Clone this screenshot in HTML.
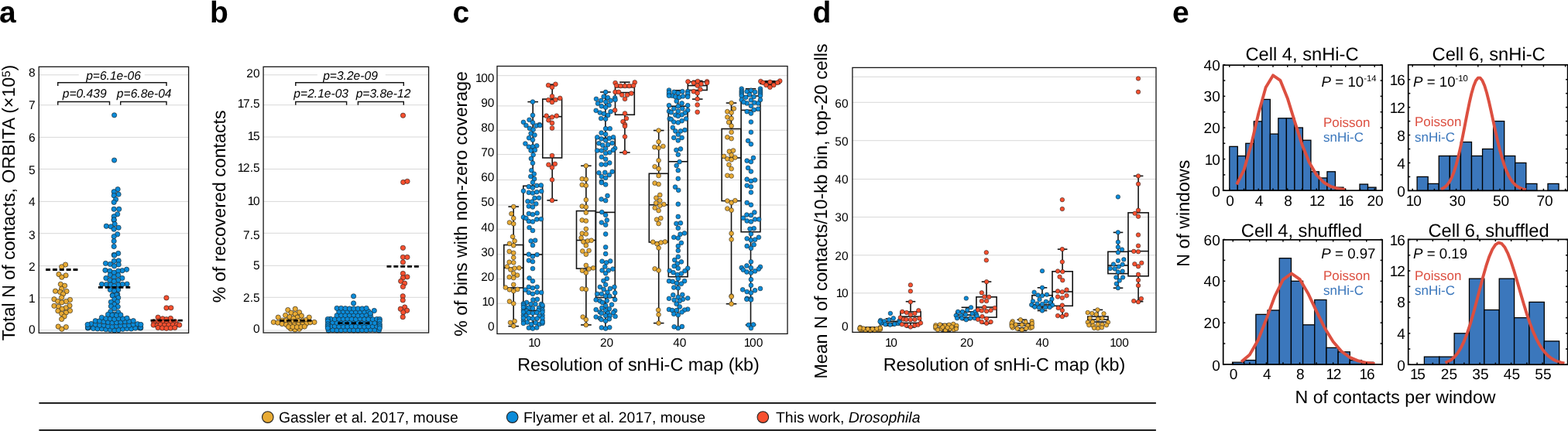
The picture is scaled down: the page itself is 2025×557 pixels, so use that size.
<!DOCTYPE html>
<html><head><meta charset="utf-8"><title>Figure</title>
<style>html,body{margin:0;padding:0;background:#fff;}svg{display:block;}</style></head>
<body>
<svg width="2025" height="557" viewBox="0 0 2025 557" font-family="'Liberation Sans', Arial, Helvetica, sans-serif" text-rendering="geometricPrecision">
<text x="-1.00" y="28.60" font-size="39" text-anchor="start" fill="#000" font-weight="bold">a</text>
<text x="271.00" y="29.00" font-size="39" text-anchor="start" fill="#000" font-weight="bold">b</text>
<text x="584.50" y="28.50" font-size="39" text-anchor="start" fill="#000" font-weight="bold">c</text>
<text x="1049.50" y="28.50" font-size="39" text-anchor="start" fill="#000" font-weight="bold">d</text>
<text x="1514.00" y="28.50" font-size="39" text-anchor="start" fill="#000" font-weight="bold">e</text>
<line x1="50.20" y1="96.80" x2="243.60" y2="96.80" stroke="#d8d8d8" stroke-width="1" />
<line x1="50.20" y1="135.80" x2="243.60" y2="135.80" stroke="#d8d8d8" stroke-width="1" />
<line x1="50.20" y1="177.40" x2="243.60" y2="177.40" stroke="#d8d8d8" stroke-width="1" />
<line x1="50.20" y1="218.50" x2="243.60" y2="218.50" stroke="#d8d8d8" stroke-width="1" />
<line x1="50.20" y1="260.40" x2="243.60" y2="260.40" stroke="#d8d8d8" stroke-width="1" />
<line x1="50.20" y1="301.70" x2="243.60" y2="301.70" stroke="#d8d8d8" stroke-width="1" />
<line x1="50.20" y1="343.60" x2="243.60" y2="343.60" stroke="#d8d8d8" stroke-width="1" />
<line x1="50.20" y1="384.80" x2="243.60" y2="384.80" stroke="#d8d8d8" stroke-width="1" />
<line x1="50.20" y1="426.70" x2="243.60" y2="426.70" stroke="#d8d8d8" stroke-width="1" />
<text x="45.60" y="99.38" font-size="15.5" text-anchor="end" fill="#000">8</text>
<text x="45.60" y="141.38" font-size="15.5" text-anchor="end" fill="#000">7</text>
<text x="45.60" y="182.58" font-size="15.5" text-anchor="end" fill="#000">6</text>
<text x="45.60" y="224.88" font-size="15.5" text-anchor="end" fill="#000">5</text>
<text x="45.60" y="265.88" font-size="15.5" text-anchor="end" fill="#000">4</text>
<text x="45.60" y="309.08" font-size="15.5" text-anchor="end" fill="#000">3</text>
<text x="45.60" y="349.88" font-size="15.5" text-anchor="end" fill="#000">2</text>
<text x="45.60" y="390.88" font-size="15.5" text-anchor="end" fill="#000">1</text>
<text x="45.60" y="431.38" font-size="15.5" text-anchor="end" fill="#000">0</text>
<text x="18.80" y="262.00" font-size="23.2" text-anchor="middle" fill="#000" transform="rotate(-90 18.80 262.00)">Total N of contacts, ORBITA (×10<tspan font-size="15" dy="-5.8">5</tspan><tspan dy="5.8">)</tspan></text>
<circle cx="84.54" cy="342.05" r="3.15" fill="#E8AB35" stroke="#1a1a1a" stroke-width="0.6"/>
<circle cx="79.60" cy="344.81" r="3.15" fill="#E8AB35" stroke="#1a1a1a" stroke-width="0.6"/>
<circle cx="75.95" cy="354.49" r="3.15" fill="#E8AB35" stroke="#1a1a1a" stroke-width="0.6"/>
<circle cx="85.04" cy="355.88" r="3.15" fill="#E8AB35" stroke="#1a1a1a" stroke-width="0.6"/>
<circle cx="79.80" cy="358.15" r="3.15" fill="#E8AB35" stroke="#1a1a1a" stroke-width="0.6"/>
<circle cx="78.32" cy="367.33" r="3.15" fill="#E8AB35" stroke="#1a1a1a" stroke-width="0.6"/>
<circle cx="83.56" cy="369.21" r="3.15" fill="#E8AB35" stroke="#1a1a1a" stroke-width="0.6"/>
<circle cx="79.60" cy="373.16" r="3.15" fill="#E8AB35" stroke="#1a1a1a" stroke-width="0.6"/>
<circle cx="71.51" cy="376.22" r="3.15" fill="#E8AB35" stroke="#1a1a1a" stroke-width="0.6"/>
<circle cx="86.02" cy="376.42" r="3.15" fill="#E8AB35" stroke="#1a1a1a" stroke-width="0.6"/>
<circle cx="77.63" cy="377.41" r="3.15" fill="#E8AB35" stroke="#1a1a1a" stroke-width="0.6"/>
<circle cx="81.58" cy="379.88" r="3.15" fill="#E8AB35" stroke="#1a1a1a" stroke-width="0.6"/>
<circle cx="79.60" cy="384.44" r="3.15" fill="#E8AB35" stroke="#1a1a1a" stroke-width="0.6"/>
<circle cx="69.93" cy="386.72" r="3.15" fill="#E8AB35" stroke="#1a1a1a" stroke-width="0.6"/>
<circle cx="90.47" cy="387.41" r="3.15" fill="#E8AB35" stroke="#1a1a1a" stroke-width="0.6"/>
<circle cx="74.67" cy="389.38" r="3.15" fill="#E8AB35" stroke="#1a1a1a" stroke-width="0.6"/>
<circle cx="85.33" cy="389.58" r="3.15" fill="#E8AB35" stroke="#1a1a1a" stroke-width="0.6"/>
<circle cx="79.80" cy="390.86" r="3.15" fill="#E8AB35" stroke="#1a1a1a" stroke-width="0.6"/>
<circle cx="69.93" cy="395.31" r="3.15" fill="#E8AB35" stroke="#1a1a1a" stroke-width="0.6"/>
<circle cx="89.98" cy="395.01" r="3.15" fill="#E8AB35" stroke="#1a1a1a" stroke-width="0.6"/>
<circle cx="75.65" cy="396.30" r="3.15" fill="#E8AB35" stroke="#1a1a1a" stroke-width="0.6"/>
<circle cx="85.04" cy="397.78" r="3.15" fill="#E8AB35" stroke="#1a1a1a" stroke-width="0.6"/>
<circle cx="80.10" cy="399.26" r="3.15" fill="#E8AB35" stroke="#1a1a1a" stroke-width="0.6"/>
<circle cx="74.86" cy="401.73" r="3.15" fill="#E8AB35" stroke="#1a1a1a" stroke-width="0.6"/>
<circle cx="90.47" cy="401.53" r="3.15" fill="#E8AB35" stroke="#1a1a1a" stroke-width="0.6"/>
<circle cx="85.33" cy="404.00" r="3.15" fill="#E8AB35" stroke="#1a1a1a" stroke-width="0.6"/>
<circle cx="79.60" cy="405.48" r="3.15" fill="#E8AB35" stroke="#1a1a1a" stroke-width="0.6"/>
<circle cx="83.06" cy="408.94" r="3.15" fill="#E8AB35" stroke="#1a1a1a" stroke-width="0.6"/>
<circle cx="79.60" cy="412.40" r="3.15" fill="#E8AB35" stroke="#1a1a1a" stroke-width="0.6"/>
<circle cx="75.16" cy="421.98" r="3.15" fill="#E8AB35" stroke="#1a1a1a" stroke-width="0.6"/>
<circle cx="85.33" cy="422.67" r="3.15" fill="#E8AB35" stroke="#1a1a1a" stroke-width="0.6"/>
<circle cx="79.80" cy="425.23" r="3.15" fill="#E8AB35" stroke="#1a1a1a" stroke-width="0.6"/>
<circle cx="147.60" cy="148.80" r="3.15" fill="#0B8BD9" stroke="#1a1a1a" stroke-width="0.6"/>
<circle cx="147.56" cy="207.06" r="3.15" fill="#0B8BD9" stroke="#1a1a1a" stroke-width="0.6"/>
<circle cx="152.10" cy="244.59" r="3.15" fill="#0B8BD9" stroke="#1a1a1a" stroke-width="0.6"/>
<circle cx="147.16" cy="247.75" r="3.15" fill="#0B8BD9" stroke="#1a1a1a" stroke-width="0.6"/>
<circle cx="153.09" cy="251.11" r="3.15" fill="#0B8BD9" stroke="#1a1a1a" stroke-width="0.6"/>
<circle cx="147.16" cy="252.69" r="3.15" fill="#0B8BD9" stroke="#1a1a1a" stroke-width="0.6"/>
<circle cx="149.53" cy="257.63" r="3.15" fill="#0B8BD9" stroke="#1a1a1a" stroke-width="0.6"/>
<circle cx="147.16" cy="261.38" r="3.15" fill="#0B8BD9" stroke="#1a1a1a" stroke-width="0.6"/>
<circle cx="147.16" cy="270.27" r="3.15" fill="#0B8BD9" stroke="#1a1a1a" stroke-width="0.6"/>
<circle cx="153.68" cy="270.27" r="3.15" fill="#0B8BD9" stroke="#1a1a1a" stroke-width="0.6"/>
<circle cx="151.70" cy="276.79" r="3.15" fill="#0B8BD9" stroke="#1a1a1a" stroke-width="0.6"/>
<circle cx="147.16" cy="279.75" r="3.15" fill="#0B8BD9" stroke="#1a1a1a" stroke-width="0.6"/>
<circle cx="147.16" cy="284.30" r="3.15" fill="#0B8BD9" stroke="#1a1a1a" stroke-width="0.6"/>
<circle cx="147.16" cy="283.95" r="3.15" fill="#0B8BD9" stroke="#1a1a1a" stroke-width="0.6"/>
<circle cx="148.15" cy="289.48" r="3.15" fill="#0B8BD9" stroke="#1a1a1a" stroke-width="0.6"/>
<circle cx="137.28" cy="292.25" r="3.15" fill="#0B8BD9" stroke="#1a1a1a" stroke-width="0.6"/>
<circle cx="143.21" cy="292.84" r="3.15" fill="#0B8BD9" stroke="#1a1a1a" stroke-width="0.6"/>
<circle cx="153.09" cy="294.22" r="3.15" fill="#0B8BD9" stroke="#1a1a1a" stroke-width="0.6"/>
<circle cx="147.16" cy="296.20" r="3.15" fill="#0B8BD9" stroke="#1a1a1a" stroke-width="0.6"/>
<circle cx="151.70" cy="302.72" r="3.15" fill="#0B8BD9" stroke="#1a1a1a" stroke-width="0.6"/>
<circle cx="147.16" cy="305.68" r="3.15" fill="#0B8BD9" stroke="#1a1a1a" stroke-width="0.6"/>
<circle cx="147.16" cy="311.60" r="3.15" fill="#0B8BD9" stroke="#1a1a1a" stroke-width="0.6"/>
<circle cx="147.16" cy="318.52" r="3.15" fill="#0B8BD9" stroke="#1a1a1a" stroke-width="0.6"/>
<circle cx="152.69" cy="327.41" r="3.15" fill="#0B8BD9" stroke="#1a1a1a" stroke-width="0.6"/>
<circle cx="147.16" cy="329.38" r="3.15" fill="#0B8BD9" stroke="#1a1a1a" stroke-width="0.6"/>
<circle cx="147.75" cy="330.00" r="3.15" fill="#0B8BD9" stroke="#1a1a1a" stroke-width="0.6"/>
<circle cx="153.19" cy="336.91" r="3.15" fill="#0B8BD9" stroke="#1a1a1a" stroke-width="0.6"/>
<circle cx="147.26" cy="337.41" r="3.15" fill="#0B8BD9" stroke="#1a1a1a" stroke-width="0.6"/>
<circle cx="136.40" cy="340.37" r="3.15" fill="#0B8BD9" stroke="#1a1a1a" stroke-width="0.6"/>
<circle cx="142.32" cy="341.36" r="3.15" fill="#0B8BD9" stroke="#1a1a1a" stroke-width="0.6"/>
<circle cx="153.19" cy="341.85" r="3.15" fill="#0B8BD9" stroke="#1a1a1a" stroke-width="0.6"/>
<circle cx="147.56" cy="343.83" r="3.15" fill="#0B8BD9" stroke="#1a1a1a" stroke-width="0.6"/>
<circle cx="163.56" cy="348.27" r="3.15" fill="#0B8BD9" stroke="#1a1a1a" stroke-width="0.6"/>
<circle cx="135.90" cy="349.26" r="3.15" fill="#0B8BD9" stroke="#1a1a1a" stroke-width="0.6"/>
<circle cx="141.83" cy="350.25" r="3.15" fill="#0B8BD9" stroke="#1a1a1a" stroke-width="0.6"/>
<circle cx="157.93" cy="349.75" r="3.15" fill="#0B8BD9" stroke="#1a1a1a" stroke-width="0.6"/>
<circle cx="152.69" cy="350.25" r="3.15" fill="#0B8BD9" stroke="#1a1a1a" stroke-width="0.6"/>
<circle cx="147.26" cy="352.22" r="3.15" fill="#0B8BD9" stroke="#1a1a1a" stroke-width="0.6"/>
<circle cx="142.32" cy="355.48" r="3.15" fill="#0B8BD9" stroke="#1a1a1a" stroke-width="0.6"/>
<circle cx="152.69" cy="355.48" r="3.15" fill="#0B8BD9" stroke="#1a1a1a" stroke-width="0.6"/>
<circle cx="147.26" cy="358.15" r="3.15" fill="#0B8BD9" stroke="#1a1a1a" stroke-width="0.6"/>
<circle cx="136.89" cy="359.43" r="3.15" fill="#0B8BD9" stroke="#1a1a1a" stroke-width="0.6"/>
<circle cx="157.83" cy="359.43" r="3.15" fill="#0B8BD9" stroke="#1a1a1a" stroke-width="0.6"/>
<circle cx="141.83" cy="362.10" r="3.15" fill="#0B8BD9" stroke="#1a1a1a" stroke-width="0.6"/>
<circle cx="152.69" cy="362.10" r="3.15" fill="#0B8BD9" stroke="#1a1a1a" stroke-width="0.6"/>
<circle cx="147.26" cy="363.58" r="3.15" fill="#0B8BD9" stroke="#1a1a1a" stroke-width="0.6"/>
<circle cx="131.46" cy="367.33" r="3.15" fill="#0B8BD9" stroke="#1a1a1a" stroke-width="0.6"/>
<circle cx="164.05" cy="367.04" r="3.15" fill="#0B8BD9" stroke="#1a1a1a" stroke-width="0.6"/>
<circle cx="137.38" cy="367.53" r="3.15" fill="#0B8BD9" stroke="#1a1a1a" stroke-width="0.6"/>
<circle cx="158.12" cy="367.33" r="3.15" fill="#0B8BD9" stroke="#1a1a1a" stroke-width="0.6"/>
<circle cx="142.81" cy="368.02" r="3.15" fill="#0B8BD9" stroke="#1a1a1a" stroke-width="0.6"/>
<circle cx="152.69" cy="368.02" r="3.15" fill="#0B8BD9" stroke="#1a1a1a" stroke-width="0.6"/>
<circle cx="147.56" cy="369.51" r="3.15" fill="#0B8BD9" stroke="#1a1a1a" stroke-width="0.6"/>
<circle cx="142.32" cy="374.44" r="3.15" fill="#0B8BD9" stroke="#1a1a1a" stroke-width="0.6"/>
<circle cx="152.69" cy="374.44" r="3.15" fill="#0B8BD9" stroke="#1a1a1a" stroke-width="0.6"/>
<circle cx="147.56" cy="375.93" r="3.15" fill="#0B8BD9" stroke="#1a1a1a" stroke-width="0.6"/>
<circle cx="145.28" cy="381.36" r="3.15" fill="#0B8BD9" stroke="#1a1a1a" stroke-width="0.6"/>
<circle cx="151.70" cy="380.37" r="3.15" fill="#0B8BD9" stroke="#1a1a1a" stroke-width="0.6"/>
<circle cx="150.72" cy="380.99" r="3.15" fill="#0B8BD9" stroke="#1a1a1a" stroke-width="0.6"/>
<circle cx="145.28" cy="381.98" r="3.15" fill="#0B8BD9" stroke="#1a1a1a" stroke-width="0.6"/>
<circle cx="152.69" cy="384.74" r="3.15" fill="#0B8BD9" stroke="#1a1a1a" stroke-width="0.6"/>
<circle cx="147.75" cy="386.91" r="3.15" fill="#0B8BD9" stroke="#1a1a1a" stroke-width="0.6"/>
<circle cx="143.31" cy="390.37" r="3.15" fill="#0B8BD9" stroke="#1a1a1a" stroke-width="0.6"/>
<circle cx="151.70" cy="389.88" r="3.15" fill="#0B8BD9" stroke="#1a1a1a" stroke-width="0.6"/>
<circle cx="147.75" cy="393.33" r="3.15" fill="#0B8BD9" stroke="#1a1a1a" stroke-width="0.6"/>
<circle cx="143.31" cy="395.80" r="3.15" fill="#0B8BD9" stroke="#1a1a1a" stroke-width="0.6"/>
<circle cx="152.20" cy="396.30" r="3.15" fill="#0B8BD9" stroke="#1a1a1a" stroke-width="0.6"/>
<circle cx="147.75" cy="398.77" r="3.15" fill="#0B8BD9" stroke="#1a1a1a" stroke-width="0.6"/>
<circle cx="142.81" cy="402.72" r="3.15" fill="#0B8BD9" stroke="#1a1a1a" stroke-width="0.6"/>
<circle cx="152.69" cy="403.70" r="3.15" fill="#0B8BD9" stroke="#1a1a1a" stroke-width="0.6"/>
<circle cx="147.75" cy="406.17" r="3.15" fill="#0B8BD9" stroke="#1a1a1a" stroke-width="0.6"/>
<circle cx="115.10" cy="423.17" r="3.15" fill="#0B8BD9" stroke="#1a1a1a" stroke-width="0.6"/>
<circle cx="120.53" cy="424.43" r="3.15" fill="#0B8BD9" stroke="#1a1a1a" stroke-width="0.6"/>
<circle cx="125.97" cy="424.89" r="3.15" fill="#0B8BD9" stroke="#1a1a1a" stroke-width="0.6"/>
<circle cx="131.40" cy="424.93" r="3.15" fill="#0B8BD9" stroke="#1a1a1a" stroke-width="0.6"/>
<circle cx="136.83" cy="425.71" r="3.15" fill="#0B8BD9" stroke="#1a1a1a" stroke-width="0.6"/>
<circle cx="142.27" cy="426.21" r="3.15" fill="#0B8BD9" stroke="#1a1a1a" stroke-width="0.6"/>
<circle cx="147.70" cy="426.95" r="3.15" fill="#0B8BD9" stroke="#1a1a1a" stroke-width="0.6"/>
<circle cx="153.13" cy="426.55" r="3.15" fill="#0B8BD9" stroke="#1a1a1a" stroke-width="0.6"/>
<circle cx="158.57" cy="425.31" r="3.15" fill="#0B8BD9" stroke="#1a1a1a" stroke-width="0.6"/>
<circle cx="164.00" cy="424.70" r="3.15" fill="#0B8BD9" stroke="#1a1a1a" stroke-width="0.6"/>
<circle cx="169.43" cy="424.96" r="3.15" fill="#0B8BD9" stroke="#1a1a1a" stroke-width="0.6"/>
<circle cx="174.87" cy="424.02" r="3.15" fill="#0B8BD9" stroke="#1a1a1a" stroke-width="0.6"/>
<circle cx="180.30" cy="423.80" r="3.15" fill="#0B8BD9" stroke="#1a1a1a" stroke-width="0.6"/>
<circle cx="117.80" cy="418.51" r="3.15" fill="#0B8BD9" stroke="#1a1a1a" stroke-width="0.6"/>
<circle cx="123.24" cy="419.50" r="3.15" fill="#0B8BD9" stroke="#1a1a1a" stroke-width="0.6"/>
<circle cx="128.67" cy="420.32" r="3.15" fill="#0B8BD9" stroke="#1a1a1a" stroke-width="0.6"/>
<circle cx="134.11" cy="420.37" r="3.15" fill="#0B8BD9" stroke="#1a1a1a" stroke-width="0.6"/>
<circle cx="139.55" cy="421.63" r="3.15" fill="#0B8BD9" stroke="#1a1a1a" stroke-width="0.6"/>
<circle cx="144.98" cy="422.13" r="3.15" fill="#0B8BD9" stroke="#1a1a1a" stroke-width="0.6"/>
<circle cx="150.42" cy="421.26" r="3.15" fill="#0B8BD9" stroke="#1a1a1a" stroke-width="0.6"/>
<circle cx="155.85" cy="420.71" r="3.15" fill="#0B8BD9" stroke="#1a1a1a" stroke-width="0.6"/>
<circle cx="161.29" cy="420.68" r="3.15" fill="#0B8BD9" stroke="#1a1a1a" stroke-width="0.6"/>
<circle cx="166.73" cy="420.54" r="3.15" fill="#0B8BD9" stroke="#1a1a1a" stroke-width="0.6"/>
<circle cx="172.16" cy="419.43" r="3.15" fill="#0B8BD9" stroke="#1a1a1a" stroke-width="0.6"/>
<circle cx="177.60" cy="418.73" r="3.15" fill="#0B8BD9" stroke="#1a1a1a" stroke-width="0.6"/>
<circle cx="123.20" cy="414.67" r="3.15" fill="#0B8BD9" stroke="#1a1a1a" stroke-width="0.6"/>
<circle cx="128.64" cy="414.82" r="3.15" fill="#0B8BD9" stroke="#1a1a1a" stroke-width="0.6"/>
<circle cx="134.09" cy="415.56" r="3.15" fill="#0B8BD9" stroke="#1a1a1a" stroke-width="0.6"/>
<circle cx="139.53" cy="416.32" r="3.15" fill="#0B8BD9" stroke="#1a1a1a" stroke-width="0.6"/>
<circle cx="144.98" cy="416.92" r="3.15" fill="#0B8BD9" stroke="#1a1a1a" stroke-width="0.6"/>
<circle cx="150.42" cy="416.66" r="3.15" fill="#0B8BD9" stroke="#1a1a1a" stroke-width="0.6"/>
<circle cx="155.87" cy="416.11" r="3.15" fill="#0B8BD9" stroke="#1a1a1a" stroke-width="0.6"/>
<circle cx="161.31" cy="415.56" r="3.15" fill="#0B8BD9" stroke="#1a1a1a" stroke-width="0.6"/>
<circle cx="166.76" cy="415.25" r="3.15" fill="#0B8BD9" stroke="#1a1a1a" stroke-width="0.6"/>
<circle cx="172.20" cy="414.54" r="3.15" fill="#0B8BD9" stroke="#1a1a1a" stroke-width="0.6"/>
<circle cx="131.40" cy="410.29" r="3.15" fill="#0B8BD9" stroke="#1a1a1a" stroke-width="0.6"/>
<circle cx="136.83" cy="411.65" r="3.15" fill="#0B8BD9" stroke="#1a1a1a" stroke-width="0.6"/>
<circle cx="142.27" cy="411.91" r="3.15" fill="#0B8BD9" stroke="#1a1a1a" stroke-width="0.6"/>
<circle cx="147.70" cy="412.54" r="3.15" fill="#0B8BD9" stroke="#1a1a1a" stroke-width="0.6"/>
<circle cx="153.13" cy="411.54" r="3.15" fill="#0B8BD9" stroke="#1a1a1a" stroke-width="0.6"/>
<circle cx="158.57" cy="411.81" r="3.15" fill="#0B8BD9" stroke="#1a1a1a" stroke-width="0.6"/>
<circle cx="164.00" cy="411.13" r="3.15" fill="#0B8BD9" stroke="#1a1a1a" stroke-width="0.6"/>
<circle cx="139.50" cy="406.40" r="3.15" fill="#0B8BD9" stroke="#1a1a1a" stroke-width="0.6"/>
<circle cx="144.97" cy="407.16" r="3.15" fill="#0B8BD9" stroke="#1a1a1a" stroke-width="0.6"/>
<circle cx="150.43" cy="407.55" r="3.15" fill="#0B8BD9" stroke="#1a1a1a" stroke-width="0.6"/>
<circle cx="155.90" cy="406.99" r="3.15" fill="#0B8BD9" stroke="#1a1a1a" stroke-width="0.6"/>
<circle cx="113.40" cy="424.00" r="3.15" fill="#0B8BD9" stroke="#1a1a1a" stroke-width="0.6"/>
<circle cx="113.40" cy="423.00" r="3.15" fill="#0B8BD9" stroke="#1a1a1a" stroke-width="0.6"/>
<circle cx="113.10" cy="419.50" r="3.15" fill="#0B8BD9" stroke="#1a1a1a" stroke-width="0.6"/>
<circle cx="181.70" cy="424.00" r="3.15" fill="#0B8BD9" stroke="#1a1a1a" stroke-width="0.6"/>
<circle cx="181.70" cy="423.00" r="3.15" fill="#0B8BD9" stroke="#1a1a1a" stroke-width="0.6"/>
<circle cx="181.90" cy="419.50" r="3.15" fill="#0B8BD9" stroke="#1a1a1a" stroke-width="0.6"/>
<circle cx="214.91" cy="384.94" r="3.15" fill="#F8502F" stroke="#1a1a1a" stroke-width="0.6"/>
<circle cx="214.91" cy="397.98" r="3.15" fill="#F8502F" stroke="#1a1a1a" stroke-width="0.6"/>
<circle cx="220.84" cy="397.78" r="3.15" fill="#F8502F" stroke="#1a1a1a" stroke-width="0.6"/>
<circle cx="204.05" cy="410.12" r="3.15" fill="#F8502F" stroke="#1a1a1a" stroke-width="0.6"/>
<circle cx="209.98" cy="411.80" r="3.15" fill="#F8502F" stroke="#1a1a1a" stroke-width="0.6"/>
<circle cx="214.91" cy="412.59" r="3.15" fill="#F8502F" stroke="#1a1a1a" stroke-width="0.6"/>
<circle cx="220.35" cy="411.41" r="3.15" fill="#F8502F" stroke="#1a1a1a" stroke-width="0.6"/>
<circle cx="198.62" cy="415.75" r="3.15" fill="#F8502F" stroke="#1a1a1a" stroke-width="0.6"/>
<circle cx="204.54" cy="415.06" r="3.15" fill="#F8502F" stroke="#1a1a1a" stroke-width="0.6"/>
<circle cx="209.98" cy="416.35" r="3.15" fill="#F8502F" stroke="#1a1a1a" stroke-width="0.6"/>
<circle cx="215.41" cy="416.74" r="3.15" fill="#F8502F" stroke="#1a1a1a" stroke-width="0.6"/>
<circle cx="220.84" cy="416.05" r="3.15" fill="#F8502F" stroke="#1a1a1a" stroke-width="0.6"/>
<circle cx="226.27" cy="415.75" r="3.15" fill="#F8502F" stroke="#1a1a1a" stroke-width="0.6"/>
<circle cx="198.12" cy="420.00" r="3.15" fill="#F8502F" stroke="#1a1a1a" stroke-width="0.6"/>
<circle cx="203.06" cy="420.49" r="3.15" fill="#F8502F" stroke="#1a1a1a" stroke-width="0.6"/>
<circle cx="207.21" cy="419.51" r="3.15" fill="#F8502F" stroke="#1a1a1a" stroke-width="0.6"/>
<circle cx="212.44" cy="420.30" r="3.15" fill="#F8502F" stroke="#1a1a1a" stroke-width="0.6"/>
<circle cx="217.88" cy="420.00" r="3.15" fill="#F8502F" stroke="#1a1a1a" stroke-width="0.6"/>
<circle cx="223.31" cy="419.70" r="3.15" fill="#F8502F" stroke="#1a1a1a" stroke-width="0.6"/>
<circle cx="228.74" cy="419.31" r="3.15" fill="#F8502F" stroke="#1a1a1a" stroke-width="0.6"/>
<circle cx="231.70" cy="420.00" r="3.15" fill="#F8502F" stroke="#1a1a1a" stroke-width="0.6"/>
<circle cx="204.05" cy="423.46" r="3.15" fill="#F8502F" stroke="#1a1a1a" stroke-width="0.6"/>
<circle cx="209.48" cy="423.95" r="3.15" fill="#F8502F" stroke="#1a1a1a" stroke-width="0.6"/>
<circle cx="214.91" cy="424.25" r="3.15" fill="#F8502F" stroke="#1a1a1a" stroke-width="0.6"/>
<circle cx="220.35" cy="423.95" r="3.15" fill="#F8502F" stroke="#1a1a1a" stroke-width="0.6"/>
<circle cx="225.78" cy="423.46" r="3.15" fill="#F8502F" stroke="#1a1a1a" stroke-width="0.6"/>
<line x1="59.10" y1="348.50" x2="100.90" y2="348.50" stroke="#000" stroke-width="2.8" stroke-dasharray="5.9 2.95"/>
<line x1="126.90" y1="371.40" x2="168.50" y2="371.40" stroke="#000" stroke-width="2.8" stroke-dasharray="5.9 2.95"/>
<line x1="194.50" y1="414.20" x2="236.20" y2="414.20" stroke="#000" stroke-width="2.8" stroke-dasharray="5.9 2.95"/>
<rect x="101.70" y="90.90" width="85.00" height="15.00" stroke="none" stroke-width="1.3" fill="#fff" />
<path d="M74.70 111.00V106.70H215.00V111.00" fill="none" stroke="#161616" stroke-width="1.45"/>
<path d="M74.70 135.80V131.50H141.50V135.80" fill="none" stroke="#161616" stroke-width="1.45"/>
<path d="M155.70 135.80V131.50H215.00V135.80" fill="none" stroke="#161616" stroke-width="1.45"/>
<text x="146.50" y="102.90" font-size="15.6" text-anchor="middle" fill="#000" style="font-style:italic">p=6.1e-06</text>
<text x="109.20" y="125.90" font-size="15.6" text-anchor="middle" fill="#000" style="font-style:italic">p=0.439</text>
<text x="186.20" y="125.90" font-size="15.6" text-anchor="middle" fill="#000" style="font-style:italic">p=6.8e-04</text>
<rect x="50.20" y="86.30" width="193.40" height="344.00" stroke="#161616" stroke-width="1.3" fill="none" />
<line x1="340.10" y1="96.80" x2="553.60" y2="96.80" stroke="#d8d8d8" stroke-width="1" />
<line x1="340.10" y1="135.70" x2="553.60" y2="135.70" stroke="#d8d8d8" stroke-width="1" />
<line x1="340.10" y1="177.00" x2="553.60" y2="177.00" stroke="#d8d8d8" stroke-width="1" />
<line x1="340.10" y1="218.50" x2="553.60" y2="218.50" stroke="#d8d8d8" stroke-width="1" />
<line x1="340.10" y1="260.40" x2="553.60" y2="260.40" stroke="#d8d8d8" stroke-width="1" />
<line x1="340.10" y1="301.30" x2="553.60" y2="301.30" stroke="#d8d8d8" stroke-width="1" />
<line x1="340.10" y1="343.30" x2="553.60" y2="343.30" stroke="#d8d8d8" stroke-width="1" />
<line x1="340.10" y1="384.30" x2="553.60" y2="384.30" stroke="#d8d8d8" stroke-width="1" />
<line x1="340.10" y1="427.00" x2="553.60" y2="427.00" stroke="#d8d8d8" stroke-width="1" />
<circle cx="371.80" cy="400.54" r="3.15" fill="#E8AB35" stroke="#1a1a1a" stroke-width="0.6"/>
<circle cx="381.28" cy="399.26" r="3.15" fill="#E8AB35" stroke="#1a1a1a" stroke-width="0.6"/>
<circle cx="376.05" cy="404.20" r="3.15" fill="#E8AB35" stroke="#1a1a1a" stroke-width="0.6"/>
<circle cx="386.62" cy="403.70" r="3.15" fill="#E8AB35" stroke="#1a1a1a" stroke-width="0.6"/>
<circle cx="381.28" cy="405.88" r="3.15" fill="#E8AB35" stroke="#1a1a1a" stroke-width="0.6"/>
<circle cx="368.64" cy="407.46" r="3.15" fill="#E8AB35" stroke="#1a1a1a" stroke-width="0.6"/>
<circle cx="389.38" cy="408.15" r="3.15" fill="#E8AB35" stroke="#1a1a1a" stroke-width="0.6"/>
<circle cx="374.07" cy="409.63" r="3.15" fill="#E8AB35" stroke="#1a1a1a" stroke-width="0.6"/>
<circle cx="383.95" cy="410.12" r="3.15" fill="#E8AB35" stroke="#1a1a1a" stroke-width="0.6"/>
<circle cx="359.26" cy="410.12" r="3.15" fill="#E8AB35" stroke="#1a1a1a" stroke-width="0.6"/>
<circle cx="399.26" cy="410.12" r="3.15" fill="#E8AB35" stroke="#1a1a1a" stroke-width="0.6"/>
<circle cx="379.01" cy="411.41" r="3.15" fill="#E8AB35" stroke="#1a1a1a" stroke-width="0.6"/>
<circle cx="394.81" cy="413.58" r="3.15" fill="#E8AB35" stroke="#1a1a1a" stroke-width="0.6"/>
<circle cx="364.69" cy="414.07" r="3.15" fill="#E8AB35" stroke="#1a1a1a" stroke-width="0.6"/>
<circle cx="369.63" cy="414.07" r="3.15" fill="#E8AB35" stroke="#1a1a1a" stroke-width="0.6"/>
<circle cx="353.33" cy="416.35" r="3.15" fill="#E8AB35" stroke="#1a1a1a" stroke-width="0.6"/>
<circle cx="405.98" cy="416.35" r="3.15" fill="#E8AB35" stroke="#1a1a1a" stroke-width="0.6"/>
<circle cx="358.77" cy="417.04" r="3.15" fill="#E8AB35" stroke="#1a1a1a" stroke-width="0.6"/>
<circle cx="374.57" cy="415.06" r="3.15" fill="#E8AB35" stroke="#1a1a1a" stroke-width="0.6"/>
<circle cx="379.51" cy="415.56" r="3.15" fill="#E8AB35" stroke="#1a1a1a" stroke-width="0.6"/>
<circle cx="384.94" cy="414.57" r="3.15" fill="#E8AB35" stroke="#1a1a1a" stroke-width="0.6"/>
<circle cx="390.37" cy="414.57" r="3.15" fill="#E8AB35" stroke="#1a1a1a" stroke-width="0.6"/>
<circle cx="400.44" cy="416.74" r="3.15" fill="#E8AB35" stroke="#1a1a1a" stroke-width="0.6"/>
<circle cx="364.20" cy="418.52" r="3.15" fill="#E8AB35" stroke="#1a1a1a" stroke-width="0.6"/>
<circle cx="395.31" cy="418.52" r="3.15" fill="#E8AB35" stroke="#1a1a1a" stroke-width="0.6"/>
<circle cx="369.63" cy="419.51" r="3.15" fill="#E8AB35" stroke="#1a1a1a" stroke-width="0.6"/>
<circle cx="374.57" cy="420.00" r="3.15" fill="#E8AB35" stroke="#1a1a1a" stroke-width="0.6"/>
<circle cx="380.00" cy="420.00" r="3.15" fill="#E8AB35" stroke="#1a1a1a" stroke-width="0.6"/>
<circle cx="385.43" cy="419.51" r="3.15" fill="#E8AB35" stroke="#1a1a1a" stroke-width="0.6"/>
<circle cx="390.86" cy="419.51" r="3.15" fill="#E8AB35" stroke="#1a1a1a" stroke-width="0.6"/>
<circle cx="375.56" cy="424.94" r="3.15" fill="#E8AB35" stroke="#1a1a1a" stroke-width="0.6"/>
<circle cx="380.99" cy="425.93" r="3.15" fill="#E8AB35" stroke="#1a1a1a" stroke-width="0.6"/>
<circle cx="386.42" cy="425.23" r="3.15" fill="#E8AB35" stroke="#1a1a1a" stroke-width="0.6"/>
<circle cx="372.59" cy="422.47" r="3.15" fill="#E8AB35" stroke="#1a1a1a" stroke-width="0.6"/>
<circle cx="378.02" cy="422.47" r="3.15" fill="#E8AB35" stroke="#1a1a1a" stroke-width="0.6"/>
<circle cx="383.46" cy="422.67" r="3.15" fill="#E8AB35" stroke="#1a1a1a" stroke-width="0.6"/>
<circle cx="388.89" cy="422.47" r="3.15" fill="#E8AB35" stroke="#1a1a1a" stroke-width="0.6"/>
<circle cx="393.33" cy="421.98" r="3.15" fill="#E8AB35" stroke="#1a1a1a" stroke-width="0.6"/>
<circle cx="456.60" cy="382.80" r="3.15" fill="#0B8BD9" stroke="#1a1a1a" stroke-width="0.6"/>
<circle cx="456.60" cy="391.90" r="3.15" fill="#0B8BD9" stroke="#1a1a1a" stroke-width="0.6"/>
<circle cx="424.20" cy="427.04" r="3.15" fill="#0B8BD9" stroke="#1a1a1a" stroke-width="0.6"/>
<circle cx="429.63" cy="426.52" r="3.15" fill="#0B8BD9" stroke="#1a1a1a" stroke-width="0.6"/>
<circle cx="435.07" cy="426.93" r="3.15" fill="#0B8BD9" stroke="#1a1a1a" stroke-width="0.6"/>
<circle cx="440.50" cy="426.77" r="3.15" fill="#0B8BD9" stroke="#1a1a1a" stroke-width="0.6"/>
<circle cx="445.93" cy="426.40" r="3.15" fill="#0B8BD9" stroke="#1a1a1a" stroke-width="0.6"/>
<circle cx="451.37" cy="426.69" r="3.15" fill="#0B8BD9" stroke="#1a1a1a" stroke-width="0.6"/>
<circle cx="456.80" cy="426.98" r="3.15" fill="#0B8BD9" stroke="#1a1a1a" stroke-width="0.6"/>
<circle cx="462.23" cy="426.95" r="3.15" fill="#0B8BD9" stroke="#1a1a1a" stroke-width="0.6"/>
<circle cx="467.67" cy="426.61" r="3.15" fill="#0B8BD9" stroke="#1a1a1a" stroke-width="0.6"/>
<circle cx="473.10" cy="426.69" r="3.15" fill="#0B8BD9" stroke="#1a1a1a" stroke-width="0.6"/>
<circle cx="478.53" cy="426.13" r="3.15" fill="#0B8BD9" stroke="#1a1a1a" stroke-width="0.6"/>
<circle cx="483.97" cy="426.34" r="3.15" fill="#0B8BD9" stroke="#1a1a1a" stroke-width="0.6"/>
<circle cx="489.40" cy="426.90" r="3.15" fill="#0B8BD9" stroke="#1a1a1a" stroke-width="0.6"/>
<circle cx="426.90" cy="421.71" r="3.15" fill="#0B8BD9" stroke="#1a1a1a" stroke-width="0.6"/>
<circle cx="432.34" cy="421.47" r="3.15" fill="#0B8BD9" stroke="#1a1a1a" stroke-width="0.6"/>
<circle cx="437.77" cy="421.85" r="3.15" fill="#0B8BD9" stroke="#1a1a1a" stroke-width="0.6"/>
<circle cx="443.21" cy="422.00" r="3.15" fill="#0B8BD9" stroke="#1a1a1a" stroke-width="0.6"/>
<circle cx="448.65" cy="421.97" r="3.15" fill="#0B8BD9" stroke="#1a1a1a" stroke-width="0.6"/>
<circle cx="454.08" cy="421.67" r="3.15" fill="#0B8BD9" stroke="#1a1a1a" stroke-width="0.6"/>
<circle cx="459.52" cy="421.74" r="3.15" fill="#0B8BD9" stroke="#1a1a1a" stroke-width="0.6"/>
<circle cx="464.95" cy="421.81" r="3.15" fill="#0B8BD9" stroke="#1a1a1a" stroke-width="0.6"/>
<circle cx="470.39" cy="422.08" r="3.15" fill="#0B8BD9" stroke="#1a1a1a" stroke-width="0.6"/>
<circle cx="475.83" cy="421.82" r="3.15" fill="#0B8BD9" stroke="#1a1a1a" stroke-width="0.6"/>
<circle cx="481.26" cy="421.69" r="3.15" fill="#0B8BD9" stroke="#1a1a1a" stroke-width="0.6"/>
<circle cx="486.70" cy="421.79" r="3.15" fill="#0B8BD9" stroke="#1a1a1a" stroke-width="0.6"/>
<circle cx="424.20" cy="416.53" r="3.15" fill="#0B8BD9" stroke="#1a1a1a" stroke-width="0.6"/>
<circle cx="429.63" cy="416.54" r="3.15" fill="#0B8BD9" stroke="#1a1a1a" stroke-width="0.6"/>
<circle cx="435.07" cy="417.20" r="3.15" fill="#0B8BD9" stroke="#1a1a1a" stroke-width="0.6"/>
<circle cx="440.50" cy="417.48" r="3.15" fill="#0B8BD9" stroke="#1a1a1a" stroke-width="0.6"/>
<circle cx="445.93" cy="417.09" r="3.15" fill="#0B8BD9" stroke="#1a1a1a" stroke-width="0.6"/>
<circle cx="451.37" cy="416.89" r="3.15" fill="#0B8BD9" stroke="#1a1a1a" stroke-width="0.6"/>
<circle cx="456.80" cy="416.67" r="3.15" fill="#0B8BD9" stroke="#1a1a1a" stroke-width="0.6"/>
<circle cx="462.23" cy="417.00" r="3.15" fill="#0B8BD9" stroke="#1a1a1a" stroke-width="0.6"/>
<circle cx="467.67" cy="417.48" r="3.15" fill="#0B8BD9" stroke="#1a1a1a" stroke-width="0.6"/>
<circle cx="473.10" cy="417.27" r="3.15" fill="#0B8BD9" stroke="#1a1a1a" stroke-width="0.6"/>
<circle cx="478.53" cy="417.04" r="3.15" fill="#0B8BD9" stroke="#1a1a1a" stroke-width="0.6"/>
<circle cx="483.97" cy="417.36" r="3.15" fill="#0B8BD9" stroke="#1a1a1a" stroke-width="0.6"/>
<circle cx="489.40" cy="416.73" r="3.15" fill="#0B8BD9" stroke="#1a1a1a" stroke-width="0.6"/>
<circle cx="426.90" cy="412.21" r="3.15" fill="#0B8BD9" stroke="#1a1a1a" stroke-width="0.6"/>
<circle cx="432.34" cy="412.65" r="3.15" fill="#0B8BD9" stroke="#1a1a1a" stroke-width="0.6"/>
<circle cx="437.77" cy="412.28" r="3.15" fill="#0B8BD9" stroke="#1a1a1a" stroke-width="0.6"/>
<circle cx="443.21" cy="412.16" r="3.15" fill="#0B8BD9" stroke="#1a1a1a" stroke-width="0.6"/>
<circle cx="448.65" cy="411.97" r="3.15" fill="#0B8BD9" stroke="#1a1a1a" stroke-width="0.6"/>
<circle cx="454.08" cy="412.25" r="3.15" fill="#0B8BD9" stroke="#1a1a1a" stroke-width="0.6"/>
<circle cx="459.52" cy="412.66" r="3.15" fill="#0B8BD9" stroke="#1a1a1a" stroke-width="0.6"/>
<circle cx="464.95" cy="411.71" r="3.15" fill="#0B8BD9" stroke="#1a1a1a" stroke-width="0.6"/>
<circle cx="470.39" cy="412.48" r="3.15" fill="#0B8BD9" stroke="#1a1a1a" stroke-width="0.6"/>
<circle cx="475.83" cy="412.52" r="3.15" fill="#0B8BD9" stroke="#1a1a1a" stroke-width="0.6"/>
<circle cx="481.26" cy="412.59" r="3.15" fill="#0B8BD9" stroke="#1a1a1a" stroke-width="0.6"/>
<circle cx="486.70" cy="412.44" r="3.15" fill="#0B8BD9" stroke="#1a1a1a" stroke-width="0.6"/>
<circle cx="435.10" cy="407.71" r="3.15" fill="#0B8BD9" stroke="#1a1a1a" stroke-width="0.6"/>
<circle cx="440.53" cy="407.42" r="3.15" fill="#0B8BD9" stroke="#1a1a1a" stroke-width="0.6"/>
<circle cx="445.95" cy="407.46" r="3.15" fill="#0B8BD9" stroke="#1a1a1a" stroke-width="0.6"/>
<circle cx="451.38" cy="407.33" r="3.15" fill="#0B8BD9" stroke="#1a1a1a" stroke-width="0.6"/>
<circle cx="456.80" cy="406.96" r="3.15" fill="#0B8BD9" stroke="#1a1a1a" stroke-width="0.6"/>
<circle cx="462.23" cy="407.77" r="3.15" fill="#0B8BD9" stroke="#1a1a1a" stroke-width="0.6"/>
<circle cx="467.65" cy="407.47" r="3.15" fill="#0B8BD9" stroke="#1a1a1a" stroke-width="0.6"/>
<circle cx="473.07" cy="407.10" r="3.15" fill="#0B8BD9" stroke="#1a1a1a" stroke-width="0.6"/>
<circle cx="478.50" cy="407.40" r="3.15" fill="#0B8BD9" stroke="#1a1a1a" stroke-width="0.6"/>
<circle cx="437.80" cy="402.78" r="3.15" fill="#0B8BD9" stroke="#1a1a1a" stroke-width="0.6"/>
<circle cx="443.23" cy="402.66" r="3.15" fill="#0B8BD9" stroke="#1a1a1a" stroke-width="0.6"/>
<circle cx="448.66" cy="402.65" r="3.15" fill="#0B8BD9" stroke="#1a1a1a" stroke-width="0.6"/>
<circle cx="454.09" cy="402.84" r="3.15" fill="#0B8BD9" stroke="#1a1a1a" stroke-width="0.6"/>
<circle cx="459.51" cy="402.92" r="3.15" fill="#0B8BD9" stroke="#1a1a1a" stroke-width="0.6"/>
<circle cx="464.94" cy="402.91" r="3.15" fill="#0B8BD9" stroke="#1a1a1a" stroke-width="0.6"/>
<circle cx="470.37" cy="402.76" r="3.15" fill="#0B8BD9" stroke="#1a1a1a" stroke-width="0.6"/>
<circle cx="475.80" cy="402.33" r="3.15" fill="#0B8BD9" stroke="#1a1a1a" stroke-width="0.6"/>
<circle cx="435.10" cy="398.33" r="3.15" fill="#0B8BD9" stroke="#1a1a1a" stroke-width="0.6"/>
<circle cx="440.53" cy="398.28" r="3.15" fill="#0B8BD9" stroke="#1a1a1a" stroke-width="0.6"/>
<circle cx="445.96" cy="398.68" r="3.15" fill="#0B8BD9" stroke="#1a1a1a" stroke-width="0.6"/>
<circle cx="451.39" cy="398.96" r="3.15" fill="#0B8BD9" stroke="#1a1a1a" stroke-width="0.6"/>
<circle cx="456.81" cy="398.90" r="3.15" fill="#0B8BD9" stroke="#1a1a1a" stroke-width="0.6"/>
<circle cx="462.24" cy="398.90" r="3.15" fill="#0B8BD9" stroke="#1a1a1a" stroke-width="0.6"/>
<circle cx="467.67" cy="398.92" r="3.15" fill="#0B8BD9" stroke="#1a1a1a" stroke-width="0.6"/>
<circle cx="473.10" cy="398.36" r="3.15" fill="#0B8BD9" stroke="#1a1a1a" stroke-width="0.6"/>
<circle cx="423.30" cy="412.50" r="3.15" fill="#0B8BD9" stroke="#1a1a1a" stroke-width="0.6"/>
<circle cx="423.30" cy="415.00" r="3.15" fill="#0B8BD9" stroke="#1a1a1a" stroke-width="0.6"/>
<circle cx="423.30" cy="419.00" r="3.15" fill="#0B8BD9" stroke="#1a1a1a" stroke-width="0.6"/>
<circle cx="423.30" cy="421.50" r="3.15" fill="#0B8BD9" stroke="#1a1a1a" stroke-width="0.6"/>
<circle cx="423.30" cy="424.00" r="3.15" fill="#0B8BD9" stroke="#1a1a1a" stroke-width="0.6"/>
<circle cx="490.30" cy="412.50" r="3.15" fill="#0B8BD9" stroke="#1a1a1a" stroke-width="0.6"/>
<circle cx="490.30" cy="415.00" r="3.15" fill="#0B8BD9" stroke="#1a1a1a" stroke-width="0.6"/>
<circle cx="490.30" cy="419.00" r="3.15" fill="#0B8BD9" stroke="#1a1a1a" stroke-width="0.6"/>
<circle cx="490.30" cy="421.50" r="3.15" fill="#0B8BD9" stroke="#1a1a1a" stroke-width="0.6"/>
<circle cx="490.30" cy="424.00" r="3.15" fill="#0B8BD9" stroke="#1a1a1a" stroke-width="0.6"/>
<circle cx="483.30" cy="401.50" r="3.15" fill="#0B8BD9" stroke="#1a1a1a" stroke-width="0.6"/>
<circle cx="478.30" cy="405.00" r="3.15" fill="#0B8BD9" stroke="#1a1a1a" stroke-width="0.6"/>
<circle cx="520.50" cy="149.20" r="3.15" fill="#F8502F" stroke="#1a1a1a" stroke-width="0.6"/>
<circle cx="520.70" cy="235.50" r="3.15" fill="#F8502F" stroke="#1a1a1a" stroke-width="0.6"/>
<circle cx="526.00" cy="234.30" r="3.15" fill="#F8502F" stroke="#1a1a1a" stroke-width="0.6"/>
<circle cx="520.42" cy="320.30" r="3.15" fill="#F8502F" stroke="#1a1a1a" stroke-width="0.6"/>
<circle cx="520.42" cy="332.35" r="3.15" fill="#F8502F" stroke="#1a1a1a" stroke-width="0.6"/>
<circle cx="525.95" cy="332.35" r="3.15" fill="#F8502F" stroke="#1a1a1a" stroke-width="0.6"/>
<circle cx="520.42" cy="338.86" r="3.15" fill="#F8502F" stroke="#1a1a1a" stroke-width="0.6"/>
<circle cx="520.42" cy="353.48" r="3.15" fill="#F8502F" stroke="#1a1a1a" stroke-width="0.6"/>
<circle cx="525.95" cy="357.83" r="3.15" fill="#F8502F" stroke="#1a1a1a" stroke-width="0.6"/>
<circle cx="520.42" cy="359.01" r="3.15" fill="#F8502F" stroke="#1a1a1a" stroke-width="0.6"/>
<circle cx="517.65" cy="363.36" r="3.15" fill="#F8502F" stroke="#1a1a1a" stroke-width="0.6"/>
<circle cx="522.59" cy="366.12" r="3.15" fill="#F8502F" stroke="#1a1a1a" stroke-width="0.6"/>
<circle cx="520.42" cy="370.47" r="3.15" fill="#F8502F" stroke="#1a1a1a" stroke-width="0.6"/>
<circle cx="520.25" cy="382.77" r="3.15" fill="#F8502F" stroke="#1a1a1a" stroke-width="0.6"/>
<circle cx="520.25" cy="387.90" r="3.15" fill="#F8502F" stroke="#1a1a1a" stroke-width="0.6"/>
<circle cx="522.72" cy="396.99" r="3.15" fill="#F8502F" stroke="#1a1a1a" stroke-width="0.6"/>
<circle cx="517.28" cy="399.26" r="3.15" fill="#F8502F" stroke="#1a1a1a" stroke-width="0.6"/>
<circle cx="525.68" cy="401.23" r="3.15" fill="#F8502F" stroke="#1a1a1a" stroke-width="0.6"/>
<circle cx="520.74" cy="403.70" r="3.15" fill="#F8502F" stroke="#1a1a1a" stroke-width="0.6"/>
<circle cx="520.25" cy="409.63" r="3.15" fill="#F8502F" stroke="#1a1a1a" stroke-width="0.6"/>
<line x1="361.20" y1="414.30" x2="402.40" y2="414.30" stroke="#000" stroke-width="2.8" stroke-dasharray="5.9 2.95"/>
<line x1="436.30" y1="417.70" x2="477.50" y2="417.70" stroke="#000" stroke-width="2.8" stroke-dasharray="5.9 2.95"/>
<line x1="499.50" y1="344.40" x2="541.50" y2="344.40" stroke="#000" stroke-width="2.8" stroke-dasharray="5.9 2.95"/>
<rect x="409.80" y="90.90" width="88.00" height="15.00" stroke="none" stroke-width="1.3" fill="#fff" />
<path d="M381.80 111.00V106.70H521.30V111.00" fill="none" stroke="#161616" stroke-width="1.45"/>
<path d="M381.80 135.80V131.50H447.60V135.80" fill="none" stroke="#161616" stroke-width="1.45"/>
<path d="M462.40 135.80V131.50H521.30V135.80" fill="none" stroke="#161616" stroke-width="1.45"/>
<text x="452.50" y="102.90" font-size="15.6" text-anchor="middle" fill="#000" style="font-style:italic">p=3.2e-09</text>
<text x="414.70" y="125.90" font-size="15.6" text-anchor="middle" fill="#000" style="font-style:italic">p=2.1e-03</text>
<text x="495.00" y="125.90" font-size="15.6" text-anchor="middle" fill="#000" style="font-style:italic">p=3.8e-12</text>
<rect x="340.10" y="86.30" width="213.50" height="343.70" stroke="#161616" stroke-width="1.3" fill="none" />
<text x="335.60" y="99.78" font-size="15.5" text-anchor="end" fill="#000">20</text>
<text x="335.60" y="139.28" font-size="15.5" text-anchor="end" fill="#000">1<tspan dx="-1.3">7.5</tspan></text>
<text x="335.60" y="181.48" font-size="15.5" text-anchor="end" fill="#000">1<tspan dx="-1.3">5</tspan></text>
<text x="335.60" y="222.48" font-size="15.5" text-anchor="end" fill="#000">1<tspan dx="-1.3">2.5</tspan></text>
<text x="335.60" y="265.18" font-size="15.5" text-anchor="end" fill="#000">1<tspan dx="-1.3">0</tspan></text>
<text x="335.60" y="308.58" font-size="15.5" text-anchor="end" fill="#000">7.5</text>
<text x="335.60" y="348.08" font-size="15.5" text-anchor="end" fill="#000">5</text>
<text x="335.60" y="389.58" font-size="15.5" text-anchor="end" fill="#000">2.5</text>
<text x="335.60" y="429.58" font-size="15.5" text-anchor="end" fill="#000">0</text>
<text x="291.00" y="266.80" font-size="23.2" text-anchor="middle" fill="#000" transform="rotate(-90 291.00 266.80)">% of recovered contacts</text>
<line x1="642.00" y1="97.70" x2="1017.00" y2="97.70" stroke="#d8d8d8" stroke-width="1" />
<line x1="642.00" y1="136.90" x2="1017.00" y2="136.90" stroke="#d8d8d8" stroke-width="1" />
<line x1="642.00" y1="168.30" x2="1017.00" y2="168.30" stroke="#d8d8d8" stroke-width="1" />
<line x1="642.00" y1="199.60" x2="1017.00" y2="199.60" stroke="#d8d8d8" stroke-width="1" />
<line x1="642.00" y1="232.50" x2="1017.00" y2="232.50" stroke="#d8d8d8" stroke-width="1" />
<line x1="642.00" y1="265.00" x2="1017.00" y2="265.00" stroke="#d8d8d8" stroke-width="1" />
<line x1="642.00" y1="296.20" x2="1017.00" y2="296.20" stroke="#d8d8d8" stroke-width="1" />
<line x1="642.00" y1="328.80" x2="1017.00" y2="328.80" stroke="#d8d8d8" stroke-width="1" />
<line x1="642.00" y1="360.60" x2="1017.00" y2="360.60" stroke="#d8d8d8" stroke-width="1" />
<line x1="642.00" y1="392.20" x2="1017.00" y2="392.20" stroke="#d8d8d8" stroke-width="1" />
<line x1="663.20" y1="267.10" x2="663.20" y2="316.50" stroke="#141414" stroke-width="1.6" />
<line x1="663.20" y1="371.90" x2="663.20" y2="421.60" stroke="#141414" stroke-width="1.6" />
<line x1="656.40" y1="267.10" x2="670.00" y2="267.10" stroke="#141414" stroke-width="1.6" />
<line x1="656.40" y1="421.60" x2="670.00" y2="421.60" stroke="#141414" stroke-width="1.6" />
<rect x="650.80" y="316.50" width="24.80" height="55.40" stroke="#141414" stroke-width="1.6" fill="none" />
<line x1="650.80" y1="346.20" x2="675.60" y2="346.20" stroke="#141414" stroke-width="1.6" />
<line x1="688.20" y1="131.60" x2="688.20" y2="240.30" stroke="#141414" stroke-width="1.6" />
<line x1="688.20" y1="401.30" x2="688.20" y2="424.30" stroke="#141414" stroke-width="1.6" />
<line x1="681.40" y1="131.60" x2="695.00" y2="131.60" stroke="#141414" stroke-width="1.6" />
<line x1="681.40" y1="424.30" x2="695.00" y2="424.30" stroke="#141414" stroke-width="1.6" />
<rect x="675.80" y="240.30" width="24.80" height="161.00" stroke="#141414" stroke-width="1.6" fill="none" />
<line x1="675.80" y1="328.90" x2="700.60" y2="328.90" stroke="#141414" stroke-width="1.6" />
<line x1="713.20" y1="109.20" x2="713.20" y2="128.10" stroke="#141414" stroke-width="1.6" />
<line x1="713.20" y1="204.00" x2="713.20" y2="258.90" stroke="#141414" stroke-width="1.6" />
<line x1="706.40" y1="109.20" x2="720.00" y2="109.20" stroke="#141414" stroke-width="1.6" />
<line x1="706.40" y1="258.90" x2="720.00" y2="258.90" stroke="#141414" stroke-width="1.6" />
<rect x="700.80" y="128.10" width="24.80" height="75.90" stroke="#141414" stroke-width="1.6" fill="none" />
<line x1="700.80" y1="150.70" x2="725.60" y2="150.70" stroke="#141414" stroke-width="1.6" />
<line x1="756.90" y1="214.30" x2="756.90" y2="272.60" stroke="#141414" stroke-width="1.6" />
<line x1="756.90" y1="347.10" x2="756.90" y2="419.90" stroke="#141414" stroke-width="1.6" />
<line x1="750.10" y1="214.30" x2="763.70" y2="214.30" stroke="#141414" stroke-width="1.6" />
<line x1="750.10" y1="419.90" x2="763.70" y2="419.90" stroke="#141414" stroke-width="1.6" />
<rect x="744.50" y="272.60" width="24.80" height="74.50" stroke="#141414" stroke-width="1.6" fill="none" />
<line x1="744.50" y1="310.50" x2="769.30" y2="310.50" stroke="#141414" stroke-width="1.6" />
<line x1="781.90" y1="119.00" x2="781.90" y2="178.50" stroke="#141414" stroke-width="1.6" />
<line x1="781.90" y1="384.50" x2="781.90" y2="424.30" stroke="#141414" stroke-width="1.6" />
<line x1="775.10" y1="119.00" x2="788.70" y2="119.00" stroke="#141414" stroke-width="1.6" />
<line x1="775.10" y1="424.30" x2="788.70" y2="424.30" stroke="#141414" stroke-width="1.6" />
<rect x="769.50" y="178.50" width="24.80" height="206.00" stroke="#141414" stroke-width="1.6" fill="none" />
<line x1="769.50" y1="274.40" x2="794.30" y2="274.40" stroke="#141414" stroke-width="1.6" />
<line x1="806.90" y1="106.20" x2="806.90" y2="112.70" stroke="#141414" stroke-width="1.6" />
<line x1="806.90" y1="148.30" x2="806.90" y2="197.10" stroke="#141414" stroke-width="1.6" />
<line x1="800.10" y1="106.20" x2="813.70" y2="106.20" stroke="#141414" stroke-width="1.6" />
<line x1="800.10" y1="197.10" x2="813.70" y2="197.10" stroke="#141414" stroke-width="1.6" />
<rect x="794.50" y="112.70" width="24.80" height="35.60" stroke="#141414" stroke-width="1.6" fill="none" />
<line x1="794.50" y1="119.60" x2="819.30" y2="119.60" stroke="#141414" stroke-width="1.6" />
<line x1="850.70" y1="168.60" x2="850.70" y2="224.30" stroke="#141414" stroke-width="1.6" />
<line x1="850.70" y1="313.00" x2="850.70" y2="417.60" stroke="#141414" stroke-width="1.6" />
<line x1="843.90" y1="168.60" x2="857.50" y2="168.60" stroke="#141414" stroke-width="1.6" />
<line x1="843.90" y1="417.60" x2="857.50" y2="417.60" stroke="#141414" stroke-width="1.6" />
<rect x="838.30" y="224.30" width="24.80" height="88.70" stroke="#141414" stroke-width="1.6" fill="none" />
<line x1="838.30" y1="264.70" x2="863.10" y2="264.70" stroke="#141414" stroke-width="1.6" />
<line x1="875.70" y1="116.80" x2="875.70" y2="137.30" stroke="#141414" stroke-width="1.6" />
<line x1="875.70" y1="357.70" x2="875.70" y2="424.00" stroke="#141414" stroke-width="1.6" />
<line x1="868.90" y1="116.80" x2="882.50" y2="116.80" stroke="#141414" stroke-width="1.6" />
<line x1="868.90" y1="424.00" x2="882.50" y2="424.00" stroke="#141414" stroke-width="1.6" />
<rect x="863.30" y="137.30" width="24.80" height="220.40" stroke="#141414" stroke-width="1.6" fill="none" />
<line x1="863.30" y1="208.80" x2="888.10" y2="208.80" stroke="#141414" stroke-width="1.6" />
<line x1="900.70" y1="104.50" x2="900.70" y2="105.70" stroke="#141414" stroke-width="1.6" />
<line x1="900.70" y1="116.50" x2="900.70" y2="128.10" stroke="#141414" stroke-width="1.6" />
<line x1="893.90" y1="104.50" x2="907.50" y2="104.50" stroke="#141414" stroke-width="1.6" />
<line x1="893.90" y1="128.10" x2="907.50" y2="128.10" stroke="#141414" stroke-width="1.6" />
<rect x="888.30" y="105.70" width="24.80" height="10.80" stroke="#141414" stroke-width="1.6" fill="none" />
<line x1="888.30" y1="110.60" x2="913.10" y2="110.60" stroke="#141414" stroke-width="1.6" />
<line x1="944.50" y1="133.10" x2="944.50" y2="166.50" stroke="#141414" stroke-width="1.6" />
<line x1="944.50" y1="259.60" x2="944.50" y2="392.70" stroke="#141414" stroke-width="1.6" />
<line x1="937.70" y1="133.10" x2="951.30" y2="133.10" stroke="#141414" stroke-width="1.6" />
<line x1="937.70" y1="392.70" x2="951.30" y2="392.70" stroke="#141414" stroke-width="1.6" />
<rect x="932.10" y="166.50" width="24.80" height="93.10" stroke="#141414" stroke-width="1.6" fill="none" />
<line x1="932.10" y1="204.00" x2="956.90" y2="204.00" stroke="#141414" stroke-width="1.6" />
<line x1="969.50" y1="114.70" x2="969.50" y2="124.00" stroke="#141414" stroke-width="1.6" />
<line x1="969.50" y1="299.70" x2="969.50" y2="419.90" stroke="#141414" stroke-width="1.6" />
<line x1="962.70" y1="114.70" x2="976.30" y2="114.70" stroke="#141414" stroke-width="1.6" />
<line x1="962.70" y1="419.90" x2="976.30" y2="419.90" stroke="#141414" stroke-width="1.6" />
<rect x="957.10" y="124.00" width="24.80" height="175.70" stroke="#141414" stroke-width="1.6" fill="none" />
<line x1="957.10" y1="142.40" x2="981.90" y2="142.40" stroke="#141414" stroke-width="1.6" />
<line x1="994.50" y1="104.80" x2="994.50" y2="105.30" stroke="#141414" stroke-width="1.6" />
<line x1="994.50" y1="108.30" x2="994.50" y2="109.50" stroke="#141414" stroke-width="1.6" />
<line x1="987.70" y1="104.80" x2="1001.30" y2="104.80" stroke="#141414" stroke-width="1.6" />
<line x1="987.70" y1="109.50" x2="1001.30" y2="109.50" stroke="#141414" stroke-width="1.6" />
<rect x="982.10" y="105.30" width="24.80" height="3.00" stroke="#141414" stroke-width="1.6" fill="none" />
<line x1="982.10" y1="106.60" x2="1006.90" y2="106.60" stroke="#141414" stroke-width="1.6" />
<circle cx="756.84" cy="214.34" r="2.90" fill="#E8AB35" stroke="#1a1a1a" stroke-width="0.55"/>
<circle cx="751.73" cy="231.21" r="2.90" fill="#E8AB35" stroke="#1a1a1a" stroke-width="0.55"/>
<circle cx="756.84" cy="231.63" r="2.90" fill="#E8AB35" stroke="#1a1a1a" stroke-width="0.55"/>
<circle cx="850.59" cy="168.57" r="2.90" fill="#E8AB35" stroke="#1a1a1a" stroke-width="0.55"/>
<circle cx="850.59" cy="183.23" r="2.90" fill="#E8AB35" stroke="#1a1a1a" stroke-width="0.55"/>
<circle cx="845.34" cy="190.14" r="2.90" fill="#E8AB35" stroke="#1a1a1a" stroke-width="0.55"/>
<circle cx="850.59" cy="191.11" r="2.90" fill="#E8AB35" stroke="#1a1a1a" stroke-width="0.55"/>
<circle cx="856.40" cy="189.04" r="2.90" fill="#E8AB35" stroke="#1a1a1a" stroke-width="0.55"/>
<circle cx="850.59" cy="207.29" r="2.90" fill="#E8AB35" stroke="#1a1a1a" stroke-width="0.55"/>
<circle cx="845.61" cy="215.31" r="2.90" fill="#E8AB35" stroke="#1a1a1a" stroke-width="0.55"/>
<circle cx="850.59" cy="218.08" r="2.90" fill="#E8AB35" stroke="#1a1a1a" stroke-width="0.55"/>
<circle cx="850.59" cy="227.06" r="2.90" fill="#E8AB35" stroke="#1a1a1a" stroke-width="0.55"/>
<circle cx="663.23" cy="267.08" r="2.90" fill="#E8AB35" stroke="#1a1a1a" stroke-width="0.55"/>
<circle cx="660.46" cy="276.21" r="2.90" fill="#E8AB35" stroke="#1a1a1a" stroke-width="0.55"/>
<circle cx="663.23" cy="282.01" r="2.90" fill="#E8AB35" stroke="#1a1a1a" stroke-width="0.55"/>
<circle cx="657.98" cy="287.54" r="2.90" fill="#E8AB35" stroke="#1a1a1a" stroke-width="0.55"/>
<circle cx="663.23" cy="289.20" r="2.90" fill="#E8AB35" stroke="#1a1a1a" stroke-width="0.55"/>
<circle cx="662.12" cy="305.80" r="2.90" fill="#E8AB35" stroke="#1a1a1a" stroke-width="0.55"/>
<circle cx="751.73" cy="238.87" r="2.90" fill="#E8AB35" stroke="#1a1a1a" stroke-width="0.55"/>
<circle cx="756.84" cy="239.84" r="2.90" fill="#E8AB35" stroke="#1a1a1a" stroke-width="0.55"/>
<circle cx="756.84" cy="258.23" r="2.90" fill="#E8AB35" stroke="#1a1a1a" stroke-width="0.55"/>
<circle cx="751.73" cy="266.53" r="2.90" fill="#E8AB35" stroke="#1a1a1a" stroke-width="0.55"/>
<circle cx="756.84" cy="267.49" r="2.90" fill="#E8AB35" stroke="#1a1a1a" stroke-width="0.55"/>
<circle cx="756.84" cy="274.68" r="2.90" fill="#E8AB35" stroke="#1a1a1a" stroke-width="0.55"/>
<circle cx="751.73" cy="284.50" r="2.90" fill="#E8AB35" stroke="#1a1a1a" stroke-width="0.55"/>
<circle cx="756.84" cy="285.47" r="2.90" fill="#E8AB35" stroke="#1a1a1a" stroke-width="0.55"/>
<circle cx="756.84" cy="295.84" r="2.90" fill="#E8AB35" stroke="#1a1a1a" stroke-width="0.55"/>
<circle cx="751.73" cy="301.65" r="2.90" fill="#E8AB35" stroke="#1a1a1a" stroke-width="0.55"/>
<circle cx="756.84" cy="302.34" r="2.90" fill="#E8AB35" stroke="#1a1a1a" stroke-width="0.55"/>
<circle cx="750.62" cy="307.32" r="2.90" fill="#E8AB35" stroke="#1a1a1a" stroke-width="0.55"/>
<circle cx="845.61" cy="236.66" r="2.90" fill="#E8AB35" stroke="#1a1a1a" stroke-width="0.55"/>
<circle cx="850.59" cy="238.04" r="2.90" fill="#E8AB35" stroke="#1a1a1a" stroke-width="0.55"/>
<circle cx="852.25" cy="252.01" r="2.90" fill="#E8AB35" stroke="#1a1a1a" stroke-width="0.55"/>
<circle cx="847.41" cy="255.74" r="2.90" fill="#E8AB35" stroke="#1a1a1a" stroke-width="0.55"/>
<circle cx="852.25" cy="259.20" r="2.90" fill="#E8AB35" stroke="#1a1a1a" stroke-width="0.55"/>
<circle cx="847.13" cy="262.38" r="2.90" fill="#E8AB35" stroke="#1a1a1a" stroke-width="0.55"/>
<circle cx="857.37" cy="264.04" r="2.90" fill="#E8AB35" stroke="#1a1a1a" stroke-width="0.55"/>
<circle cx="852.25" cy="265.70" r="2.90" fill="#E8AB35" stroke="#1a1a1a" stroke-width="0.55"/>
<circle cx="845.75" cy="268.60" r="2.90" fill="#E8AB35" stroke="#1a1a1a" stroke-width="0.55"/>
<circle cx="850.59" cy="272.06" r="2.90" fill="#E8AB35" stroke="#1a1a1a" stroke-width="0.55"/>
<circle cx="848.10" cy="283.67" r="2.90" fill="#E8AB35" stroke="#1a1a1a" stroke-width="0.55"/>
<circle cx="853.36" cy="282.01" r="2.90" fill="#E8AB35" stroke="#1a1a1a" stroke-width="0.55"/>
<circle cx="850.59" cy="288.93" r="2.90" fill="#E8AB35" stroke="#1a1a1a" stroke-width="0.55"/>
<circle cx="664.61" cy="311.38" r="2.90" fill="#E8AB35" stroke="#1a1a1a" stroke-width="0.55"/>
<circle cx="657.98" cy="314.84" r="2.90" fill="#E8AB35" stroke="#1a1a1a" stroke-width="0.55"/>
<circle cx="663.23" cy="317.19" r="2.90" fill="#E8AB35" stroke="#1a1a1a" stroke-width="0.55"/>
<circle cx="657.70" cy="324.93" r="2.90" fill="#E8AB35" stroke="#1a1a1a" stroke-width="0.55"/>
<circle cx="663.23" cy="326.87" r="2.90" fill="#E8AB35" stroke="#1a1a1a" stroke-width="0.55"/>
<circle cx="663.23" cy="332.82" r="2.90" fill="#E8AB35" stroke="#1a1a1a" stroke-width="0.55"/>
<circle cx="657.70" cy="338.76" r="2.90" fill="#E8AB35" stroke="#1a1a1a" stroke-width="0.55"/>
<circle cx="663.23" cy="339.31" r="2.90" fill="#E8AB35" stroke="#1a1a1a" stroke-width="0.55"/>
<circle cx="654.93" cy="344.57" r="2.90" fill="#E8AB35" stroke="#1a1a1a" stroke-width="0.55"/>
<circle cx="664.61" cy="346.64" r="2.90" fill="#E8AB35" stroke="#1a1a1a" stroke-width="0.55"/>
<circle cx="670.42" cy="346.23" r="2.90" fill="#E8AB35" stroke="#1a1a1a" stroke-width="0.55"/>
<circle cx="659.36" cy="348.44" r="2.90" fill="#E8AB35" stroke="#1a1a1a" stroke-width="0.55"/>
<circle cx="663.23" cy="353.14" r="2.90" fill="#E8AB35" stroke="#1a1a1a" stroke-width="0.55"/>
<circle cx="668.07" cy="355.63" r="2.90" fill="#E8AB35" stroke="#1a1a1a" stroke-width="0.55"/>
<circle cx="657.70" cy="358.12" r="2.90" fill="#E8AB35" stroke="#1a1a1a" stroke-width="0.55"/>
<circle cx="663.23" cy="359.09" r="2.90" fill="#E8AB35" stroke="#1a1a1a" stroke-width="0.55"/>
<circle cx="663.23" cy="367.80" r="2.90" fill="#E8AB35" stroke="#1a1a1a" stroke-width="0.55"/>
<circle cx="652.86" cy="371.53" r="2.90" fill="#E8AB35" stroke="#1a1a1a" stroke-width="0.55"/>
<circle cx="657.98" cy="374.30" r="2.90" fill="#E8AB35" stroke="#1a1a1a" stroke-width="0.55"/>
<circle cx="663.23" cy="376.10" r="2.90" fill="#E8AB35" stroke="#1a1a1a" stroke-width="0.55"/>
<circle cx="668.35" cy="373.88" r="2.90" fill="#E8AB35" stroke="#1a1a1a" stroke-width="0.55"/>
<circle cx="753.38" cy="312.49" r="2.90" fill="#E8AB35" stroke="#1a1a1a" stroke-width="0.55"/>
<circle cx="758.92" cy="311.38" r="2.90" fill="#E8AB35" stroke="#1a1a1a" stroke-width="0.55"/>
<circle cx="763.76" cy="310.69" r="2.90" fill="#E8AB35" stroke="#1a1a1a" stroke-width="0.55"/>
<circle cx="756.84" cy="317.19" r="2.90" fill="#E8AB35" stroke="#1a1a1a" stroke-width="0.55"/>
<circle cx="752.28" cy="324.52" r="2.90" fill="#E8AB35" stroke="#1a1a1a" stroke-width="0.55"/>
<circle cx="760.58" cy="323.83" r="2.90" fill="#E8AB35" stroke="#1a1a1a" stroke-width="0.55"/>
<circle cx="756.84" cy="328.67" r="2.90" fill="#E8AB35" stroke="#1a1a1a" stroke-width="0.55"/>
<circle cx="756.84" cy="342.91" r="2.90" fill="#E8AB35" stroke="#1a1a1a" stroke-width="0.55"/>
<circle cx="766.11" cy="346.37" r="2.90" fill="#E8AB35" stroke="#1a1a1a" stroke-width="0.55"/>
<circle cx="760.58" cy="347.61" r="2.90" fill="#E8AB35" stroke="#1a1a1a" stroke-width="0.55"/>
<circle cx="752.00" cy="349.68" r="2.90" fill="#E8AB35" stroke="#1a1a1a" stroke-width="0.55"/>
<circle cx="756.84" cy="352.45" r="2.90" fill="#E8AB35" stroke="#1a1a1a" stroke-width="0.55"/>
<circle cx="751.73" cy="373.33" r="2.90" fill="#E8AB35" stroke="#1a1a1a" stroke-width="0.55"/>
<circle cx="756.84" cy="373.88" r="2.90" fill="#E8AB35" stroke="#1a1a1a" stroke-width="0.55"/>
<circle cx="843.26" cy="312.77" r="2.90" fill="#E8AB35" stroke="#1a1a1a" stroke-width="0.55"/>
<circle cx="848.52" cy="315.25" r="2.90" fill="#E8AB35" stroke="#1a1a1a" stroke-width="0.55"/>
<circle cx="853.63" cy="313.46" r="2.90" fill="#E8AB35" stroke="#1a1a1a" stroke-width="0.55"/>
<circle cx="858.89" cy="312.49" r="2.90" fill="#E8AB35" stroke="#1a1a1a" stroke-width="0.55"/>
<circle cx="850.59" cy="320.37" r="2.90" fill="#E8AB35" stroke="#1a1a1a" stroke-width="0.55"/>
<circle cx="845.61" cy="347.33" r="2.90" fill="#E8AB35" stroke="#1a1a1a" stroke-width="0.55"/>
<circle cx="850.59" cy="349.41" r="2.90" fill="#E8AB35" stroke="#1a1a1a" stroke-width="0.55"/>
<circle cx="657.98" cy="389.52" r="2.90" fill="#E8AB35" stroke="#1a1a1a" stroke-width="0.55"/>
<circle cx="663.23" cy="392.28" r="2.90" fill="#E8AB35" stroke="#1a1a1a" stroke-width="0.55"/>
<circle cx="664.61" cy="415.10" r="2.90" fill="#E8AB35" stroke="#1a1a1a" stroke-width="0.55"/>
<circle cx="659.08" cy="416.90" r="2.90" fill="#E8AB35" stroke="#1a1a1a" stroke-width="0.55"/>
<circle cx="663.23" cy="421.32" r="2.90" fill="#E8AB35" stroke="#1a1a1a" stroke-width="0.55"/>
<circle cx="752.69" cy="409.57" r="2.90" fill="#E8AB35" stroke="#1a1a1a" stroke-width="0.55"/>
<circle cx="756.84" cy="413.03" r="2.90" fill="#E8AB35" stroke="#1a1a1a" stroke-width="0.55"/>
<circle cx="756.84" cy="419.94" r="2.90" fill="#E8AB35" stroke="#1a1a1a" stroke-width="0.55"/>
<circle cx="850.18" cy="400.58" r="2.90" fill="#E8AB35" stroke="#1a1a1a" stroke-width="0.55"/>
<circle cx="850.59" cy="406.53" r="2.90" fill="#E8AB35" stroke="#1a1a1a" stroke-width="0.55"/>
<circle cx="850.59" cy="417.59" r="2.90" fill="#E8AB35" stroke="#1a1a1a" stroke-width="0.55"/>
<circle cx="944.60" cy="133.12" r="2.90" fill="#E8AB35" stroke="#1a1a1a" stroke-width="0.55"/>
<circle cx="947.78" cy="140.31" r="2.90" fill="#E8AB35" stroke="#1a1a1a" stroke-width="0.55"/>
<circle cx="939.34" cy="144.18" r="2.90" fill="#E8AB35" stroke="#1a1a1a" stroke-width="0.55"/>
<circle cx="944.60" cy="145.56" r="2.90" fill="#E8AB35" stroke="#1a1a1a" stroke-width="0.55"/>
<circle cx="939.34" cy="151.37" r="2.90" fill="#E8AB35" stroke="#1a1a1a" stroke-width="0.55"/>
<circle cx="944.60" cy="153.03" r="2.90" fill="#E8AB35" stroke="#1a1a1a" stroke-width="0.55"/>
<circle cx="941.14" cy="158.01" r="2.90" fill="#E8AB35" stroke="#1a1a1a" stroke-width="0.55"/>
<circle cx="944.60" cy="162.77" r="2.90" fill="#E8AB35" stroke="#1a1a1a" stroke-width="0.55"/>
<circle cx="944.60" cy="170.79" r="2.90" fill="#E8AB35" stroke="#1a1a1a" stroke-width="0.55"/>
<circle cx="939.34" cy="177.28" r="2.90" fill="#E8AB35" stroke="#1a1a1a" stroke-width="0.55"/>
<circle cx="944.60" cy="179.08" r="2.90" fill="#E8AB35" stroke="#1a1a1a" stroke-width="0.55"/>
<circle cx="941.83" cy="195.67" r="2.90" fill="#E8AB35" stroke="#1a1a1a" stroke-width="0.55"/>
<circle cx="946.95" cy="194.57" r="2.90" fill="#E8AB35" stroke="#1a1a1a" stroke-width="0.55"/>
<circle cx="944.60" cy="200.38" r="2.90" fill="#E8AB35" stroke="#1a1a1a" stroke-width="0.55"/>
<circle cx="934.92" cy="201.90" r="2.90" fill="#E8AB35" stroke="#1a1a1a" stroke-width="0.55"/>
<circle cx="949.44" cy="203.56" r="2.90" fill="#E8AB35" stroke="#1a1a1a" stroke-width="0.55"/>
<circle cx="939.34" cy="205.35" r="2.90" fill="#E8AB35" stroke="#1a1a1a" stroke-width="0.55"/>
<circle cx="944.60" cy="206.32" r="2.90" fill="#E8AB35" stroke="#1a1a1a" stroke-width="0.55"/>
<circle cx="941.42" cy="212.82" r="2.90" fill="#E8AB35" stroke="#1a1a1a" stroke-width="0.55"/>
<circle cx="944.60" cy="218.08" r="2.90" fill="#E8AB35" stroke="#1a1a1a" stroke-width="0.55"/>
<circle cx="939.34" cy="226.79" r="2.90" fill="#E8AB35" stroke="#1a1a1a" stroke-width="0.55"/>
<circle cx="944.60" cy="227.48" r="2.90" fill="#E8AB35" stroke="#1a1a1a" stroke-width="0.55"/>
<circle cx="939.34" cy="259.61" r="2.90" fill="#E8AB35" stroke="#1a1a1a" stroke-width="0.55"/>
<circle cx="944.60" cy="261.96" r="2.90" fill="#E8AB35" stroke="#1a1a1a" stroke-width="0.55"/>
<circle cx="949.44" cy="259.20" r="2.90" fill="#E8AB35" stroke="#1a1a1a" stroke-width="0.55"/>
<circle cx="939.34" cy="269.57" r="2.90" fill="#E8AB35" stroke="#1a1a1a" stroke-width="0.55"/>
<circle cx="944.60" cy="271.64" r="2.90" fill="#E8AB35" stroke="#1a1a1a" stroke-width="0.55"/>
<circle cx="944.60" cy="301.65" r="2.90" fill="#E8AB35" stroke="#1a1a1a" stroke-width="0.55"/>
<circle cx="944.60" cy="309.39" r="2.90" fill="#E8AB35" stroke="#1a1a1a" stroke-width="0.55"/>
<circle cx="944.60" cy="382.59" r="2.90" fill="#E8AB35" stroke="#1a1a1a" stroke-width="0.55"/>
<circle cx="944.60" cy="383.30" r="2.90" fill="#E8AB35" stroke="#1a1a1a" stroke-width="0.55"/>
<circle cx="944.60" cy="392.70" r="2.90" fill="#E8AB35" stroke="#1a1a1a" stroke-width="0.55"/>
<circle cx="687.98" cy="131.60" r="2.90" fill="#0B8BD9" stroke="#1a1a1a" stroke-width="0.55"/>
<circle cx="687.98" cy="148.88" r="2.90" fill="#0B8BD9" stroke="#1a1a1a" stroke-width="0.55"/>
<circle cx="683.56" cy="154.83" r="2.90" fill="#0B8BD9" stroke="#1a1a1a" stroke-width="0.55"/>
<circle cx="675.95" cy="157.87" r="2.90" fill="#0B8BD9" stroke="#1a1a1a" stroke-width="0.55"/>
<circle cx="687.98" cy="158.29" r="2.90" fill="#0B8BD9" stroke="#1a1a1a" stroke-width="0.55"/>
<circle cx="696.69" cy="161.05" r="2.90" fill="#0B8BD9" stroke="#1a1a1a" stroke-width="0.55"/>
<circle cx="782.15" cy="119.02" r="2.90" fill="#0B8BD9" stroke="#1a1a1a" stroke-width="0.55"/>
<circle cx="779.66" cy="124.82" r="2.90" fill="#0B8BD9" stroke="#1a1a1a" stroke-width="0.55"/>
<circle cx="784.91" cy="126.21" r="2.90" fill="#0B8BD9" stroke="#1a1a1a" stroke-width="0.55"/>
<circle cx="769.98" cy="127.87" r="2.90" fill="#0B8BD9" stroke="#1a1a1a" stroke-width="0.55"/>
<circle cx="794.18" cy="126.48" r="2.90" fill="#0B8BD9" stroke="#1a1a1a" stroke-width="0.55"/>
<circle cx="776.20" cy="129.94" r="2.90" fill="#0B8BD9" stroke="#1a1a1a" stroke-width="0.55"/>
<circle cx="788.64" cy="129.94" r="2.90" fill="#0B8BD9" stroke="#1a1a1a" stroke-width="0.55"/>
<circle cx="782.42" cy="131.74" r="2.90" fill="#0B8BD9" stroke="#1a1a1a" stroke-width="0.55"/>
<circle cx="772.05" cy="133.67" r="2.90" fill="#0B8BD9" stroke="#1a1a1a" stroke-width="0.55"/>
<circle cx="794.59" cy="128.97" r="2.90" fill="#0B8BD9" stroke="#1a1a1a" stroke-width="0.55"/>
<circle cx="786.57" cy="135.88" r="2.90" fill="#0B8BD9" stroke="#1a1a1a" stroke-width="0.55"/>
<circle cx="776.89" cy="137.27" r="2.90" fill="#0B8BD9" stroke="#1a1a1a" stroke-width="0.55"/>
<circle cx="782.15" cy="138.65" r="2.90" fill="#0B8BD9" stroke="#1a1a1a" stroke-width="0.55"/>
<circle cx="769.70" cy="142.80" r="2.90" fill="#0B8BD9" stroke="#1a1a1a" stroke-width="0.55"/>
<circle cx="788.64" cy="144.18" r="2.90" fill="#0B8BD9" stroke="#1a1a1a" stroke-width="0.55"/>
<circle cx="774.82" cy="145.56" r="2.90" fill="#0B8BD9" stroke="#1a1a1a" stroke-width="0.55"/>
<circle cx="779.93" cy="146.95" r="2.90" fill="#0B8BD9" stroke="#1a1a1a" stroke-width="0.55"/>
<circle cx="785.19" cy="148.88" r="2.90" fill="#0B8BD9" stroke="#1a1a1a" stroke-width="0.55"/>
<circle cx="776.20" cy="153.03" r="2.90" fill="#0B8BD9" stroke="#1a1a1a" stroke-width="0.55"/>
<circle cx="782.15" cy="153.72" r="2.90" fill="#0B8BD9" stroke="#1a1a1a" stroke-width="0.55"/>
<circle cx="864.00" cy="116.53" r="2.90" fill="#0B8BD9" stroke="#1a1a1a" stroke-width="0.55"/>
<circle cx="870.64" cy="118.88" r="2.90" fill="#0B8BD9" stroke="#1a1a1a" stroke-width="0.55"/>
<circle cx="875.76" cy="120.26" r="2.90" fill="#0B8BD9" stroke="#1a1a1a" stroke-width="0.55"/>
<circle cx="881.29" cy="118.19" r="2.90" fill="#0B8BD9" stroke="#1a1a1a" stroke-width="0.55"/>
<circle cx="888.20" cy="118.19" r="2.90" fill="#0B8BD9" stroke="#1a1a1a" stroke-width="0.55"/>
<circle cx="864.00" cy="121.64" r="2.90" fill="#0B8BD9" stroke="#1a1a1a" stroke-width="0.55"/>
<circle cx="868.15" cy="123.72" r="2.90" fill="#0B8BD9" stroke="#1a1a1a" stroke-width="0.55"/>
<circle cx="872.30" cy="125.10" r="2.90" fill="#0B8BD9" stroke="#1a1a1a" stroke-width="0.55"/>
<circle cx="877.14" cy="125.79" r="2.90" fill="#0B8BD9" stroke="#1a1a1a" stroke-width="0.55"/>
<circle cx="881.98" cy="124.41" r="2.90" fill="#0B8BD9" stroke="#1a1a1a" stroke-width="0.55"/>
<circle cx="888.20" cy="123.03" r="2.90" fill="#0B8BD9" stroke="#1a1a1a" stroke-width="0.55"/>
<circle cx="864.00" cy="119.29" r="2.90" fill="#0B8BD9" stroke="#1a1a1a" stroke-width="0.55"/>
<circle cx="888.20" cy="120.67" r="2.90" fill="#0B8BD9" stroke="#1a1a1a" stroke-width="0.55"/>
<circle cx="864.00" cy="123.72" r="2.90" fill="#0B8BD9" stroke="#1a1a1a" stroke-width="0.55"/>
<circle cx="888.20" cy="125.10" r="2.90" fill="#0B8BD9" stroke="#1a1a1a" stroke-width="0.55"/>
<circle cx="873.68" cy="130.63" r="2.90" fill="#0B8BD9" stroke="#1a1a1a" stroke-width="0.55"/>
<circle cx="880.60" cy="133.40" r="2.90" fill="#0B8BD9" stroke="#1a1a1a" stroke-width="0.55"/>
<circle cx="864.00" cy="136.16" r="2.90" fill="#0B8BD9" stroke="#1a1a1a" stroke-width="0.55"/>
<circle cx="888.20" cy="136.16" r="2.90" fill="#0B8BD9" stroke="#1a1a1a" stroke-width="0.55"/>
<circle cx="875.76" cy="137.27" r="2.90" fill="#0B8BD9" stroke="#1a1a1a" stroke-width="0.55"/>
<circle cx="870.23" cy="140.31" r="2.90" fill="#0B8BD9" stroke="#1a1a1a" stroke-width="0.55"/>
<circle cx="881.29" cy="140.31" r="2.90" fill="#0B8BD9" stroke="#1a1a1a" stroke-width="0.55"/>
<circle cx="864.00" cy="143.77" r="2.90" fill="#0B8BD9" stroke="#1a1a1a" stroke-width="0.55"/>
<circle cx="888.20" cy="142.38" r="2.90" fill="#0B8BD9" stroke="#1a1a1a" stroke-width="0.55"/>
<circle cx="875.76" cy="143.77" r="2.90" fill="#0B8BD9" stroke="#1a1a1a" stroke-width="0.55"/>
<circle cx="866.77" cy="145.15" r="2.90" fill="#0B8BD9" stroke="#1a1a1a" stroke-width="0.55"/>
<circle cx="884.75" cy="145.84" r="2.90" fill="#0B8BD9" stroke="#1a1a1a" stroke-width="0.55"/>
<circle cx="872.30" cy="148.61" r="2.90" fill="#0B8BD9" stroke="#1a1a1a" stroke-width="0.55"/>
<circle cx="880.60" cy="148.33" r="2.90" fill="#0B8BD9" stroke="#1a1a1a" stroke-width="0.55"/>
<circle cx="864.70" cy="153.45" r="2.90" fill="#0B8BD9" stroke="#1a1a1a" stroke-width="0.55"/>
<circle cx="875.76" cy="149.99" r="2.90" fill="#0B8BD9" stroke="#1a1a1a" stroke-width="0.55"/>
<circle cx="886.13" cy="153.45" r="2.90" fill="#0B8BD9" stroke="#1a1a1a" stroke-width="0.55"/>
<circle cx="866.77" cy="154.14" r="2.90" fill="#0B8BD9" stroke="#1a1a1a" stroke-width="0.55"/>
<circle cx="880.60" cy="156.21" r="2.90" fill="#0B8BD9" stroke="#1a1a1a" stroke-width="0.55"/>
<circle cx="870.23" cy="157.59" r="2.90" fill="#0B8BD9" stroke="#1a1a1a" stroke-width="0.55"/>
<circle cx="875.76" cy="158.29" r="2.90" fill="#0B8BD9" stroke="#1a1a1a" stroke-width="0.55"/>
<circle cx="679.41" cy="162.07" r="2.90" fill="#0B8BD9" stroke="#1a1a1a" stroke-width="0.55"/>
<circle cx="692.54" cy="162.49" r="2.90" fill="#0B8BD9" stroke="#1a1a1a" stroke-width="0.55"/>
<circle cx="697.38" cy="162.07" r="2.90" fill="#0B8BD9" stroke="#1a1a1a" stroke-width="0.55"/>
<circle cx="683.97" cy="165.81" r="2.90" fill="#0B8BD9" stroke="#1a1a1a" stroke-width="0.55"/>
<circle cx="688.67" cy="167.61" r="2.90" fill="#0B8BD9" stroke="#1a1a1a" stroke-width="0.55"/>
<circle cx="685.63" cy="172.44" r="2.90" fill="#0B8BD9" stroke="#1a1a1a" stroke-width="0.55"/>
<circle cx="690.47" cy="174.52" r="2.90" fill="#0B8BD9" stroke="#1a1a1a" stroke-width="0.55"/>
<circle cx="683.14" cy="178.25" r="2.90" fill="#0B8BD9" stroke="#1a1a1a" stroke-width="0.55"/>
<circle cx="687.98" cy="180.74" r="2.90" fill="#0B8BD9" stroke="#1a1a1a" stroke-width="0.55"/>
<circle cx="678.44" cy="185.58" r="2.90" fill="#0B8BD9" stroke="#1a1a1a" stroke-width="0.55"/>
<circle cx="693.24" cy="188.35" r="2.90" fill="#0B8BD9" stroke="#1a1a1a" stroke-width="0.55"/>
<circle cx="687.98" cy="189.31" r="2.90" fill="#0B8BD9" stroke="#1a1a1a" stroke-width="0.55"/>
<circle cx="682.87" cy="189.73" r="2.90" fill="#0B8BD9" stroke="#1a1a1a" stroke-width="0.55"/>
<circle cx="685.63" cy="194.57" r="2.90" fill="#0B8BD9" stroke="#1a1a1a" stroke-width="0.55"/>
<circle cx="690.88" cy="193.88" r="2.90" fill="#0B8BD9" stroke="#1a1a1a" stroke-width="0.55"/>
<circle cx="688.67" cy="200.10" r="2.90" fill="#0B8BD9" stroke="#1a1a1a" stroke-width="0.55"/>
<circle cx="685.91" cy="204.94" r="2.90" fill="#0B8BD9" stroke="#1a1a1a" stroke-width="0.55"/>
<circle cx="687.98" cy="210.75" r="2.90" fill="#0B8BD9" stroke="#1a1a1a" stroke-width="0.55"/>
<circle cx="686.32" cy="220.15" r="2.90" fill="#0B8BD9" stroke="#1a1a1a" stroke-width="0.55"/>
<circle cx="689.78" cy="224.71" r="2.90" fill="#0B8BD9" stroke="#1a1a1a" stroke-width="0.55"/>
<circle cx="685.35" cy="228.03" r="2.90" fill="#0B8BD9" stroke="#1a1a1a" stroke-width="0.55"/>
<circle cx="690.06" cy="231.21" r="2.90" fill="#0B8BD9" stroke="#1a1a1a" stroke-width="0.55"/>
<circle cx="687.98" cy="235.77" r="2.90" fill="#0B8BD9" stroke="#1a1a1a" stroke-width="0.55"/>
<circle cx="782.15" cy="166.22" r="2.90" fill="#0B8BD9" stroke="#1a1a1a" stroke-width="0.55"/>
<circle cx="787.68" cy="166.22" r="2.90" fill="#0B8BD9" stroke="#1a1a1a" stroke-width="0.55"/>
<circle cx="776.62" cy="171.75" r="2.90" fill="#0B8BD9" stroke="#1a1a1a" stroke-width="0.55"/>
<circle cx="782.15" cy="173.41" r="2.90" fill="#0B8BD9" stroke="#1a1a1a" stroke-width="0.55"/>
<circle cx="771.36" cy="177.28" r="2.90" fill="#0B8BD9" stroke="#1a1a1a" stroke-width="0.55"/>
<circle cx="792.10" cy="177.28" r="2.90" fill="#0B8BD9" stroke="#1a1a1a" stroke-width="0.55"/>
<circle cx="776.62" cy="179.36" r="2.90" fill="#0B8BD9" stroke="#1a1a1a" stroke-width="0.55"/>
<circle cx="786.85" cy="178.67" r="2.90" fill="#0B8BD9" stroke="#1a1a1a" stroke-width="0.55"/>
<circle cx="782.15" cy="181.43" r="2.90" fill="#0B8BD9" stroke="#1a1a1a" stroke-width="0.55"/>
<circle cx="773.43" cy="185.17" r="2.90" fill="#0B8BD9" stroke="#1a1a1a" stroke-width="0.55"/>
<circle cx="790.72" cy="184.89" r="2.90" fill="#0B8BD9" stroke="#1a1a1a" stroke-width="0.55"/>
<circle cx="778.27" cy="187.65" r="2.90" fill="#0B8BD9" stroke="#1a1a1a" stroke-width="0.55"/>
<circle cx="785.19" cy="186.96" r="2.90" fill="#0B8BD9" stroke="#1a1a1a" stroke-width="0.55"/>
<circle cx="782.15" cy="191.80" r="2.90" fill="#0B8BD9" stroke="#1a1a1a" stroke-width="0.55"/>
<circle cx="794.18" cy="191.53" r="2.90" fill="#0B8BD9" stroke="#1a1a1a" stroke-width="0.55"/>
<circle cx="771.36" cy="194.57" r="2.90" fill="#0B8BD9" stroke="#1a1a1a" stroke-width="0.55"/>
<circle cx="776.89" cy="194.57" r="2.90" fill="#0B8BD9" stroke="#1a1a1a" stroke-width="0.55"/>
<circle cx="791.83" cy="193.88" r="2.90" fill="#0B8BD9" stroke="#1a1a1a" stroke-width="0.55"/>
<circle cx="787.26" cy="197.06" r="2.90" fill="#0B8BD9" stroke="#1a1a1a" stroke-width="0.55"/>
<circle cx="782.15" cy="198.03" r="2.90" fill="#0B8BD9" stroke="#1a1a1a" stroke-width="0.55"/>
<circle cx="776.89" cy="202.87" r="2.90" fill="#0B8BD9" stroke="#1a1a1a" stroke-width="0.55"/>
<circle cx="782.15" cy="205.63" r="2.90" fill="#0B8BD9" stroke="#1a1a1a" stroke-width="0.55"/>
<circle cx="787.26" cy="210.47" r="2.90" fill="#0B8BD9" stroke="#1a1a1a" stroke-width="0.55"/>
<circle cx="776.62" cy="212.54" r="2.90" fill="#0B8BD9" stroke="#1a1a1a" stroke-width="0.55"/>
<circle cx="782.15" cy="212.54" r="2.90" fill="#0B8BD9" stroke="#1a1a1a" stroke-width="0.55"/>
<circle cx="790.72" cy="221.81" r="2.90" fill="#0B8BD9" stroke="#1a1a1a" stroke-width="0.55"/>
<circle cx="781.32" cy="222.91" r="2.90" fill="#0B8BD9" stroke="#1a1a1a" stroke-width="0.55"/>
<circle cx="773.43" cy="223.33" r="2.90" fill="#0B8BD9" stroke="#1a1a1a" stroke-width="0.55"/>
<circle cx="786.85" cy="226.10" r="2.90" fill="#0B8BD9" stroke="#1a1a1a" stroke-width="0.55"/>
<circle cx="776.89" cy="228.03" r="2.90" fill="#0B8BD9" stroke="#1a1a1a" stroke-width="0.55"/>
<circle cx="782.15" cy="229.83" r="2.90" fill="#0B8BD9" stroke="#1a1a1a" stroke-width="0.55"/>
<circle cx="776.89" cy="234.67" r="2.90" fill="#0B8BD9" stroke="#1a1a1a" stroke-width="0.55"/>
<circle cx="868.84" cy="164.84" r="2.90" fill="#0B8BD9" stroke="#1a1a1a" stroke-width="0.55"/>
<circle cx="884.47" cy="168.02" r="2.90" fill="#0B8BD9" stroke="#1a1a1a" stroke-width="0.55"/>
<circle cx="872.30" cy="169.40" r="2.90" fill="#0B8BD9" stroke="#1a1a1a" stroke-width="0.55"/>
<circle cx="878.94" cy="169.40" r="2.90" fill="#0B8BD9" stroke="#1a1a1a" stroke-width="0.55"/>
<circle cx="875.76" cy="173.83" r="2.90" fill="#0B8BD9" stroke="#1a1a1a" stroke-width="0.55"/>
<circle cx="870.23" cy="177.98" r="2.90" fill="#0B8BD9" stroke="#1a1a1a" stroke-width="0.55"/>
<circle cx="880.60" cy="177.98" r="2.90" fill="#0B8BD9" stroke="#1a1a1a" stroke-width="0.55"/>
<circle cx="875.76" cy="181.43" r="2.90" fill="#0B8BD9" stroke="#1a1a1a" stroke-width="0.55"/>
<circle cx="878.94" cy="192.49" r="2.90" fill="#0B8BD9" stroke="#1a1a1a" stroke-width="0.55"/>
<circle cx="873.41" cy="193.88" r="2.90" fill="#0B8BD9" stroke="#1a1a1a" stroke-width="0.55"/>
<circle cx="875.76" cy="199.82" r="2.90" fill="#0B8BD9" stroke="#1a1a1a" stroke-width="0.55"/>
<circle cx="877.56" cy="209.09" r="2.90" fill="#0B8BD9" stroke="#1a1a1a" stroke-width="0.55"/>
<circle cx="873.68" cy="213.93" r="2.90" fill="#0B8BD9" stroke="#1a1a1a" stroke-width="0.55"/>
<circle cx="875.76" cy="220.15" r="2.90" fill="#0B8BD9" stroke="#1a1a1a" stroke-width="0.55"/>
<circle cx="875.76" cy="230.80" r="2.90" fill="#0B8BD9" stroke="#1a1a1a" stroke-width="0.55"/>
<circle cx="682.87" cy="241.22" r="2.90" fill="#0B8BD9" stroke="#1a1a1a" stroke-width="0.55"/>
<circle cx="693.24" cy="239.84" r="2.90" fill="#0B8BD9" stroke="#1a1a1a" stroke-width="0.55"/>
<circle cx="698.77" cy="239.42" r="2.90" fill="#0B8BD9" stroke="#1a1a1a" stroke-width="0.55"/>
<circle cx="687.98" cy="242.61" r="2.90" fill="#0B8BD9" stroke="#1a1a1a" stroke-width="0.55"/>
<circle cx="675.95" cy="246.75" r="2.90" fill="#0B8BD9" stroke="#1a1a1a" stroke-width="0.55"/>
<circle cx="682.87" cy="248.83" r="2.90" fill="#0B8BD9" stroke="#1a1a1a" stroke-width="0.55"/>
<circle cx="687.98" cy="249.52" r="2.90" fill="#0B8BD9" stroke="#1a1a1a" stroke-width="0.55"/>
<circle cx="693.24" cy="248.14" r="2.90" fill="#0B8BD9" stroke="#1a1a1a" stroke-width="0.55"/>
<circle cx="699.18" cy="247.17" r="2.90" fill="#0B8BD9" stroke="#1a1a1a" stroke-width="0.55"/>
<circle cx="690.47" cy="256.02" r="2.90" fill="#0B8BD9" stroke="#1a1a1a" stroke-width="0.55"/>
<circle cx="696.00" cy="255.74" r="2.90" fill="#0B8BD9" stroke="#1a1a1a" stroke-width="0.55"/>
<circle cx="681.48" cy="260.17" r="2.90" fill="#0B8BD9" stroke="#1a1a1a" stroke-width="0.55"/>
<circle cx="687.01" cy="260.58" r="2.90" fill="#0B8BD9" stroke="#1a1a1a" stroke-width="0.55"/>
<circle cx="692.27" cy="263.35" r="2.90" fill="#0B8BD9" stroke="#1a1a1a" stroke-width="0.55"/>
<circle cx="682.87" cy="266.53" r="2.90" fill="#0B8BD9" stroke="#1a1a1a" stroke-width="0.55"/>
<circle cx="687.98" cy="267.49" r="2.90" fill="#0B8BD9" stroke="#1a1a1a" stroke-width="0.55"/>
<circle cx="682.87" cy="276.07" r="2.90" fill="#0B8BD9" stroke="#1a1a1a" stroke-width="0.55"/>
<circle cx="687.98" cy="277.17" r="2.90" fill="#0B8BD9" stroke="#1a1a1a" stroke-width="0.55"/>
<circle cx="693.65" cy="275.38" r="2.90" fill="#0B8BD9" stroke="#1a1a1a" stroke-width="0.55"/>
<circle cx="675.95" cy="280.63" r="2.90" fill="#0B8BD9" stroke="#1a1a1a" stroke-width="0.55"/>
<circle cx="679.41" cy="282.01" r="2.90" fill="#0B8BD9" stroke="#1a1a1a" stroke-width="0.55"/>
<circle cx="682.87" cy="285.88" r="2.90" fill="#0B8BD9" stroke="#1a1a1a" stroke-width="0.55"/>
<circle cx="687.98" cy="286.44" r="2.90" fill="#0B8BD9" stroke="#1a1a1a" stroke-width="0.55"/>
<circle cx="693.24" cy="283.40" r="2.90" fill="#0B8BD9" stroke="#1a1a1a" stroke-width="0.55"/>
<circle cx="698.77" cy="283.12" r="2.90" fill="#0B8BD9" stroke="#1a1a1a" stroke-width="0.55"/>
<circle cx="683.56" cy="294.04" r="2.90" fill="#0B8BD9" stroke="#1a1a1a" stroke-width="0.55"/>
<circle cx="687.98" cy="297.91" r="2.90" fill="#0B8BD9" stroke="#1a1a1a" stroke-width="0.55"/>
<circle cx="776.89" cy="236.11" r="2.90" fill="#0B8BD9" stroke="#1a1a1a" stroke-width="0.55"/>
<circle cx="782.15" cy="238.46" r="2.90" fill="#0B8BD9" stroke="#1a1a1a" stroke-width="0.55"/>
<circle cx="784.50" cy="252.98" r="2.90" fill="#0B8BD9" stroke="#1a1a1a" stroke-width="0.55"/>
<circle cx="776.62" cy="257.40" r="2.90" fill="#0B8BD9" stroke="#1a1a1a" stroke-width="0.55"/>
<circle cx="782.15" cy="259.20" r="2.90" fill="#0B8BD9" stroke="#1a1a1a" stroke-width="0.55"/>
<circle cx="777.31" cy="274.13" r="2.90" fill="#0B8BD9" stroke="#1a1a1a" stroke-width="0.55"/>
<circle cx="782.15" cy="277.87" r="2.90" fill="#0B8BD9" stroke="#1a1a1a" stroke-width="0.55"/>
<circle cx="783.81" cy="284.50" r="2.90" fill="#0B8BD9" stroke="#1a1a1a" stroke-width="0.55"/>
<circle cx="776.89" cy="287.54" r="2.90" fill="#0B8BD9" stroke="#1a1a1a" stroke-width="0.55"/>
<circle cx="782.15" cy="290.59" r="2.90" fill="#0B8BD9" stroke="#1a1a1a" stroke-width="0.55"/>
<circle cx="782.15" cy="302.48" r="2.90" fill="#0B8BD9" stroke="#1a1a1a" stroke-width="0.55"/>
<circle cx="872.02" cy="241.64" r="2.90" fill="#0B8BD9" stroke="#1a1a1a" stroke-width="0.55"/>
<circle cx="876.17" cy="245.79" r="2.90" fill="#0B8BD9" stroke="#1a1a1a" stroke-width="0.55"/>
<circle cx="875.76" cy="263.76" r="2.90" fill="#0B8BD9" stroke="#1a1a1a" stroke-width="0.55"/>
<circle cx="875.76" cy="279.94" r="2.90" fill="#0B8BD9" stroke="#1a1a1a" stroke-width="0.55"/>
<circle cx="873.41" cy="288.93" r="2.90" fill="#0B8BD9" stroke="#1a1a1a" stroke-width="0.55"/>
<circle cx="878.94" cy="288.24" r="2.90" fill="#0B8BD9" stroke="#1a1a1a" stroke-width="0.55"/>
<circle cx="875.76" cy="294.73" r="2.90" fill="#0B8BD9" stroke="#1a1a1a" stroke-width="0.55"/>
<circle cx="884.05" cy="301.37" r="2.90" fill="#0B8BD9" stroke="#1a1a1a" stroke-width="0.55"/>
<circle cx="878.52" cy="302.75" r="2.90" fill="#0B8BD9" stroke="#1a1a1a" stroke-width="0.55"/>
<circle cx="870.23" cy="306.63" r="2.90" fill="#0B8BD9" stroke="#1a1a1a" stroke-width="0.55"/>
<circle cx="875.76" cy="307.59" r="2.90" fill="#0B8BD9" stroke="#1a1a1a" stroke-width="0.55"/>
<circle cx="685.63" cy="311.38" r="2.90" fill="#0B8BD9" stroke="#1a1a1a" stroke-width="0.55"/>
<circle cx="691.16" cy="310.69" r="2.90" fill="#0B8BD9" stroke="#1a1a1a" stroke-width="0.55"/>
<circle cx="687.98" cy="316.91" r="2.90" fill="#0B8BD9" stroke="#1a1a1a" stroke-width="0.55"/>
<circle cx="682.87" cy="328.67" r="2.90" fill="#0B8BD9" stroke="#1a1a1a" stroke-width="0.55"/>
<circle cx="687.98" cy="331.43" r="2.90" fill="#0B8BD9" stroke="#1a1a1a" stroke-width="0.55"/>
<circle cx="693.65" cy="329.08" r="2.90" fill="#0B8BD9" stroke="#1a1a1a" stroke-width="0.55"/>
<circle cx="682.87" cy="336.55" r="2.90" fill="#0B8BD9" stroke="#1a1a1a" stroke-width="0.55"/>
<circle cx="687.98" cy="338.07" r="2.90" fill="#0B8BD9" stroke="#1a1a1a" stroke-width="0.55"/>
<circle cx="687.98" cy="347.06" r="2.90" fill="#0B8BD9" stroke="#1a1a1a" stroke-width="0.55"/>
<circle cx="683.56" cy="359.36" r="2.90" fill="#0B8BD9" stroke="#1a1a1a" stroke-width="0.55"/>
<circle cx="687.98" cy="363.24" r="2.90" fill="#0B8BD9" stroke="#1a1a1a" stroke-width="0.55"/>
<circle cx="682.87" cy="370.84" r="2.90" fill="#0B8BD9" stroke="#1a1a1a" stroke-width="0.55"/>
<circle cx="687.98" cy="372.22" r="2.90" fill="#0B8BD9" stroke="#1a1a1a" stroke-width="0.55"/>
<circle cx="693.65" cy="370.84" r="2.90" fill="#0B8BD9" stroke="#1a1a1a" stroke-width="0.55"/>
<circle cx="678.44" cy="374.57" r="2.90" fill="#0B8BD9" stroke="#1a1a1a" stroke-width="0.55"/>
<circle cx="682.87" cy="378.03" r="2.90" fill="#0B8BD9" stroke="#1a1a1a" stroke-width="0.55"/>
<circle cx="687.98" cy="379.83" r="2.90" fill="#0B8BD9" stroke="#1a1a1a" stroke-width="0.55"/>
<circle cx="693.65" cy="377.75" r="2.90" fill="#0B8BD9" stroke="#1a1a1a" stroke-width="0.55"/>
<circle cx="699.18" cy="378.03" r="2.90" fill="#0B8BD9" stroke="#1a1a1a" stroke-width="0.55"/>
<circle cx="782.15" cy="319.40" r="2.90" fill="#0B8BD9" stroke="#1a1a1a" stroke-width="0.55"/>
<circle cx="782.15" cy="327.98" r="2.90" fill="#0B8BD9" stroke="#1a1a1a" stroke-width="0.55"/>
<circle cx="777.58" cy="337.65" r="2.90" fill="#0B8BD9" stroke="#1a1a1a" stroke-width="0.55"/>
<circle cx="783.11" cy="339.31" r="2.90" fill="#0B8BD9" stroke="#1a1a1a" stroke-width="0.55"/>
<circle cx="788.23" cy="337.38" r="2.90" fill="#0B8BD9" stroke="#1a1a1a" stroke-width="0.55"/>
<circle cx="781.32" cy="344.57" r="2.90" fill="#0B8BD9" stroke="#1a1a1a" stroke-width="0.55"/>
<circle cx="777.58" cy="349.41" r="2.90" fill="#0B8BD9" stroke="#1a1a1a" stroke-width="0.55"/>
<circle cx="785.88" cy="349.41" r="2.90" fill="#0B8BD9" stroke="#1a1a1a" stroke-width="0.55"/>
<circle cx="791.41" cy="347.61" r="2.90" fill="#0B8BD9" stroke="#1a1a1a" stroke-width="0.55"/>
<circle cx="782.15" cy="353.14" r="2.90" fill="#0B8BD9" stroke="#1a1a1a" stroke-width="0.55"/>
<circle cx="783.81" cy="360.06" r="2.90" fill="#0B8BD9" stroke="#1a1a1a" stroke-width="0.55"/>
<circle cx="779.38" cy="362.82" r="2.90" fill="#0B8BD9" stroke="#1a1a1a" stroke-width="0.55"/>
<circle cx="782.15" cy="367.80" r="2.90" fill="#0B8BD9" stroke="#1a1a1a" stroke-width="0.55"/>
<circle cx="774.82" cy="370.84" r="2.90" fill="#0B8BD9" stroke="#1a1a1a" stroke-width="0.55"/>
<circle cx="793.48" cy="370.84" r="2.90" fill="#0B8BD9" stroke="#1a1a1a" stroke-width="0.55"/>
<circle cx="779.66" cy="373.88" r="2.90" fill="#0B8BD9" stroke="#1a1a1a" stroke-width="0.55"/>
<circle cx="787.95" cy="372.91" r="2.90" fill="#0B8BD9" stroke="#1a1a1a" stroke-width="0.55"/>
<circle cx="771.36" cy="379.83" r="2.90" fill="#0B8BD9" stroke="#1a1a1a" stroke-width="0.55"/>
<circle cx="776.89" cy="379.83" r="2.90" fill="#0B8BD9" stroke="#1a1a1a" stroke-width="0.55"/>
<circle cx="784.50" cy="377.75" r="2.90" fill="#0B8BD9" stroke="#1a1a1a" stroke-width="0.55"/>
<circle cx="794.18" cy="378.45" r="2.90" fill="#0B8BD9" stroke="#1a1a1a" stroke-width="0.55"/>
<circle cx="782.15" cy="382.59" r="2.90" fill="#0B8BD9" stroke="#1a1a1a" stroke-width="0.55"/>
<circle cx="787.26" cy="382.59" r="2.90" fill="#0B8BD9" stroke="#1a1a1a" stroke-width="0.55"/>
<circle cx="879.91" cy="313.87" r="2.90" fill="#0B8BD9" stroke="#1a1a1a" stroke-width="0.55"/>
<circle cx="875.76" cy="318.02" r="2.90" fill="#0B8BD9" stroke="#1a1a1a" stroke-width="0.55"/>
<circle cx="875.76" cy="323.83" r="2.90" fill="#0B8BD9" stroke="#1a1a1a" stroke-width="0.55"/>
<circle cx="875.76" cy="331.85" r="2.90" fill="#0B8BD9" stroke="#1a1a1a" stroke-width="0.55"/>
<circle cx="871.19" cy="336.00" r="2.90" fill="#0B8BD9" stroke="#1a1a1a" stroke-width="0.55"/>
<circle cx="879.91" cy="338.35" r="2.90" fill="#0B8BD9" stroke="#1a1a1a" stroke-width="0.55"/>
<circle cx="874.79" cy="340.70" r="2.90" fill="#0B8BD9" stroke="#1a1a1a" stroke-width="0.55"/>
<circle cx="870.64" cy="343.88" r="2.90" fill="#0B8BD9" stroke="#1a1a1a" stroke-width="0.55"/>
<circle cx="875.76" cy="346.64" r="2.90" fill="#0B8BD9" stroke="#1a1a1a" stroke-width="0.55"/>
<circle cx="888.20" cy="346.64" r="2.90" fill="#0B8BD9" stroke="#1a1a1a" stroke-width="0.55"/>
<circle cx="864.70" cy="349.82" r="2.90" fill="#0B8BD9" stroke="#1a1a1a" stroke-width="0.55"/>
<circle cx="884.47" cy="350.10" r="2.90" fill="#0B8BD9" stroke="#1a1a1a" stroke-width="0.55"/>
<circle cx="869.54" cy="352.17" r="2.90" fill="#0B8BD9" stroke="#1a1a1a" stroke-width="0.55"/>
<circle cx="879.91" cy="353.56" r="2.90" fill="#0B8BD9" stroke="#1a1a1a" stroke-width="0.55"/>
<circle cx="874.79" cy="354.94" r="2.90" fill="#0B8BD9" stroke="#1a1a1a" stroke-width="0.55"/>
<circle cx="875.76" cy="360.06" r="2.90" fill="#0B8BD9" stroke="#1a1a1a" stroke-width="0.55"/>
<circle cx="864.00" cy="363.24" r="2.90" fill="#0B8BD9" stroke="#1a1a1a" stroke-width="0.55"/>
<circle cx="884.05" cy="363.24" r="2.90" fill="#0B8BD9" stroke="#1a1a1a" stroke-width="0.55"/>
<circle cx="868.84" cy="363.93" r="2.90" fill="#0B8BD9" stroke="#1a1a1a" stroke-width="0.55"/>
<circle cx="879.91" cy="366.69" r="2.90" fill="#0B8BD9" stroke="#1a1a1a" stroke-width="0.55"/>
<circle cx="873.96" cy="366.00" r="2.90" fill="#0B8BD9" stroke="#1a1a1a" stroke-width="0.55"/>
<circle cx="875.76" cy="372.22" r="2.90" fill="#0B8BD9" stroke="#1a1a1a" stroke-width="0.55"/>
<circle cx="870.23" cy="371.53" r="2.90" fill="#0B8BD9" stroke="#1a1a1a" stroke-width="0.55"/>
<circle cx="688.40" cy="387.44" r="2.90" fill="#0B8BD9" stroke="#1a1a1a" stroke-width="0.55"/>
<circle cx="693.93" cy="386.75" r="2.90" fill="#0B8BD9" stroke="#1a1a1a" stroke-width="0.55"/>
<circle cx="680.10" cy="390.90" r="2.90" fill="#0B8BD9" stroke="#1a1a1a" stroke-width="0.55"/>
<circle cx="675.95" cy="392.28" r="2.90" fill="#0B8BD9" stroke="#1a1a1a" stroke-width="0.55"/>
<circle cx="685.63" cy="392.98" r="2.90" fill="#0B8BD9" stroke="#1a1a1a" stroke-width="0.55"/>
<circle cx="691.44" cy="392.98" r="2.90" fill="#0B8BD9" stroke="#1a1a1a" stroke-width="0.55"/>
<circle cx="699.18" cy="392.98" r="2.90" fill="#0B8BD9" stroke="#1a1a1a" stroke-width="0.55"/>
<circle cx="678.03" cy="396.43" r="2.90" fill="#0B8BD9" stroke="#1a1a1a" stroke-width="0.55"/>
<circle cx="682.87" cy="397.82" r="2.90" fill="#0B8BD9" stroke="#1a1a1a" stroke-width="0.55"/>
<circle cx="687.98" cy="398.51" r="2.90" fill="#0B8BD9" stroke="#1a1a1a" stroke-width="0.55"/>
<circle cx="696.00" cy="397.82" r="2.90" fill="#0B8BD9" stroke="#1a1a1a" stroke-width="0.55"/>
<circle cx="700.56" cy="396.43" r="2.90" fill="#0B8BD9" stroke="#1a1a1a" stroke-width="0.55"/>
<circle cx="675.95" cy="400.58" r="2.90" fill="#0B8BD9" stroke="#1a1a1a" stroke-width="0.55"/>
<circle cx="700.56" cy="400.58" r="2.90" fill="#0B8BD9" stroke="#1a1a1a" stroke-width="0.55"/>
<circle cx="680.10" cy="401.96" r="2.90" fill="#0B8BD9" stroke="#1a1a1a" stroke-width="0.55"/>
<circle cx="695.31" cy="401.27" r="2.90" fill="#0B8BD9" stroke="#1a1a1a" stroke-width="0.55"/>
<circle cx="682.87" cy="404.04" r="2.90" fill="#0B8BD9" stroke="#1a1a1a" stroke-width="0.55"/>
<circle cx="687.98" cy="404.73" r="2.90" fill="#0B8BD9" stroke="#1a1a1a" stroke-width="0.55"/>
<circle cx="693.24" cy="404.04" r="2.90" fill="#0B8BD9" stroke="#1a1a1a" stroke-width="0.55"/>
<circle cx="675.95" cy="407.49" r="2.90" fill="#0B8BD9" stroke="#1a1a1a" stroke-width="0.55"/>
<circle cx="700.56" cy="407.49" r="2.90" fill="#0B8BD9" stroke="#1a1a1a" stroke-width="0.55"/>
<circle cx="679.41" cy="408.19" r="2.90" fill="#0B8BD9" stroke="#1a1a1a" stroke-width="0.55"/>
<circle cx="696.69" cy="408.19" r="2.90" fill="#0B8BD9" stroke="#1a1a1a" stroke-width="0.55"/>
<circle cx="682.87" cy="411.23" r="2.90" fill="#0B8BD9" stroke="#1a1a1a" stroke-width="0.55"/>
<circle cx="687.98" cy="411.64" r="2.90" fill="#0B8BD9" stroke="#1a1a1a" stroke-width="0.55"/>
<circle cx="693.65" cy="411.64" r="2.90" fill="#0B8BD9" stroke="#1a1a1a" stroke-width="0.55"/>
<circle cx="675.95" cy="414.41" r="2.90" fill="#0B8BD9" stroke="#1a1a1a" stroke-width="0.55"/>
<circle cx="700.56" cy="414.41" r="2.90" fill="#0B8BD9" stroke="#1a1a1a" stroke-width="0.55"/>
<circle cx="680.79" cy="416.48" r="2.90" fill="#0B8BD9" stroke="#1a1a1a" stroke-width="0.55"/>
<circle cx="686.32" cy="418.97" r="2.90" fill="#0B8BD9" stroke="#1a1a1a" stroke-width="0.55"/>
<circle cx="691.85" cy="417.17" r="2.90" fill="#0B8BD9" stroke="#1a1a1a" stroke-width="0.55"/>
<circle cx="696.69" cy="418.97" r="2.90" fill="#0B8BD9" stroke="#1a1a1a" stroke-width="0.55"/>
<circle cx="675.95" cy="417.87" r="2.90" fill="#0B8BD9" stroke="#1a1a1a" stroke-width="0.55"/>
<circle cx="700.56" cy="417.87" r="2.90" fill="#0B8BD9" stroke="#1a1a1a" stroke-width="0.55"/>
<circle cx="682.87" cy="423.67" r="2.90" fill="#0B8BD9" stroke="#1a1a1a" stroke-width="0.55"/>
<circle cx="687.98" cy="424.50" r="2.90" fill="#0B8BD9" stroke="#1a1a1a" stroke-width="0.55"/>
<circle cx="693.24" cy="423.40" r="2.90" fill="#0B8BD9" stroke="#1a1a1a" stroke-width="0.55"/>
<circle cx="675.95" cy="394.36" r="2.90" fill="#0B8BD9" stroke="#1a1a1a" stroke-width="0.55"/>
<circle cx="675.95" cy="397.12" r="2.90" fill="#0B8BD9" stroke="#1a1a1a" stroke-width="0.55"/>
<circle cx="675.95" cy="403.35" r="2.90" fill="#0B8BD9" stroke="#1a1a1a" stroke-width="0.55"/>
<circle cx="675.95" cy="410.95" r="2.90" fill="#0B8BD9" stroke="#1a1a1a" stroke-width="0.55"/>
<circle cx="700.56" cy="394.36" r="2.90" fill="#0B8BD9" stroke="#1a1a1a" stroke-width="0.55"/>
<circle cx="700.56" cy="403.35" r="2.90" fill="#0B8BD9" stroke="#1a1a1a" stroke-width="0.55"/>
<circle cx="700.56" cy="410.95" r="2.90" fill="#0B8BD9" stroke="#1a1a1a" stroke-width="0.55"/>
<circle cx="700.56" cy="416.21" r="2.90" fill="#0B8BD9" stroke="#1a1a1a" stroke-width="0.55"/>
<circle cx="769.70" cy="387.44" r="2.90" fill="#0B8BD9" stroke="#1a1a1a" stroke-width="0.55"/>
<circle cx="774.82" cy="388.83" r="2.90" fill="#0B8BD9" stroke="#1a1a1a" stroke-width="0.55"/>
<circle cx="783.81" cy="388.55" r="2.90" fill="#0B8BD9" stroke="#1a1a1a" stroke-width="0.55"/>
<circle cx="794.18" cy="387.17" r="2.90" fill="#0B8BD9" stroke="#1a1a1a" stroke-width="0.55"/>
<circle cx="790.03" cy="393.67" r="2.90" fill="#0B8BD9" stroke="#1a1a1a" stroke-width="0.55"/>
<circle cx="778.00" cy="390.90" r="2.90" fill="#0B8BD9" stroke="#1a1a1a" stroke-width="0.55"/>
<circle cx="782.15" cy="395.05" r="2.90" fill="#0B8BD9" stroke="#1a1a1a" stroke-width="0.55"/>
<circle cx="777.31" cy="397.82" r="2.90" fill="#0B8BD9" stroke="#1a1a1a" stroke-width="0.55"/>
<circle cx="786.85" cy="399.20" r="2.90" fill="#0B8BD9" stroke="#1a1a1a" stroke-width="0.55"/>
<circle cx="769.70" cy="400.17" r="2.90" fill="#0B8BD9" stroke="#1a1a1a" stroke-width="0.55"/>
<circle cx="794.18" cy="401.55" r="2.90" fill="#0B8BD9" stroke="#1a1a1a" stroke-width="0.55"/>
<circle cx="782.15" cy="401.27" r="2.90" fill="#0B8BD9" stroke="#1a1a1a" stroke-width="0.55"/>
<circle cx="774.82" cy="403.35" r="2.90" fill="#0B8BD9" stroke="#1a1a1a" stroke-width="0.55"/>
<circle cx="776.89" cy="404.73" r="2.90" fill="#0B8BD9" stroke="#1a1a1a" stroke-width="0.55"/>
<circle cx="785.19" cy="404.73" r="2.90" fill="#0B8BD9" stroke="#1a1a1a" stroke-width="0.55"/>
<circle cx="792.10" cy="404.04" r="2.90" fill="#0B8BD9" stroke="#1a1a1a" stroke-width="0.55"/>
<circle cx="782.15" cy="407.91" r="2.90" fill="#0B8BD9" stroke="#1a1a1a" stroke-width="0.55"/>
<circle cx="787.68" cy="407.91" r="2.90" fill="#0B8BD9" stroke="#1a1a1a" stroke-width="0.55"/>
<circle cx="769.70" cy="409.57" r="2.90" fill="#0B8BD9" stroke="#1a1a1a" stroke-width="0.55"/>
<circle cx="794.59" cy="408.88" r="2.90" fill="#0B8BD9" stroke="#1a1a1a" stroke-width="0.55"/>
<circle cx="774.82" cy="411.23" r="2.90" fill="#0B8BD9" stroke="#1a1a1a" stroke-width="0.55"/>
<circle cx="786.85" cy="412.33" r="2.90" fill="#0B8BD9" stroke="#1a1a1a" stroke-width="0.55"/>
<circle cx="776.62" cy="413.03" r="2.90" fill="#0B8BD9" stroke="#1a1a1a" stroke-width="0.55"/>
<circle cx="782.15" cy="414.82" r="2.90" fill="#0B8BD9" stroke="#1a1a1a" stroke-width="0.55"/>
<circle cx="776.89" cy="423.40" r="2.90" fill="#0B8BD9" stroke="#1a1a1a" stroke-width="0.55"/>
<circle cx="782.15" cy="424.50" r="2.90" fill="#0B8BD9" stroke="#1a1a1a" stroke-width="0.55"/>
<circle cx="787.26" cy="423.12" r="2.90" fill="#0B8BD9" stroke="#1a1a1a" stroke-width="0.55"/>
<circle cx="869.26" cy="381.22" r="2.90" fill="#0B8BD9" stroke="#1a1a1a" stroke-width="0.55"/>
<circle cx="881.29" cy="380.81" r="2.90" fill="#0B8BD9" stroke="#1a1a1a" stroke-width="0.55"/>
<circle cx="875.76" cy="383.99" r="2.90" fill="#0B8BD9" stroke="#1a1a1a" stroke-width="0.55"/>
<circle cx="864.00" cy="385.79" r="2.90" fill="#0B8BD9" stroke="#1a1a1a" stroke-width="0.55"/>
<circle cx="888.20" cy="385.37" r="2.90" fill="#0B8BD9" stroke="#1a1a1a" stroke-width="0.55"/>
<circle cx="870.64" cy="387.72" r="2.90" fill="#0B8BD9" stroke="#1a1a1a" stroke-width="0.55"/>
<circle cx="881.98" cy="386.75" r="2.90" fill="#0B8BD9" stroke="#1a1a1a" stroke-width="0.55"/>
<circle cx="877.83" cy="388.83" r="2.90" fill="#0B8BD9" stroke="#1a1a1a" stroke-width="0.55"/>
<circle cx="873.68" cy="392.70" r="2.90" fill="#0B8BD9" stroke="#1a1a1a" stroke-width="0.55"/>
<circle cx="877.83" cy="396.43" r="2.90" fill="#0B8BD9" stroke="#1a1a1a" stroke-width="0.55"/>
<circle cx="864.00" cy="399.89" r="2.90" fill="#0B8BD9" stroke="#1a1a1a" stroke-width="0.55"/>
<circle cx="888.20" cy="399.61" r="2.90" fill="#0B8BD9" stroke="#1a1a1a" stroke-width="0.55"/>
<circle cx="868.15" cy="401.00" r="2.90" fill="#0B8BD9" stroke="#1a1a1a" stroke-width="0.55"/>
<circle cx="884.05" cy="400.58" r="2.90" fill="#0B8BD9" stroke="#1a1a1a" stroke-width="0.55"/>
<circle cx="873.96" cy="401.00" r="2.90" fill="#0B8BD9" stroke="#1a1a1a" stroke-width="0.55"/>
<circle cx="880.60" cy="403.35" r="2.90" fill="#0B8BD9" stroke="#1a1a1a" stroke-width="0.55"/>
<circle cx="870.23" cy="405.70" r="2.90" fill="#0B8BD9" stroke="#1a1a1a" stroke-width="0.55"/>
<circle cx="875.76" cy="407.08" r="2.90" fill="#0B8BD9" stroke="#1a1a1a" stroke-width="0.55"/>
<circle cx="870.64" cy="422.29" r="2.90" fill="#0B8BD9" stroke="#1a1a1a" stroke-width="0.55"/>
<circle cx="880.87" cy="422.01" r="2.90" fill="#0B8BD9" stroke="#1a1a1a" stroke-width="0.55"/>
<circle cx="875.76" cy="424.09" r="2.90" fill="#0B8BD9" stroke="#1a1a1a" stroke-width="0.55"/>
<circle cx="957.73" cy="114.73" r="2.90" fill="#0B8BD9" stroke="#1a1a1a" stroke-width="0.55"/>
<circle cx="981.93" cy="114.73" r="2.90" fill="#0B8BD9" stroke="#1a1a1a" stroke-width="0.55"/>
<circle cx="964.65" cy="118.19" r="2.90" fill="#0B8BD9" stroke="#1a1a1a" stroke-width="0.55"/>
<circle cx="969.90" cy="116.80" r="2.90" fill="#0B8BD9" stroke="#1a1a1a" stroke-width="0.55"/>
<circle cx="975.02" cy="118.88" r="2.90" fill="#0B8BD9" stroke="#1a1a1a" stroke-width="0.55"/>
<circle cx="968.10" cy="122.33" r="2.90" fill="#0B8BD9" stroke="#1a1a1a" stroke-width="0.55"/>
<circle cx="957.73" cy="117.49" r="2.90" fill="#0B8BD9" stroke="#1a1a1a" stroke-width="0.55"/>
<circle cx="957.73" cy="119.57" r="2.90" fill="#0B8BD9" stroke="#1a1a1a" stroke-width="0.55"/>
<circle cx="957.73" cy="121.64" r="2.90" fill="#0B8BD9" stroke="#1a1a1a" stroke-width="0.55"/>
<circle cx="957.73" cy="123.72" r="2.90" fill="#0B8BD9" stroke="#1a1a1a" stroke-width="0.55"/>
<circle cx="981.93" cy="117.49" r="2.90" fill="#0B8BD9" stroke="#1a1a1a" stroke-width="0.55"/>
<circle cx="981.93" cy="119.57" r="2.90" fill="#0B8BD9" stroke="#1a1a1a" stroke-width="0.55"/>
<circle cx="981.93" cy="121.64" r="2.90" fill="#0B8BD9" stroke="#1a1a1a" stroke-width="0.55"/>
<circle cx="981.93" cy="123.72" r="2.90" fill="#0B8BD9" stroke="#1a1a1a" stroke-width="0.55"/>
<circle cx="963.26" cy="125.79" r="2.90" fill="#0B8BD9" stroke="#1a1a1a" stroke-width="0.55"/>
<circle cx="973.63" cy="125.10" r="2.90" fill="#0B8BD9" stroke="#1a1a1a" stroke-width="0.55"/>
<circle cx="969.90" cy="129.25" r="2.90" fill="#0B8BD9" stroke="#1a1a1a" stroke-width="0.55"/>
<circle cx="957.73" cy="128.97" r="2.90" fill="#0B8BD9" stroke="#1a1a1a" stroke-width="0.55"/>
<circle cx="981.93" cy="128.97" r="2.90" fill="#0B8BD9" stroke="#1a1a1a" stroke-width="0.55"/>
<circle cx="964.65" cy="133.40" r="2.90" fill="#0B8BD9" stroke="#1a1a1a" stroke-width="0.55"/>
<circle cx="974.33" cy="132.70" r="2.90" fill="#0B8BD9" stroke="#1a1a1a" stroke-width="0.55"/>
<circle cx="960.50" cy="132.01" r="2.90" fill="#0B8BD9" stroke="#1a1a1a" stroke-width="0.55"/>
<circle cx="979.16" cy="133.40" r="2.90" fill="#0B8BD9" stroke="#1a1a1a" stroke-width="0.55"/>
<circle cx="969.90" cy="136.85" r="2.90" fill="#0B8BD9" stroke="#1a1a1a" stroke-width="0.55"/>
<circle cx="979.16" cy="140.72" r="2.90" fill="#0B8BD9" stroke="#1a1a1a" stroke-width="0.55"/>
<circle cx="973.63" cy="141.97" r="2.90" fill="#0B8BD9" stroke="#1a1a1a" stroke-width="0.55"/>
<circle cx="964.65" cy="144.18" r="2.90" fill="#0B8BD9" stroke="#1a1a1a" stroke-width="0.55"/>
<circle cx="969.90" cy="146.53" r="2.90" fill="#0B8BD9" stroke="#1a1a1a" stroke-width="0.55"/>
<circle cx="969.90" cy="157.59" r="2.90" fill="#0B8BD9" stroke="#1a1a1a" stroke-width="0.55"/>
<circle cx="969.90" cy="170.79" r="2.90" fill="#0B8BD9" stroke="#1a1a1a" stroke-width="0.55"/>
<circle cx="966.03" cy="181.85" r="2.90" fill="#0B8BD9" stroke="#1a1a1a" stroke-width="0.55"/>
<circle cx="969.90" cy="186.27" r="2.90" fill="#0B8BD9" stroke="#1a1a1a" stroke-width="0.55"/>
<circle cx="972.94" cy="203.97" r="2.90" fill="#0B8BD9" stroke="#1a1a1a" stroke-width="0.55"/>
<circle cx="964.65" cy="207.70" r="2.90" fill="#0B8BD9" stroke="#1a1a1a" stroke-width="0.55"/>
<circle cx="969.90" cy="209.09" r="2.90" fill="#0B8BD9" stroke="#1a1a1a" stroke-width="0.55"/>
<circle cx="966.03" cy="216.97" r="2.90" fill="#0B8BD9" stroke="#1a1a1a" stroke-width="0.55"/>
<circle cx="969.90" cy="221.53" r="2.90" fill="#0B8BD9" stroke="#1a1a1a" stroke-width="0.55"/>
<circle cx="964.65" cy="231.63" r="2.90" fill="#0B8BD9" stroke="#1a1a1a" stroke-width="0.55"/>
<circle cx="969.90" cy="233.98" r="2.90" fill="#0B8BD9" stroke="#1a1a1a" stroke-width="0.55"/>
<circle cx="975.02" cy="232.59" r="2.90" fill="#0B8BD9" stroke="#1a1a1a" stroke-width="0.55"/>
<circle cx="964.65" cy="239.84" r="2.90" fill="#0B8BD9" stroke="#1a1a1a" stroke-width="0.55"/>
<circle cx="969.90" cy="241.22" r="2.90" fill="#0B8BD9" stroke="#1a1a1a" stroke-width="0.55"/>
<circle cx="969.90" cy="248.55" r="2.90" fill="#0B8BD9" stroke="#1a1a1a" stroke-width="0.55"/>
<circle cx="964.65" cy="261.96" r="2.90" fill="#0B8BD9" stroke="#1a1a1a" stroke-width="0.55"/>
<circle cx="969.90" cy="264.73" r="2.90" fill="#0B8BD9" stroke="#1a1a1a" stroke-width="0.55"/>
<circle cx="974.33" cy="274.41" r="2.90" fill="#0B8BD9" stroke="#1a1a1a" stroke-width="0.55"/>
<circle cx="964.37" cy="277.59" r="2.90" fill="#0B8BD9" stroke="#1a1a1a" stroke-width="0.55"/>
<circle cx="969.90" cy="278.14" r="2.90" fill="#0B8BD9" stroke="#1a1a1a" stroke-width="0.55"/>
<circle cx="959.81" cy="281.74" r="2.90" fill="#0B8BD9" stroke="#1a1a1a" stroke-width="0.55"/>
<circle cx="975.02" cy="283.40" r="2.90" fill="#0B8BD9" stroke="#1a1a1a" stroke-width="0.55"/>
<circle cx="980.13" cy="283.40" r="2.90" fill="#0B8BD9" stroke="#1a1a1a" stroke-width="0.55"/>
<circle cx="964.65" cy="285.47" r="2.90" fill="#0B8BD9" stroke="#1a1a1a" stroke-width="0.55"/>
<circle cx="969.90" cy="286.44" r="2.90" fill="#0B8BD9" stroke="#1a1a1a" stroke-width="0.55"/>
<circle cx="973.63" cy="295.15" r="2.90" fill="#0B8BD9" stroke="#1a1a1a" stroke-width="0.55"/>
<circle cx="968.52" cy="295.84" r="2.90" fill="#0B8BD9" stroke="#1a1a1a" stroke-width="0.55"/>
<circle cx="969.90" cy="302.34" r="2.90" fill="#0B8BD9" stroke="#1a1a1a" stroke-width="0.55"/>
<circle cx="979.86" cy="306.63" r="2.90" fill="#0B8BD9" stroke="#1a1a1a" stroke-width="0.55"/>
<circle cx="964.65" cy="308.29" r="2.90" fill="#0B8BD9" stroke="#1a1a1a" stroke-width="0.55"/>
<circle cx="969.90" cy="310.36" r="2.90" fill="#0B8BD9" stroke="#1a1a1a" stroke-width="0.55"/>
<circle cx="975.02" cy="309.67" r="2.90" fill="#0B8BD9" stroke="#1a1a1a" stroke-width="0.55"/>
<circle cx="964.65" cy="318.02" r="2.90" fill="#0B8BD9" stroke="#1a1a1a" stroke-width="0.55"/>
<circle cx="973.63" cy="316.22" r="2.90" fill="#0B8BD9" stroke="#1a1a1a" stroke-width="0.55"/>
<circle cx="969.90" cy="320.79" r="2.90" fill="#0B8BD9" stroke="#1a1a1a" stroke-width="0.55"/>
<circle cx="969.90" cy="338.35" r="2.90" fill="#0B8BD9" stroke="#1a1a1a" stroke-width="0.55"/>
<circle cx="957.73" cy="345.95" r="2.90" fill="#0B8BD9" stroke="#1a1a1a" stroke-width="0.55"/>
<circle cx="964.37" cy="343.46" r="2.90" fill="#0B8BD9" stroke="#1a1a1a" stroke-width="0.55"/>
<circle cx="981.93" cy="344.85" r="2.90" fill="#0B8BD9" stroke="#1a1a1a" stroke-width="0.55"/>
<circle cx="969.90" cy="346.23" r="2.90" fill="#0B8BD9" stroke="#1a1a1a" stroke-width="0.55"/>
<circle cx="959.81" cy="348.72" r="2.90" fill="#0B8BD9" stroke="#1a1a1a" stroke-width="0.55"/>
<circle cx="979.86" cy="347.61" r="2.90" fill="#0B8BD9" stroke="#1a1a1a" stroke-width="0.55"/>
<circle cx="975.02" cy="350.38" r="2.90" fill="#0B8BD9" stroke="#1a1a1a" stroke-width="0.55"/>
<circle cx="964.37" cy="351.48" r="2.90" fill="#0B8BD9" stroke="#1a1a1a" stroke-width="0.55"/>
<circle cx="969.90" cy="352.59" r="2.90" fill="#0B8BD9" stroke="#1a1a1a" stroke-width="0.55"/>
<circle cx="969.90" cy="361.16" r="2.90" fill="#0B8BD9" stroke="#1a1a1a" stroke-width="0.55"/>
<circle cx="969.90" cy="368.77" r="2.90" fill="#0B8BD9" stroke="#1a1a1a" stroke-width="0.55"/>
<circle cx="981.93" cy="372.91" r="2.90" fill="#0B8BD9" stroke="#1a1a1a" stroke-width="0.55"/>
<circle cx="959.12" cy="374.30" r="2.90" fill="#0B8BD9" stroke="#1a1a1a" stroke-width="0.55"/>
<circle cx="975.02" cy="375.27" r="2.90" fill="#0B8BD9" stroke="#1a1a1a" stroke-width="0.55"/>
<circle cx="964.65" cy="377.06" r="2.90" fill="#0B8BD9" stroke="#1a1a1a" stroke-width="0.55"/>
<circle cx="969.90" cy="378.45" r="2.90" fill="#0B8BD9" stroke="#1a1a1a" stroke-width="0.55"/>
<circle cx="964.65" cy="385.77" r="2.90" fill="#0B8BD9" stroke="#1a1a1a" stroke-width="0.55"/>
<circle cx="969.90" cy="386.05" r="2.90" fill="#0B8BD9" stroke="#1a1a1a" stroke-width="0.55"/>
<circle cx="964.37" cy="386.75" r="2.90" fill="#0B8BD9" stroke="#1a1a1a" stroke-width="0.55"/>
<circle cx="969.90" cy="387.44" r="2.90" fill="#0B8BD9" stroke="#1a1a1a" stroke-width="0.55"/>
<circle cx="966.72" cy="419.94" r="2.90" fill="#0B8BD9" stroke="#1a1a1a" stroke-width="0.55"/>
<circle cx="972.94" cy="419.52" r="2.90" fill="#0B8BD9" stroke="#1a1a1a" stroke-width="0.55"/>
<circle cx="969.90" cy="424.09" r="2.90" fill="#0B8BD9" stroke="#1a1a1a" stroke-width="0.55"/>
<circle cx="708.17" cy="110.17" r="2.90" fill="#F8502F" stroke="#1a1a1a" stroke-width="0.55"/>
<circle cx="717.43" cy="108.78" r="2.90" fill="#F8502F" stroke="#1a1a1a" stroke-width="0.55"/>
<circle cx="713.01" cy="112.65" r="2.90" fill="#F8502F" stroke="#1a1a1a" stroke-width="0.55"/>
<circle cx="713.01" cy="124.41" r="2.90" fill="#F8502F" stroke="#1a1a1a" stroke-width="0.55"/>
<circle cx="708.17" cy="129.25" r="2.90" fill="#F8502F" stroke="#1a1a1a" stroke-width="0.55"/>
<circle cx="717.43" cy="128.97" r="2.90" fill="#F8502F" stroke="#1a1a1a" stroke-width="0.55"/>
<circle cx="723.24" cy="126.90" r="2.90" fill="#F8502F" stroke="#1a1a1a" stroke-width="0.55"/>
<circle cx="713.01" cy="132.01" r="2.90" fill="#F8502F" stroke="#1a1a1a" stroke-width="0.55"/>
<circle cx="705.68" cy="149.71" r="2.90" fill="#F8502F" stroke="#1a1a1a" stroke-width="0.55"/>
<circle cx="713.01" cy="151.37" r="2.90" fill="#F8502F" stroke="#1a1a1a" stroke-width="0.55"/>
<circle cx="718.82" cy="149.71" r="2.90" fill="#F8502F" stroke="#1a1a1a" stroke-width="0.55"/>
<circle cx="708.45" cy="155.24" r="2.90" fill="#F8502F" stroke="#1a1a1a" stroke-width="0.55"/>
<circle cx="713.01" cy="158.98" r="2.90" fill="#F8502F" stroke="#1a1a1a" stroke-width="0.55"/>
<circle cx="794.59" cy="107.12" r="2.90" fill="#F8502F" stroke="#1a1a1a" stroke-width="0.55"/>
<circle cx="819.76" cy="106.43" r="2.90" fill="#F8502F" stroke="#1a1a1a" stroke-width="0.55"/>
<circle cx="796.25" cy="110.58" r="2.90" fill="#F8502F" stroke="#1a1a1a" stroke-width="0.55"/>
<circle cx="801.50" cy="111.00" r="2.90" fill="#F8502F" stroke="#1a1a1a" stroke-width="0.55"/>
<circle cx="807.04" cy="111.00" r="2.90" fill="#F8502F" stroke="#1a1a1a" stroke-width="0.55"/>
<circle cx="812.57" cy="111.00" r="2.90" fill="#F8502F" stroke="#1a1a1a" stroke-width="0.55"/>
<circle cx="818.10" cy="110.58" r="2.90" fill="#F8502F" stroke="#1a1a1a" stroke-width="0.55"/>
<circle cx="794.59" cy="118.88" r="2.90" fill="#F8502F" stroke="#1a1a1a" stroke-width="0.55"/>
<circle cx="799.02" cy="118.88" r="2.90" fill="#F8502F" stroke="#1a1a1a" stroke-width="0.55"/>
<circle cx="815.33" cy="120.67" r="2.90" fill="#F8502F" stroke="#1a1a1a" stroke-width="0.55"/>
<circle cx="803.16" cy="122.61" r="2.90" fill="#F8502F" stroke="#1a1a1a" stroke-width="0.55"/>
<circle cx="810.08" cy="122.61" r="2.90" fill="#F8502F" stroke="#1a1a1a" stroke-width="0.55"/>
<circle cx="807.04" cy="127.87" r="2.90" fill="#F8502F" stroke="#1a1a1a" stroke-width="0.55"/>
<circle cx="794.18" cy="142.38" r="2.90" fill="#F8502F" stroke="#1a1a1a" stroke-width="0.55"/>
<circle cx="807.04" cy="146.53" r="2.90" fill="#F8502F" stroke="#1a1a1a" stroke-width="0.55"/>
<circle cx="808.97" cy="153.03" r="2.90" fill="#F8502F" stroke="#1a1a1a" stroke-width="0.55"/>
<circle cx="804.55" cy="157.18" r="2.90" fill="#F8502F" stroke="#1a1a1a" stroke-width="0.55"/>
<circle cx="807.04" cy="161.05" r="2.90" fill="#F8502F" stroke="#1a1a1a" stroke-width="0.55"/>
<circle cx="888.48" cy="105.46" r="2.90" fill="#F8502F" stroke="#1a1a1a" stroke-width="0.55"/>
<circle cx="913.09" cy="105.46" r="2.90" fill="#F8502F" stroke="#1a1a1a" stroke-width="0.55"/>
<circle cx="895.81" cy="107.12" r="2.90" fill="#F8502F" stroke="#1a1a1a" stroke-width="0.55"/>
<circle cx="901.06" cy="105.05" r="2.90" fill="#F8502F" stroke="#1a1a1a" stroke-width="0.55"/>
<circle cx="905.49" cy="108.51" r="2.90" fill="#F8502F" stroke="#1a1a1a" stroke-width="0.55"/>
<circle cx="913.09" cy="107.12" r="2.90" fill="#F8502F" stroke="#1a1a1a" stroke-width="0.55"/>
<circle cx="900.65" cy="110.58" r="2.90" fill="#F8502F" stroke="#1a1a1a" stroke-width="0.55"/>
<circle cx="904.38" cy="115.42" r="2.90" fill="#F8502F" stroke="#1a1a1a" stroke-width="0.55"/>
<circle cx="895.81" cy="118.19" r="2.90" fill="#F8502F" stroke="#1a1a1a" stroke-width="0.55"/>
<circle cx="900.65" cy="120.26" r="2.90" fill="#F8502F" stroke="#1a1a1a" stroke-width="0.55"/>
<circle cx="900.65" cy="127.87" r="2.90" fill="#F8502F" stroke="#1a1a1a" stroke-width="0.55"/>
<circle cx="900.65" cy="135.47" r="2.90" fill="#F8502F" stroke="#1a1a1a" stroke-width="0.55"/>
<circle cx="900.65" cy="144.87" r="2.90" fill="#F8502F" stroke="#1a1a1a" stroke-width="0.55"/>
<circle cx="713.01" cy="165.53" r="2.90" fill="#F8502F" stroke="#1a1a1a" stroke-width="0.55"/>
<circle cx="713.01" cy="201.07" r="2.90" fill="#F8502F" stroke="#1a1a1a" stroke-width="0.55"/>
<circle cx="708.45" cy="212.82" r="2.90" fill="#F8502F" stroke="#1a1a1a" stroke-width="0.55"/>
<circle cx="716.74" cy="211.85" r="2.90" fill="#F8502F" stroke="#1a1a1a" stroke-width="0.55"/>
<circle cx="713.01" cy="216.42" r="2.90" fill="#F8502F" stroke="#1a1a1a" stroke-width="0.55"/>
<circle cx="713.01" cy="232.32" r="2.90" fill="#F8502F" stroke="#1a1a1a" stroke-width="0.55"/>
<circle cx="807.04" cy="163.04" r="2.90" fill="#F8502F" stroke="#1a1a1a" stroke-width="0.55"/>
<circle cx="807.04" cy="176.59" r="2.90" fill="#F8502F" stroke="#1a1a1a" stroke-width="0.55"/>
<circle cx="807.04" cy="197.06" r="2.90" fill="#F8502F" stroke="#1a1a1a" stroke-width="0.55"/>
<circle cx="713.01" cy="258.92" r="2.90" fill="#F8502F" stroke="#1a1a1a" stroke-width="0.55"/>
<circle cx="982.35" cy="105.05" r="2.90" fill="#F8502F" stroke="#1a1a1a" stroke-width="0.55"/>
<circle cx="1007.23" cy="104.63" r="2.90" fill="#F8502F" stroke="#1a1a1a" stroke-width="0.55"/>
<circle cx="985.39" cy="106.85" r="2.90" fill="#F8502F" stroke="#1a1a1a" stroke-width="0.55"/>
<circle cx="994.38" cy="106.02" r="2.90" fill="#F8502F" stroke="#1a1a1a" stroke-width="0.55"/>
<circle cx="1004.05" cy="106.85" r="2.90" fill="#F8502F" stroke="#1a1a1a" stroke-width="0.55"/>
<circle cx="989.54" cy="109.89" r="2.90" fill="#F8502F" stroke="#1a1a1a" stroke-width="0.55"/>
<circle cx="999.21" cy="109.89" r="2.90" fill="#F8502F" stroke="#1a1a1a" stroke-width="0.55"/>
<circle cx="994.38" cy="112.65" r="2.90" fill="#F8502F" stroke="#1a1a1a" stroke-width="0.55"/>
<rect x="642.00" y="85.50" width="375.00" height="345.90" stroke="#161616" stroke-width="1.3" fill="none" />
<text x="638.50" y="106.08" font-size="15.5" text-anchor="end" fill="#000">1<tspan dx="-1.3">00</tspan></text>
<text x="638.50" y="138.16" font-size="15.5" text-anchor="end" fill="#000">90</text>
<text x="638.50" y="170.24" font-size="15.5" text-anchor="end" fill="#000">80</text>
<text x="638.50" y="202.32" font-size="15.5" text-anchor="end" fill="#000">70</text>
<text x="638.50" y="234.40" font-size="15.5" text-anchor="end" fill="#000">60</text>
<text x="638.50" y="266.48" font-size="15.5" text-anchor="end" fill="#000">50</text>
<text x="638.50" y="298.56" font-size="15.5" text-anchor="end" fill="#000">40</text>
<text x="638.50" y="330.64" font-size="15.5" text-anchor="end" fill="#000">30</text>
<text x="638.50" y="362.72" font-size="15.5" text-anchor="end" fill="#000">20</text>
<text x="638.50" y="394.80" font-size="15.5" text-anchor="end" fill="#000">1<tspan dx="-1.3">0</tspan></text>
<text x="638.50" y="426.88" font-size="15.5" text-anchor="end" fill="#000">0</text>
<text x="602.70" y="263.40" font-size="23.2" text-anchor="middle" fill="#000" transform="rotate(-90 602.70 263.40)">% of bins with non-zero coverage</text>
<text x="690.10" y="448.00" font-size="15.5" text-anchor="middle" fill="#000">1<tspan dx="-1.3">0</tspan></text>
<text x="783.60" y="448.00" font-size="15.5" text-anchor="middle" fill="#000">20</text>
<text x="877.80" y="448.00" font-size="15.5" text-anchor="middle" fill="#000">40</text>
<text x="973.00" y="448.00" font-size="15.5" text-anchor="middle" fill="#000">1<tspan dx="-1.3">00</tspan></text>
<text x="824.50" y="479.00" font-size="23.35" text-anchor="middle" fill="#000">Resolution of snHi-C map (kb)</text>
<line x1="1100.90" y1="99.30" x2="1493.00" y2="99.30" stroke="#d8d8d8" stroke-width="1" />
<line x1="1100.90" y1="132.30" x2="1493.00" y2="132.30" stroke="#d8d8d8" stroke-width="1" />
<line x1="1100.90" y1="181.70" x2="1493.00" y2="181.70" stroke="#d8d8d8" stroke-width="1" />
<line x1="1100.90" y1="231.50" x2="1493.00" y2="231.50" stroke="#d8d8d8" stroke-width="1" />
<line x1="1100.90" y1="280.60" x2="1493.00" y2="280.60" stroke="#d8d8d8" stroke-width="1" />
<line x1="1100.90" y1="329.80" x2="1493.00" y2="329.80" stroke="#d8d8d8" stroke-width="1" />
<line x1="1100.90" y1="378.80" x2="1493.00" y2="378.80" stroke="#d8d8d8" stroke-width="1" />
<line x1="1123.80" y1="422.90" x2="1123.80" y2="423.60" stroke="#141414" stroke-width="1.6" />
<line x1="1123.80" y1="427.60" x2="1123.80" y2="428.40" stroke="#141414" stroke-width="1.6" />
<line x1="1117.50" y1="422.90" x2="1130.10" y2="422.90" stroke="#141414" stroke-width="1.6" />
<line x1="1117.50" y1="428.40" x2="1130.10" y2="428.40" stroke="#141414" stroke-width="1.6" />
<rect x="1110.70" y="423.60" width="26.20" height="4.00" stroke="#141414" stroke-width="1.6" fill="none" />
<line x1="1110.70" y1="426.00" x2="1136.90" y2="426.00" stroke="#141414" stroke-width="1.6" />
<line x1="1149.90" y1="411.90" x2="1149.90" y2="415.30" stroke="#141414" stroke-width="1.6" />
<line x1="1149.90" y1="419.50" x2="1149.90" y2="420.80" stroke="#141414" stroke-width="1.6" />
<line x1="1143.60" y1="411.90" x2="1156.20" y2="411.90" stroke="#141414" stroke-width="1.6" />
<line x1="1143.60" y1="420.80" x2="1156.20" y2="420.80" stroke="#141414" stroke-width="1.6" />
<rect x="1136.80" y="415.30" width="26.20" height="4.20" stroke="#141414" stroke-width="1.6" fill="none" />
<line x1="1136.80" y1="417.40" x2="1163.00" y2="417.40" stroke="#141414" stroke-width="1.6" />
<line x1="1176.00" y1="389.70" x2="1176.00" y2="402.90" stroke="#141414" stroke-width="1.6" />
<line x1="1176.00" y1="417.40" x2="1176.00" y2="422.90" stroke="#141414" stroke-width="1.6" />
<line x1="1169.70" y1="389.70" x2="1182.30" y2="389.70" stroke="#141414" stroke-width="1.6" />
<line x1="1169.70" y1="422.90" x2="1182.30" y2="422.90" stroke="#141414" stroke-width="1.6" />
<rect x="1162.90" y="402.90" width="26.20" height="14.50" stroke="#141414" stroke-width="1.6" fill="none" />
<line x1="1162.90" y1="409.10" x2="1189.10" y2="409.10" stroke="#141414" stroke-width="1.6" />
<line x1="1221.80" y1="418.60" x2="1221.80" y2="420.80" stroke="#141414" stroke-width="1.6" />
<line x1="1221.80" y1="426.00" x2="1221.80" y2="428.00" stroke="#141414" stroke-width="1.6" />
<line x1="1215.50" y1="418.60" x2="1228.10" y2="418.60" stroke="#141414" stroke-width="1.6" />
<line x1="1215.50" y1="428.00" x2="1228.10" y2="428.00" stroke="#141414" stroke-width="1.6" />
<rect x="1208.70" y="420.80" width="26.20" height="5.20" stroke="#141414" stroke-width="1.6" fill="none" />
<line x1="1208.70" y1="423.60" x2="1234.90" y2="423.60" stroke="#141414" stroke-width="1.6" />
<line x1="1247.90" y1="397.30" x2="1247.90" y2="402.90" stroke="#141414" stroke-width="1.6" />
<line x1="1247.90" y1="410.50" x2="1247.90" y2="413.50" stroke="#141414" stroke-width="1.6" />
<line x1="1241.60" y1="397.30" x2="1254.20" y2="397.30" stroke="#141414" stroke-width="1.6" />
<line x1="1241.60" y1="413.50" x2="1254.20" y2="413.50" stroke="#141414" stroke-width="1.6" />
<rect x="1234.80" y="402.90" width="26.20" height="7.60" stroke="#141414" stroke-width="1.6" fill="none" />
<line x1="1234.80" y1="407.00" x2="1261.00" y2="407.00" stroke="#141414" stroke-width="1.6" />
<line x1="1274.00" y1="364.10" x2="1274.00" y2="383.80" stroke="#141414" stroke-width="1.6" />
<line x1="1274.00" y1="410.10" x2="1274.00" y2="418.00" stroke="#141414" stroke-width="1.6" />
<line x1="1267.70" y1="364.10" x2="1280.30" y2="364.10" stroke="#141414" stroke-width="1.6" />
<line x1="1267.70" y1="418.00" x2="1280.30" y2="418.00" stroke="#141414" stroke-width="1.6" />
<rect x="1260.90" y="383.80" width="26.20" height="26.30" stroke="#141414" stroke-width="1.6" fill="none" />
<line x1="1260.90" y1="397.00" x2="1287.10" y2="397.00" stroke="#141414" stroke-width="1.6" />
<line x1="1319.90" y1="413.20" x2="1319.90" y2="418.00" stroke="#141414" stroke-width="1.6" />
<line x1="1319.90" y1="424.00" x2="1319.90" y2="427.30" stroke="#141414" stroke-width="1.6" />
<line x1="1313.60" y1="413.20" x2="1326.20" y2="413.20" stroke="#141414" stroke-width="1.6" />
<line x1="1313.60" y1="427.30" x2="1326.20" y2="427.30" stroke="#141414" stroke-width="1.6" />
<rect x="1306.80" y="418.00" width="26.20" height="6.00" stroke="#141414" stroke-width="1.6" fill="none" />
<line x1="1306.80" y1="420.50" x2="1333.00" y2="420.50" stroke="#141414" stroke-width="1.6" />
<line x1="1346.00" y1="371.80" x2="1346.00" y2="381.70" stroke="#141414" stroke-width="1.6" />
<line x1="1346.00" y1="396.60" x2="1346.00" y2="401.50" stroke="#141414" stroke-width="1.6" />
<line x1="1339.70" y1="371.80" x2="1352.30" y2="371.80" stroke="#141414" stroke-width="1.6" />
<line x1="1339.70" y1="401.50" x2="1352.30" y2="401.50" stroke="#141414" stroke-width="1.6" />
<rect x="1332.90" y="381.70" width="26.20" height="14.90" stroke="#141414" stroke-width="1.6" fill="none" />
<line x1="1332.90" y1="393.90" x2="1359.10" y2="393.90" stroke="#141414" stroke-width="1.6" />
<line x1="1372.10" y1="322.10" x2="1372.10" y2="350.80" stroke="#141414" stroke-width="1.6" />
<line x1="1372.10" y1="395.30" x2="1372.10" y2="408.40" stroke="#141414" stroke-width="1.6" />
<line x1="1365.80" y1="322.10" x2="1378.40" y2="322.10" stroke="#141414" stroke-width="1.6" />
<line x1="1365.80" y1="408.40" x2="1378.40" y2="408.40" stroke="#141414" stroke-width="1.6" />
<rect x="1359.00" y="350.80" width="26.20" height="44.50" stroke="#141414" stroke-width="1.6" fill="none" />
<line x1="1359.00" y1="376.90" x2="1385.20" y2="376.90" stroke="#141414" stroke-width="1.6" />
<line x1="1417.90" y1="400.40" x2="1417.90" y2="409.10" stroke="#141414" stroke-width="1.6" />
<line x1="1417.90" y1="416.00" x2="1417.90" y2="424.30" stroke="#141414" stroke-width="1.6" />
<line x1="1411.60" y1="400.40" x2="1424.20" y2="400.40" stroke="#141414" stroke-width="1.6" />
<line x1="1411.60" y1="424.30" x2="1424.20" y2="424.30" stroke="#141414" stroke-width="1.6" />
<rect x="1404.80" y="409.10" width="26.20" height="6.90" stroke="#141414" stroke-width="1.6" fill="none" />
<line x1="1404.80" y1="413.00" x2="1431.00" y2="413.00" stroke="#141414" stroke-width="1.6" />
<line x1="1444.00" y1="300.40" x2="1444.00" y2="325.30" stroke="#141414" stroke-width="1.6" />
<line x1="1444.00" y1="353.60" x2="1444.00" y2="372.20" stroke="#141414" stroke-width="1.6" />
<line x1="1437.70" y1="300.40" x2="1450.30" y2="300.40" stroke="#141414" stroke-width="1.6" />
<line x1="1437.70" y1="372.20" x2="1450.30" y2="372.20" stroke="#141414" stroke-width="1.6" />
<rect x="1430.90" y="325.30" width="26.20" height="28.30" stroke="#141414" stroke-width="1.6" fill="none" />
<line x1="1430.90" y1="343.00" x2="1457.10" y2="343.00" stroke="#141414" stroke-width="1.6" />
<line x1="1470.10" y1="227.40" x2="1470.10" y2="274.90" stroke="#141414" stroke-width="1.6" />
<line x1="1470.10" y1="356.80" x2="1470.10" y2="389.70" stroke="#141414" stroke-width="1.6" />
<line x1="1463.80" y1="227.40" x2="1476.40" y2="227.40" stroke="#141414" stroke-width="1.6" />
<line x1="1463.80" y1="389.70" x2="1476.40" y2="389.70" stroke="#141414" stroke-width="1.6" />
<rect x="1457.00" y="274.90" width="26.20" height="81.90" stroke="#141414" stroke-width="1.6" fill="none" />
<line x1="1457.00" y1="324.60" x2="1483.20" y2="324.60" stroke="#141414" stroke-width="1.6" />
<circle cx="1110.90" cy="422.91" r="2.75" fill="#E8AB35" stroke="#1a1a1a" stroke-width="0.55"/>
<circle cx="1136.48" cy="423.33" r="2.75" fill="#E8AB35" stroke="#1a1a1a" stroke-width="0.55"/>
<circle cx="1112.28" cy="426.37" r="2.75" fill="#E8AB35" stroke="#1a1a1a" stroke-width="0.55"/>
<circle cx="1117.82" cy="427.06" r="2.75" fill="#E8AB35" stroke="#1a1a1a" stroke-width="0.55"/>
<circle cx="1123.76" cy="427.34" r="2.75" fill="#E8AB35" stroke="#1a1a1a" stroke-width="0.55"/>
<circle cx="1129.57" cy="427.06" r="2.75" fill="#E8AB35" stroke="#1a1a1a" stroke-width="0.55"/>
<circle cx="1135.10" cy="426.37" r="2.75" fill="#E8AB35" stroke="#1a1a1a" stroke-width="0.55"/>
<circle cx="1110.49" cy="424.71" r="2.75" fill="#E8AB35" stroke="#1a1a1a" stroke-width="0.55"/>
<circle cx="1136.90" cy="424.71" r="2.75" fill="#E8AB35" stroke="#1a1a1a" stroke-width="0.55"/>
<circle cx="1110.49" cy="425.68" r="2.75" fill="#E8AB35" stroke="#1a1a1a" stroke-width="0.55"/>
<circle cx="1136.90" cy="425.82" r="2.75" fill="#E8AB35" stroke="#1a1a1a" stroke-width="0.55"/>
<circle cx="1115.05" cy="424.44" r="2.75" fill="#E8AB35" stroke="#1a1a1a" stroke-width="0.55"/>
<circle cx="1132.33" cy="424.71" r="2.75" fill="#E8AB35" stroke="#1a1a1a" stroke-width="0.55"/>
<circle cx="1120.72" cy="424.99" r="2.75" fill="#E8AB35" stroke="#1a1a1a" stroke-width="0.55"/>
<circle cx="1126.80" cy="424.99" r="2.75" fill="#E8AB35" stroke="#1a1a1a" stroke-width="0.55"/>
<circle cx="1110.49" cy="423.88" r="2.75" fill="#E8AB35" stroke="#1a1a1a" stroke-width="0.55"/>
<circle cx="1136.90" cy="423.88" r="2.75" fill="#E8AB35" stroke="#1a1a1a" stroke-width="0.55"/>
<circle cx="1208.38" cy="420.15" r="2.75" fill="#E8AB35" stroke="#1a1a1a" stroke-width="0.55"/>
<circle cx="1213.92" cy="419.46" r="2.75" fill="#E8AB35" stroke="#1a1a1a" stroke-width="0.55"/>
<circle cx="1220.14" cy="420.56" r="2.75" fill="#E8AB35" stroke="#1a1a1a" stroke-width="0.55"/>
<circle cx="1225.67" cy="419.73" r="2.75" fill="#E8AB35" stroke="#1a1a1a" stroke-width="0.55"/>
<circle cx="1231.20" cy="418.77" r="2.75" fill="#E8AB35" stroke="#1a1a1a" stroke-width="0.55"/>
<circle cx="1234.93" cy="422.91" r="2.75" fill="#E8AB35" stroke="#1a1a1a" stroke-width="0.55"/>
<circle cx="1208.38" cy="424.30" r="2.75" fill="#E8AB35" stroke="#1a1a1a" stroke-width="0.55"/>
<circle cx="1215.30" cy="424.99" r="2.75" fill="#E8AB35" stroke="#1a1a1a" stroke-width="0.55"/>
<circle cx="1221.11" cy="427.06" r="2.75" fill="#E8AB35" stroke="#1a1a1a" stroke-width="0.55"/>
<circle cx="1227.05" cy="424.99" r="2.75" fill="#E8AB35" stroke="#1a1a1a" stroke-width="0.55"/>
<circle cx="1231.89" cy="426.10" r="2.75" fill="#E8AB35" stroke="#1a1a1a" stroke-width="0.55"/>
<circle cx="1235.35" cy="420.84" r="2.75" fill="#E8AB35" stroke="#1a1a1a" stroke-width="0.55"/>
<circle cx="1208.11" cy="422.22" r="2.75" fill="#E8AB35" stroke="#1a1a1a" stroke-width="0.55"/>
<circle cx="1211.15" cy="426.10" r="2.75" fill="#E8AB35" stroke="#1a1a1a" stroke-width="0.55"/>
<circle cx="1234.93" cy="424.99" r="2.75" fill="#E8AB35" stroke="#1a1a1a" stroke-width="0.55"/>
<circle cx="1217.37" cy="422.91" r="2.75" fill="#E8AB35" stroke="#1a1a1a" stroke-width="0.55"/>
<circle cx="1223.60" cy="423.33" r="2.75" fill="#E8AB35" stroke="#1a1a1a" stroke-width="0.55"/>
<circle cx="1229.13" cy="422.50" r="2.75" fill="#E8AB35" stroke="#1a1a1a" stroke-width="0.55"/>
<circle cx="1317.92" cy="413.24" r="2.75" fill="#E8AB35" stroke="#1a1a1a" stroke-width="0.55"/>
<circle cx="1307.69" cy="415.31" r="2.75" fill="#E8AB35" stroke="#1a1a1a" stroke-width="0.55"/>
<circle cx="1324.56" cy="416.00" r="2.75" fill="#E8AB35" stroke="#1a1a1a" stroke-width="0.55"/>
<circle cx="1332.58" cy="415.03" r="2.75" fill="#E8AB35" stroke="#1a1a1a" stroke-width="0.55"/>
<circle cx="1311.84" cy="419.46" r="2.75" fill="#E8AB35" stroke="#1a1a1a" stroke-width="0.55"/>
<circle cx="1319.72" cy="419.73" r="2.75" fill="#E8AB35" stroke="#1a1a1a" stroke-width="0.55"/>
<circle cx="1327.32" cy="420.84" r="2.75" fill="#E8AB35" stroke="#1a1a1a" stroke-width="0.55"/>
<circle cx="1332.58" cy="420.84" r="2.75" fill="#E8AB35" stroke="#1a1a1a" stroke-width="0.55"/>
<circle cx="1306.58" cy="419.46" r="2.75" fill="#E8AB35" stroke="#1a1a1a" stroke-width="0.55"/>
<circle cx="1307.69" cy="423.61" r="2.75" fill="#E8AB35" stroke="#1a1a1a" stroke-width="0.55"/>
<circle cx="1313.77" cy="424.71" r="2.75" fill="#E8AB35" stroke="#1a1a1a" stroke-width="0.55"/>
<circle cx="1319.72" cy="426.37" r="2.75" fill="#E8AB35" stroke="#1a1a1a" stroke-width="0.55"/>
<circle cx="1325.25" cy="424.30" r="2.75" fill="#E8AB35" stroke="#1a1a1a" stroke-width="0.55"/>
<circle cx="1330.78" cy="423.88" r="2.75" fill="#E8AB35" stroke="#1a1a1a" stroke-width="0.55"/>
<circle cx="1306.58" cy="417.38" r="2.75" fill="#E8AB35" stroke="#1a1a1a" stroke-width="0.55"/>
<circle cx="1306.58" cy="421.53" r="2.75" fill="#E8AB35" stroke="#1a1a1a" stroke-width="0.55"/>
<circle cx="1332.85" cy="418.08" r="2.75" fill="#E8AB35" stroke="#1a1a1a" stroke-width="0.55"/>
<circle cx="1332.85" cy="422.91" r="2.75" fill="#E8AB35" stroke="#1a1a1a" stroke-width="0.55"/>
<circle cx="1417.48" cy="400.38" r="2.75" fill="#E8AB35" stroke="#1a1a1a" stroke-width="0.55"/>
<circle cx="1404.76" cy="403.97" r="2.75" fill="#E8AB35" stroke="#1a1a1a" stroke-width="0.55"/>
<circle cx="1410.29" cy="404.94" r="2.75" fill="#E8AB35" stroke="#1a1a1a" stroke-width="0.55"/>
<circle cx="1415.82" cy="406.32" r="2.75" fill="#E8AB35" stroke="#1a1a1a" stroke-width="0.55"/>
<circle cx="1425.50" cy="405.35" r="2.75" fill="#E8AB35" stroke="#1a1a1a" stroke-width="0.55"/>
<circle cx="1407.52" cy="411.16" r="2.75" fill="#E8AB35" stroke="#1a1a1a" stroke-width="0.55"/>
<circle cx="1417.89" cy="412.27" r="2.75" fill="#E8AB35" stroke="#1a1a1a" stroke-width="0.55"/>
<circle cx="1423.42" cy="411.44" r="2.75" fill="#E8AB35" stroke="#1a1a1a" stroke-width="0.55"/>
<circle cx="1404.76" cy="416.42" r="2.75" fill="#E8AB35" stroke="#1a1a1a" stroke-width="0.55"/>
<circle cx="1410.98" cy="416.00" r="2.75" fill="#E8AB35" stroke="#1a1a1a" stroke-width="0.55"/>
<circle cx="1431.03" cy="416.42" r="2.75" fill="#E8AB35" stroke="#1a1a1a" stroke-width="0.55"/>
<circle cx="1406.42" cy="420.15" r="2.75" fill="#E8AB35" stroke="#1a1a1a" stroke-width="0.55"/>
<circle cx="1411.67" cy="420.84" r="2.75" fill="#E8AB35" stroke="#1a1a1a" stroke-width="0.55"/>
<circle cx="1417.89" cy="419.18" r="2.75" fill="#E8AB35" stroke="#1a1a1a" stroke-width="0.55"/>
<circle cx="1423.42" cy="419.46" r="2.75" fill="#E8AB35" stroke="#1a1a1a" stroke-width="0.55"/>
<circle cx="1428.95" cy="420.15" r="2.75" fill="#E8AB35" stroke="#1a1a1a" stroke-width="0.55"/>
<circle cx="1417.89" cy="424.30" r="2.75" fill="#E8AB35" stroke="#1a1a1a" stroke-width="0.55"/>
<circle cx="1413.05" cy="423.88" r="2.75" fill="#E8AB35" stroke="#1a1a1a" stroke-width="0.55"/>
<circle cx="1423.01" cy="423.33" r="2.75" fill="#E8AB35" stroke="#1a1a1a" stroke-width="0.55"/>
<circle cx="1149.89" cy="404.94" r="2.75" fill="#0B8BD9" stroke="#1a1a1a" stroke-width="0.55"/>
<circle cx="1137.17" cy="413.93" r="2.75" fill="#0B8BD9" stroke="#1a1a1a" stroke-width="0.55"/>
<circle cx="1148.24" cy="413.24" r="2.75" fill="#0B8BD9" stroke="#1a1a1a" stroke-width="0.55"/>
<circle cx="1153.77" cy="411.16" r="2.75" fill="#0B8BD9" stroke="#1a1a1a" stroke-width="0.55"/>
<circle cx="1142.01" cy="415.31" r="2.75" fill="#0B8BD9" stroke="#1a1a1a" stroke-width="0.55"/>
<circle cx="1161.37" cy="414.62" r="2.75" fill="#0B8BD9" stroke="#1a1a1a" stroke-width="0.55"/>
<circle cx="1143.40" cy="419.18" r="2.75" fill="#0B8BD9" stroke="#1a1a1a" stroke-width="0.55"/>
<circle cx="1149.62" cy="419.73" r="2.75" fill="#0B8BD9" stroke="#1a1a1a" stroke-width="0.55"/>
<circle cx="1155.43" cy="418.77" r="2.75" fill="#0B8BD9" stroke="#1a1a1a" stroke-width="0.55"/>
<circle cx="1137.87" cy="417.38" r="2.75" fill="#0B8BD9" stroke="#1a1a1a" stroke-width="0.55"/>
<circle cx="1159.99" cy="418.08" r="2.75" fill="#0B8BD9" stroke="#1a1a1a" stroke-width="0.55"/>
<circle cx="1136.48" cy="415.59" r="2.75" fill="#0B8BD9" stroke="#1a1a1a" stroke-width="0.55"/>
<circle cx="1162.06" cy="416.42" r="2.75" fill="#0B8BD9" stroke="#1a1a1a" stroke-width="0.55"/>
<circle cx="1247.79" cy="385.58" r="2.75" fill="#0B8BD9" stroke="#1a1a1a" stroke-width="0.55"/>
<circle cx="1254.02" cy="397.33" r="2.75" fill="#0B8BD9" stroke="#1a1a1a" stroke-width="0.55"/>
<circle cx="1237.15" cy="402.87" r="2.75" fill="#0B8BD9" stroke="#1a1a1a" stroke-width="0.55"/>
<circle cx="1242.95" cy="402.87" r="2.75" fill="#0B8BD9" stroke="#1a1a1a" stroke-width="0.55"/>
<circle cx="1249.18" cy="400.79" r="2.75" fill="#0B8BD9" stroke="#1a1a1a" stroke-width="0.55"/>
<circle cx="1259.55" cy="402.87" r="2.75" fill="#0B8BD9" stroke="#1a1a1a" stroke-width="0.55"/>
<circle cx="1234.66" cy="407.70" r="2.75" fill="#0B8BD9" stroke="#1a1a1a" stroke-width="0.55"/>
<circle cx="1241.29" cy="407.70" r="2.75" fill="#0B8BD9" stroke="#1a1a1a" stroke-width="0.55"/>
<circle cx="1247.10" cy="406.74" r="2.75" fill="#0B8BD9" stroke="#1a1a1a" stroke-width="0.55"/>
<circle cx="1255.67" cy="405.35" r="2.75" fill="#0B8BD9" stroke="#1a1a1a" stroke-width="0.55"/>
<circle cx="1260.93" cy="406.32" r="2.75" fill="#0B8BD9" stroke="#1a1a1a" stroke-width="0.55"/>
<circle cx="1236.04" cy="411.16" r="2.75" fill="#0B8BD9" stroke="#1a1a1a" stroke-width="0.55"/>
<circle cx="1242.26" cy="411.16" r="2.75" fill="#0B8BD9" stroke="#1a1a1a" stroke-width="0.55"/>
<circle cx="1247.79" cy="413.24" r="2.75" fill="#0B8BD9" stroke="#1a1a1a" stroke-width="0.55"/>
<circle cx="1253.32" cy="411.16" r="2.75" fill="#0B8BD9" stroke="#1a1a1a" stroke-width="0.55"/>
<circle cx="1258.86" cy="411.16" r="2.75" fill="#0B8BD9" stroke="#1a1a1a" stroke-width="0.55"/>
<circle cx="1261.62" cy="408.40" r="2.75" fill="#0B8BD9" stroke="#1a1a1a" stroke-width="0.55"/>
<circle cx="1345.99" cy="371.75" r="2.75" fill="#0B8BD9" stroke="#1a1a1a" stroke-width="0.55"/>
<circle cx="1335.62" cy="377.70" r="2.75" fill="#0B8BD9" stroke="#1a1a1a" stroke-width="0.55"/>
<circle cx="1340.46" cy="381.43" r="2.75" fill="#0B8BD9" stroke="#1a1a1a" stroke-width="0.55"/>
<circle cx="1345.99" cy="382.12" r="2.75" fill="#0B8BD9" stroke="#1a1a1a" stroke-width="0.55"/>
<circle cx="1351.94" cy="380.74" r="2.75" fill="#0B8BD9" stroke="#1a1a1a" stroke-width="0.55"/>
<circle cx="1342.53" cy="386.96" r="2.75" fill="#0B8BD9" stroke="#1a1a1a" stroke-width="0.55"/>
<circle cx="1358.43" cy="386.55" r="2.75" fill="#0B8BD9" stroke="#1a1a1a" stroke-width="0.55"/>
<circle cx="1333.96" cy="389.31" r="2.75" fill="#0B8BD9" stroke="#1a1a1a" stroke-width="0.55"/>
<circle cx="1350.83" cy="389.73" r="2.75" fill="#0B8BD9" stroke="#1a1a1a" stroke-width="0.55"/>
<circle cx="1356.36" cy="391.11" r="2.75" fill="#0B8BD9" stroke="#1a1a1a" stroke-width="0.55"/>
<circle cx="1339.49" cy="392.49" r="2.75" fill="#0B8BD9" stroke="#1a1a1a" stroke-width="0.55"/>
<circle cx="1345.99" cy="392.91" r="2.75" fill="#0B8BD9" stroke="#1a1a1a" stroke-width="0.55"/>
<circle cx="1332.16" cy="393.88" r="2.75" fill="#0B8BD9" stroke="#1a1a1a" stroke-width="0.55"/>
<circle cx="1359.13" cy="394.29" r="2.75" fill="#0B8BD9" stroke="#1a1a1a" stroke-width="0.55"/>
<circle cx="1336.31" cy="396.64" r="2.75" fill="#0B8BD9" stroke="#1a1a1a" stroke-width="0.55"/>
<circle cx="1341.84" cy="397.61" r="2.75" fill="#0B8BD9" stroke="#1a1a1a" stroke-width="0.55"/>
<circle cx="1350.14" cy="397.33" r="2.75" fill="#0B8BD9" stroke="#1a1a1a" stroke-width="0.55"/>
<circle cx="1355.67" cy="397.06" r="2.75" fill="#0B8BD9" stroke="#1a1a1a" stroke-width="0.55"/>
<circle cx="1345.99" cy="401.48" r="2.75" fill="#0B8BD9" stroke="#1a1a1a" stroke-width="0.55"/>
<circle cx="1441.81" cy="366.64" r="2.75" fill="#0B8BD9" stroke="#1a1a1a" stroke-width="0.55"/>
<circle cx="1443.89" cy="372.17" r="2.75" fill="#0B8BD9" stroke="#1a1a1a" stroke-width="0.55"/>
<circle cx="1345.99" cy="350.15" r="2.75" fill="#0B8BD9" stroke="#1a1a1a" stroke-width="0.55"/>
<circle cx="1443.89" cy="300.37" r="2.75" fill="#0B8BD9" stroke="#1a1a1a" stroke-width="0.55"/>
<circle cx="1443.89" cy="312.82" r="2.75" fill="#0B8BD9" stroke="#1a1a1a" stroke-width="0.55"/>
<circle cx="1443.89" cy="319.31" r="2.75" fill="#0B8BD9" stroke="#1a1a1a" stroke-width="0.55"/>
<circle cx="1449.00" cy="322.49" r="2.75" fill="#0B8BD9" stroke="#1a1a1a" stroke-width="0.55"/>
<circle cx="1443.89" cy="326.23" r="2.75" fill="#0B8BD9" stroke="#1a1a1a" stroke-width="0.55"/>
<circle cx="1443.89" cy="337.01" r="2.75" fill="#0B8BD9" stroke="#1a1a1a" stroke-width="0.55"/>
<circle cx="1451.36" cy="335.35" r="2.75" fill="#0B8BD9" stroke="#1a1a1a" stroke-width="0.55"/>
<circle cx="1437.94" cy="341.44" r="2.75" fill="#0B8BD9" stroke="#1a1a1a" stroke-width="0.55"/>
<circle cx="1449.70" cy="341.85" r="2.75" fill="#0B8BD9" stroke="#1a1a1a" stroke-width="0.55"/>
<circle cx="1444.86" cy="344.62" r="2.75" fill="#0B8BD9" stroke="#1a1a1a" stroke-width="0.55"/>
<circle cx="1433.79" cy="346.97" r="2.75" fill="#0B8BD9" stroke="#1a1a1a" stroke-width="0.55"/>
<circle cx="1439.74" cy="347.38" r="2.75" fill="#0B8BD9" stroke="#1a1a1a" stroke-width="0.55"/>
<circle cx="1443.89" cy="351.53" r="2.75" fill="#0B8BD9" stroke="#1a1a1a" stroke-width="0.55"/>
<circle cx="1449.70" cy="350.56" r="2.75" fill="#0B8BD9" stroke="#1a1a1a" stroke-width="0.55"/>
<circle cx="1441.40" cy="358.45" r="2.75" fill="#0B8BD9" stroke="#1a1a1a" stroke-width="0.55"/>
<circle cx="1450.11" cy="358.45" r="2.75" fill="#0B8BD9" stroke="#1a1a1a" stroke-width="0.55"/>
<circle cx="1445.82" cy="362.59" r="2.75" fill="#0B8BD9" stroke="#1a1a1a" stroke-width="0.55"/>
<circle cx="1443.89" cy="254.41" r="2.75" fill="#0B8BD9" stroke="#1a1a1a" stroke-width="0.55"/>
<circle cx="1175.89" cy="368.30" r="2.75" fill="#F8502F" stroke="#1a1a1a" stroke-width="0.55"/>
<circle cx="1175.89" cy="376.32" r="2.75" fill="#F8502F" stroke="#1a1a1a" stroke-width="0.55"/>
<circle cx="1175.89" cy="390.14" r="2.75" fill="#F8502F" stroke="#1a1a1a" stroke-width="0.55"/>
<circle cx="1165.24" cy="402.87" r="2.75" fill="#F8502F" stroke="#1a1a1a" stroke-width="0.55"/>
<circle cx="1170.77" cy="403.97" r="2.75" fill="#F8502F" stroke="#1a1a1a" stroke-width="0.55"/>
<circle cx="1186.26" cy="401.21" r="2.75" fill="#F8502F" stroke="#1a1a1a" stroke-width="0.55"/>
<circle cx="1181.42" cy="404.94" r="2.75" fill="#F8502F" stroke="#1a1a1a" stroke-width="0.55"/>
<circle cx="1175.89" cy="406.74" r="2.75" fill="#F8502F" stroke="#1a1a1a" stroke-width="0.55"/>
<circle cx="1162.75" cy="410.47" r="2.75" fill="#F8502F" stroke="#1a1a1a" stroke-width="0.55"/>
<circle cx="1166.90" cy="412.54" r="2.75" fill="#F8502F" stroke="#1a1a1a" stroke-width="0.55"/>
<circle cx="1170.36" cy="412.96" r="2.75" fill="#F8502F" stroke="#1a1a1a" stroke-width="0.55"/>
<circle cx="1175.89" cy="413.24" r="2.75" fill="#F8502F" stroke="#1a1a1a" stroke-width="0.55"/>
<circle cx="1181.42" cy="412.96" r="2.75" fill="#F8502F" stroke="#1a1a1a" stroke-width="0.55"/>
<circle cx="1187.37" cy="411.44" r="2.75" fill="#F8502F" stroke="#1a1a1a" stroke-width="0.55"/>
<circle cx="1164.83" cy="419.18" r="2.75" fill="#F8502F" stroke="#1a1a1a" stroke-width="0.55"/>
<circle cx="1170.36" cy="420.56" r="2.75" fill="#F8502F" stroke="#1a1a1a" stroke-width="0.55"/>
<circle cx="1175.89" cy="422.50" r="2.75" fill="#F8502F" stroke="#1a1a1a" stroke-width="0.55"/>
<circle cx="1181.42" cy="420.56" r="2.75" fill="#F8502F" stroke="#1a1a1a" stroke-width="0.55"/>
<circle cx="1185.57" cy="419.73" r="2.75" fill="#F8502F" stroke="#1a1a1a" stroke-width="0.55"/>
<circle cx="1189.03" cy="417.38" r="2.75" fill="#F8502F" stroke="#1a1a1a" stroke-width="0.55"/>
<circle cx="1274.07" cy="364.15" r="2.75" fill="#F8502F" stroke="#1a1a1a" stroke-width="0.55"/>
<circle cx="1267.84" cy="378.25" r="2.75" fill="#F8502F" stroke="#1a1a1a" stroke-width="0.55"/>
<circle cx="1271.30" cy="383.51" r="2.75" fill="#F8502F" stroke="#1a1a1a" stroke-width="0.55"/>
<circle cx="1277.25" cy="383.78" r="2.75" fill="#F8502F" stroke="#1a1a1a" stroke-width="0.55"/>
<circle cx="1267.84" cy="389.04" r="2.75" fill="#F8502F" stroke="#1a1a1a" stroke-width="0.55"/>
<circle cx="1274.07" cy="389.04" r="2.75" fill="#F8502F" stroke="#1a1a1a" stroke-width="0.55"/>
<circle cx="1271.30" cy="397.06" r="2.75" fill="#F8502F" stroke="#1a1a1a" stroke-width="0.55"/>
<circle cx="1284.71" cy="398.03" r="2.75" fill="#F8502F" stroke="#1a1a1a" stroke-width="0.55"/>
<circle cx="1263.00" cy="400.38" r="2.75" fill="#F8502F" stroke="#1a1a1a" stroke-width="0.55"/>
<circle cx="1267.84" cy="401.48" r="2.75" fill="#F8502F" stroke="#1a1a1a" stroke-width="0.55"/>
<circle cx="1274.07" cy="402.17" r="2.75" fill="#F8502F" stroke="#1a1a1a" stroke-width="0.55"/>
<circle cx="1279.60" cy="401.07" r="2.75" fill="#F8502F" stroke="#1a1a1a" stroke-width="0.55"/>
<circle cx="1268.53" cy="409.09" r="2.75" fill="#F8502F" stroke="#1a1a1a" stroke-width="0.55"/>
<circle cx="1274.07" cy="411.85" r="2.75" fill="#F8502F" stroke="#1a1a1a" stroke-width="0.55"/>
<circle cx="1263.00" cy="412.82" r="2.75" fill="#F8502F" stroke="#1a1a1a" stroke-width="0.55"/>
<circle cx="1267.84" cy="416.00" r="2.75" fill="#F8502F" stroke="#1a1a1a" stroke-width="0.55"/>
<circle cx="1279.60" cy="416.00" r="2.75" fill="#F8502F" stroke="#1a1a1a" stroke-width="0.55"/>
<circle cx="1274.07" cy="417.80" r="2.75" fill="#F8502F" stroke="#1a1a1a" stroke-width="0.55"/>
<circle cx="1366.04" cy="376.32" r="2.75" fill="#F8502F" stroke="#1a1a1a" stroke-width="0.55"/>
<circle cx="1371.85" cy="377.28" r="2.75" fill="#F8502F" stroke="#1a1a1a" stroke-width="0.55"/>
<circle cx="1377.52" cy="374.52" r="2.75" fill="#F8502F" stroke="#1a1a1a" stroke-width="0.55"/>
<circle cx="1366.04" cy="383.51" r="2.75" fill="#F8502F" stroke="#1a1a1a" stroke-width="0.55"/>
<circle cx="1371.85" cy="384.89" r="2.75" fill="#F8502F" stroke="#1a1a1a" stroke-width="0.55"/>
<circle cx="1377.52" cy="382.12" r="2.75" fill="#F8502F" stroke="#1a1a1a" stroke-width="0.55"/>
<circle cx="1371.85" cy="394.57" r="2.75" fill="#F8502F" stroke="#1a1a1a" stroke-width="0.55"/>
<circle cx="1366.73" cy="398.03" r="2.75" fill="#F8502F" stroke="#1a1a1a" stroke-width="0.55"/>
<circle cx="1371.85" cy="401.07" r="2.75" fill="#F8502F" stroke="#1a1a1a" stroke-width="0.55"/>
<circle cx="1366.04" cy="408.12" r="2.75" fill="#F8502F" stroke="#1a1a1a" stroke-width="0.55"/>
<circle cx="1371.85" cy="409.09" r="2.75" fill="#F8502F" stroke="#1a1a1a" stroke-width="0.55"/>
<circle cx="1377.10" cy="406.74" r="2.75" fill="#F8502F" stroke="#1a1a1a" stroke-width="0.55"/>
<circle cx="1470.02" cy="362.07" r="2.75" fill="#F8502F" stroke="#1a1a1a" stroke-width="0.55"/>
<circle cx="1470.02" cy="368.99" r="2.75" fill="#F8502F" stroke="#1a1a1a" stroke-width="0.55"/>
<circle cx="1464.21" cy="389.04" r="2.75" fill="#F8502F" stroke="#1a1a1a" stroke-width="0.55"/>
<circle cx="1470.02" cy="390.14" r="2.75" fill="#F8502F" stroke="#1a1a1a" stroke-width="0.55"/>
<circle cx="1473.89" cy="386.00" r="2.75" fill="#F8502F" stroke="#1a1a1a" stroke-width="0.55"/>
<circle cx="1273.81" cy="326.23" r="2.75" fill="#F8502F" stroke="#1a1a1a" stroke-width="0.55"/>
<circle cx="1273.81" cy="336.32" r="2.75" fill="#F8502F" stroke="#1a1a1a" stroke-width="0.55"/>
<circle cx="1371.85" cy="322.08" r="2.75" fill="#F8502F" stroke="#1a1a1a" stroke-width="0.55"/>
<circle cx="1371.85" cy="338.40" r="2.75" fill="#F8502F" stroke="#1a1a1a" stroke-width="0.55"/>
<circle cx="1366.04" cy="350.43" r="2.75" fill="#F8502F" stroke="#1a1a1a" stroke-width="0.55"/>
<circle cx="1372.26" cy="351.12" r="2.75" fill="#F8502F" stroke="#1a1a1a" stroke-width="0.55"/>
<circle cx="1368.53" cy="357.75" r="2.75" fill="#F8502F" stroke="#1a1a1a" stroke-width="0.55"/>
<circle cx="1372.26" cy="362.18" r="2.75" fill="#F8502F" stroke="#1a1a1a" stroke-width="0.55"/>
<circle cx="1470.02" cy="303.55" r="2.75" fill="#F8502F" stroke="#1a1a1a" stroke-width="0.55"/>
<circle cx="1470.02" cy="317.65" r="2.75" fill="#F8502F" stroke="#1a1a1a" stroke-width="0.55"/>
<circle cx="1464.21" cy="324.85" r="2.75" fill="#F8502F" stroke="#1a1a1a" stroke-width="0.55"/>
<circle cx="1470.02" cy="325.26" r="2.75" fill="#F8502F" stroke="#1a1a1a" stroke-width="0.55"/>
<circle cx="1465.32" cy="341.16" r="2.75" fill="#F8502F" stroke="#1a1a1a" stroke-width="0.55"/>
<circle cx="1474.31" cy="339.78" r="2.75" fill="#F8502F" stroke="#1a1a1a" stroke-width="0.55"/>
<circle cx="1470.02" cy="344.34" r="2.75" fill="#F8502F" stroke="#1a1a1a" stroke-width="0.55"/>
<circle cx="1470.02" cy="354.71" r="2.75" fill="#F8502F" stroke="#1a1a1a" stroke-width="0.55"/>
<circle cx="1371.85" cy="258.14" r="2.75" fill="#F8502F" stroke="#1a1a1a" stroke-width="0.55"/>
<circle cx="1371.85" cy="270.03" r="2.75" fill="#F8502F" stroke="#1a1a1a" stroke-width="0.55"/>
<circle cx="1470.02" cy="227.44" r="2.75" fill="#F8502F" stroke="#1a1a1a" stroke-width="0.55"/>
<circle cx="1470.02" cy="237.82" r="2.75" fill="#F8502F" stroke="#1a1a1a" stroke-width="0.55"/>
<circle cx="1470.02" cy="271.69" r="2.75" fill="#F8502F" stroke="#1a1a1a" stroke-width="0.55"/>
<circle cx="1465.60" cy="275.84" r="2.75" fill="#F8502F" stroke="#1a1a1a" stroke-width="0.55"/>
<circle cx="1470.02" cy="279.71" r="2.75" fill="#F8502F" stroke="#1a1a1a" stroke-width="0.55"/>
<circle cx="1470.00" cy="101.50" r="2.75" fill="#F8502F" stroke="#1a1a1a" stroke-width="0.55"/>
<circle cx="1470.00" cy="118.80" r="2.75" fill="#F8502F" stroke="#1a1a1a" stroke-width="0.55"/>
<rect x="1100.90" y="87.40" width="392.10" height="342.00" stroke="#161616" stroke-width="1.3" fill="none" />
<text x="1095.60" y="138.58" font-size="15.5" text-anchor="end" fill="#000">60</text>
<text x="1095.60" y="188.08" font-size="15.5" text-anchor="end" fill="#000">50</text>
<text x="1095.60" y="237.28" font-size="15.5" text-anchor="end" fill="#000">40</text>
<text x="1095.60" y="286.38" font-size="15.5" text-anchor="end" fill="#000">30</text>
<text x="1095.60" y="335.58" font-size="15.5" text-anchor="end" fill="#000">20</text>
<text x="1095.60" y="383.88" font-size="15.5" text-anchor="end" fill="#000">1<tspan dx="-1.3">0</tspan></text>
<text x="1095.60" y="426.78" font-size="15.5" text-anchor="end" fill="#000">0</text>
<text x="1068.30" y="273.00" font-size="23.2" text-anchor="middle" fill="#000" transform="rotate(-90 1068.30 273.00)">Mean N of contacts/10-kb bin, top-20 cells</text>
<text x="1151.00" y="448.00" font-size="15.5" text-anchor="middle" fill="#000">1<tspan dx="-1.3">0</tspan></text>
<text x="1248.50" y="448.00" font-size="15.5" text-anchor="middle" fill="#000">20</text>
<text x="1346.00" y="448.00" font-size="15.5" text-anchor="middle" fill="#000">40</text>
<text x="1445.60" y="448.00" font-size="15.5" text-anchor="middle" fill="#000">1<tspan dx="-1.3">00</tspan></text>
<text x="1297.00" y="479.00" font-size="23.35" text-anchor="middle" fill="#000">Resolution of snHi-C map (kb)</text>
<line x1="50.40" y1="520.90" x2="1492.90" y2="520.90" stroke="#000" stroke-width="1.6" />
<line x1="50.40" y1="555.90" x2="1492.90" y2="555.90" stroke="#000" stroke-width="1.6" />
<circle cx="345.80" cy="539.10" r="7.30" fill="#E8AB35" stroke="#222" stroke-width="1.1"/>
<text x="360.00" y="546.40" font-size="19.4" text-anchor="start" fill="#000">Gassler et al. 2017, mouse</text>
<circle cx="661.70" cy="539.10" r="7.30" fill="#0B8BD9" stroke="#222" stroke-width="1.1"/>
<text x="676.00" y="546.40" font-size="19.4" text-anchor="start" fill="#000">Flyamer et al. 2017, mouse</text>
<circle cx="985.30" cy="539.10" r="7.30" fill="#F8502F" stroke="#222" stroke-width="1.1"/>
<text x="1002.00" y="546.40" font-size="19.4" text-anchor="start" fill="#000">This work, <tspan font-style="italic">Drosophila</tspan></text>
<rect x="1587.80" y="189.36" width="10.51" height="56.84" stroke="#000" stroke-width="1.3" fill="#3B77BC" />
<rect x="1598.31" y="201.54" width="10.51" height="44.66" stroke="#000" stroke-width="1.3" fill="#3B77BC" />
<rect x="1608.83" y="185.30" width="10.51" height="60.90" stroke="#000" stroke-width="1.3" fill="#3B77BC" />
<rect x="1619.34" y="156.88" width="10.51" height="89.32" stroke="#000" stroke-width="1.3" fill="#3B77BC" />
<rect x="1629.85" y="128.46" width="10.51" height="117.74" stroke="#000" stroke-width="1.3" fill="#3B77BC" />
<rect x="1640.37" y="173.12" width="10.51" height="73.08" stroke="#000" stroke-width="1.3" fill="#3B77BC" />
<rect x="1650.88" y="152.82" width="10.51" height="93.38" stroke="#000" stroke-width="1.3" fill="#3B77BC" />
<rect x="1661.39" y="152.82" width="10.51" height="93.38" stroke="#000" stroke-width="1.3" fill="#3B77BC" />
<rect x="1671.91" y="165.00" width="10.51" height="81.20" stroke="#000" stroke-width="1.3" fill="#3B77BC" />
<rect x="1682.42" y="181.24" width="10.51" height="64.96" stroke="#000" stroke-width="1.3" fill="#3B77BC" />
<rect x="1692.93" y="221.84" width="10.51" height="24.36" stroke="#000" stroke-width="1.3" fill="#3B77BC" />
<rect x="1703.44" y="229.96" width="10.51" height="16.24" stroke="#000" stroke-width="1.3" fill="#3B77BC" />
<rect x="1713.96" y="221.84" width="10.51" height="24.36" stroke="#000" stroke-width="1.3" fill="#3B77BC" />
<rect x="1724.47" y="242.14" width="10.51" height="4.06" stroke="#000" stroke-width="1.3" fill="#3B77BC" />
<rect x="1756.01" y="238.08" width="10.51" height="8.12" stroke="#000" stroke-width="1.3" fill="#3B77BC" />
<rect x="1766.52" y="242.14" width="10.51" height="4.06" stroke="#000" stroke-width="1.3" fill="#3B77BC" />
<polyline points="1597.17,238.26 1606.54,219.62 1615.91,186.83 1625.28,146.75 1634.65,112.94 1644.02,97.39 1653.39,103.77 1662.76,126.92 1672.13,157.40 1681.50,186.70 1690.87,209.96 1700.24,225.97 1709.61,235.77 1718.98,241.21 1728.35,243.97 1737.72,245.27" fill="none" stroke="#DC4F40" stroke-width="3.9" stroke-linejoin="round" stroke-linecap="butt"/>
<line x1="1587.80" y1="84.20" x2="1587.80" y2="86.80" stroke="#000" stroke-width="1.5" />
<line x1="1587.80" y1="246.20" x2="1587.80" y2="243.60" stroke="#000" stroke-width="1.5" />
<line x1="1606.54" y1="84.20" x2="1606.54" y2="86.80" stroke="#000" stroke-width="1.5" />
<line x1="1606.54" y1="246.20" x2="1606.54" y2="243.60" stroke="#000" stroke-width="1.5" />
<line x1="1625.28" y1="84.20" x2="1625.28" y2="86.80" stroke="#000" stroke-width="1.5" />
<line x1="1625.28" y1="246.20" x2="1625.28" y2="243.60" stroke="#000" stroke-width="1.5" />
<line x1="1644.02" y1="84.20" x2="1644.02" y2="86.80" stroke="#000" stroke-width="1.5" />
<line x1="1644.02" y1="246.20" x2="1644.02" y2="243.60" stroke="#000" stroke-width="1.5" />
<line x1="1662.76" y1="84.20" x2="1662.76" y2="86.80" stroke="#000" stroke-width="1.5" />
<line x1="1662.76" y1="246.20" x2="1662.76" y2="243.60" stroke="#000" stroke-width="1.5" />
<line x1="1681.50" y1="84.20" x2="1681.50" y2="86.80" stroke="#000" stroke-width="1.5" />
<line x1="1681.50" y1="246.20" x2="1681.50" y2="243.60" stroke="#000" stroke-width="1.5" />
<line x1="1700.24" y1="84.20" x2="1700.24" y2="86.80" stroke="#000" stroke-width="1.5" />
<line x1="1700.24" y1="246.20" x2="1700.24" y2="243.60" stroke="#000" stroke-width="1.5" />
<line x1="1718.98" y1="84.20" x2="1718.98" y2="86.80" stroke="#000" stroke-width="1.5" />
<line x1="1718.98" y1="246.20" x2="1718.98" y2="243.60" stroke="#000" stroke-width="1.5" />
<line x1="1737.72" y1="84.20" x2="1737.72" y2="86.80" stroke="#000" stroke-width="1.5" />
<line x1="1737.72" y1="246.20" x2="1737.72" y2="243.60" stroke="#000" stroke-width="1.5" />
<line x1="1756.46" y1="84.20" x2="1756.46" y2="86.80" stroke="#000" stroke-width="1.5" />
<line x1="1756.46" y1="246.20" x2="1756.46" y2="243.60" stroke="#000" stroke-width="1.5" />
<line x1="1775.20" y1="84.20" x2="1775.20" y2="86.80" stroke="#000" stroke-width="1.5" />
<line x1="1775.20" y1="246.20" x2="1775.20" y2="243.60" stroke="#000" stroke-width="1.5" />
<line x1="1579.70" y1="246.20" x2="1582.30" y2="246.20" stroke="#000" stroke-width="1.5" />
<line x1="1785.20" y1="246.20" x2="1782.60" y2="246.20" stroke="#000" stroke-width="1.5" />
<line x1="1579.70" y1="225.90" x2="1582.30" y2="225.90" stroke="#000" stroke-width="1.5" />
<line x1="1785.20" y1="225.90" x2="1782.60" y2="225.90" stroke="#000" stroke-width="1.5" />
<line x1="1579.70" y1="205.60" x2="1582.30" y2="205.60" stroke="#000" stroke-width="1.5" />
<line x1="1785.20" y1="205.60" x2="1782.60" y2="205.60" stroke="#000" stroke-width="1.5" />
<line x1="1579.70" y1="185.30" x2="1582.30" y2="185.30" stroke="#000" stroke-width="1.5" />
<line x1="1785.20" y1="185.30" x2="1782.60" y2="185.30" stroke="#000" stroke-width="1.5" />
<line x1="1579.70" y1="165.00" x2="1582.30" y2="165.00" stroke="#000" stroke-width="1.5" />
<line x1="1785.20" y1="165.00" x2="1782.60" y2="165.00" stroke="#000" stroke-width="1.5" />
<line x1="1579.70" y1="144.70" x2="1582.30" y2="144.70" stroke="#000" stroke-width="1.5" />
<line x1="1785.20" y1="144.70" x2="1782.60" y2="144.70" stroke="#000" stroke-width="1.5" />
<line x1="1579.70" y1="124.40" x2="1582.30" y2="124.40" stroke="#000" stroke-width="1.5" />
<line x1="1785.20" y1="124.40" x2="1782.60" y2="124.40" stroke="#000" stroke-width="1.5" />
<line x1="1579.70" y1="104.10" x2="1582.30" y2="104.10" stroke="#000" stroke-width="1.5" />
<line x1="1785.20" y1="104.10" x2="1782.60" y2="104.10" stroke="#000" stroke-width="1.5" />
<line x1="1579.70" y1="83.80" x2="1582.30" y2="83.80" stroke="#000" stroke-width="1.5" />
<line x1="1785.20" y1="83.80" x2="1782.60" y2="83.80" stroke="#000" stroke-width="1.5" />
<rect x="1579.70" y="84.20" width="205.50" height="162.00" stroke="#000" stroke-width="1.7" fill="none" />
<text x="1588.60" y="265.90" font-size="19.1" text-anchor="middle" fill="#000">0</text>
<text x="1626.08" y="265.90" font-size="19.1" text-anchor="middle" fill="#000">4</text>
<text x="1663.56" y="265.90" font-size="19.1" text-anchor="middle" fill="#000">8</text>
<text x="1701.04" y="265.90" font-size="19.1" text-anchor="middle" fill="#000">1<tspan dx="-1.3">2</tspan></text>
<text x="1738.52" y="265.90" font-size="19.1" text-anchor="middle" fill="#000">1<tspan dx="-1.3">6</tspan></text>
<text x="1776.00" y="265.90" font-size="19.1" text-anchor="middle" fill="#000">20</text>
<text x="1575.80" y="254.18" font-size="19.1" text-anchor="end" fill="#000">0</text>
<text x="1575.80" y="212.68" font-size="19.1" text-anchor="end" fill="#000">1<tspan dx="-1.3">0</tspan></text>
<text x="1575.80" y="172.08" font-size="19.1" text-anchor="end" fill="#000">20</text>
<text x="1575.80" y="131.48" font-size="19.1" text-anchor="end" fill="#000">30</text>
<text x="1575.80" y="90.88" font-size="19.1" text-anchor="end" fill="#000">40</text>
<text x="1681.50" y="78.40" font-size="23.7" text-anchor="middle" fill="#000">Cell 4, snHi-C</text>
<text x="1777.50" y="111.90" font-size="18.7" text-anchor="end" fill="#000"><tspan font-style="italic">P</tspan> = 10<tspan font-size="11.3" dy="-7">-14</tspan></text>
<text x="1709.00" y="163.60" font-size="17" text-anchor="start" fill="#DC4F40">Poisson</text>
<text x="1709.00" y="182.80" font-size="17" text-anchor="start" fill="#3B77BC">snHi-C</text>
<rect x="1830.12" y="228.44" width="14.07" height="17.96" stroke="#000" stroke-width="1.3" fill="#3B77BC" />
<rect x="1844.19" y="237.42" width="14.07" height="8.98" stroke="#000" stroke-width="1.3" fill="#3B77BC" />
<rect x="1858.27" y="201.50" width="14.07" height="44.90" stroke="#000" stroke-width="1.3" fill="#3B77BC" />
<rect x="1872.34" y="201.50" width="14.07" height="44.90" stroke="#000" stroke-width="1.3" fill="#3B77BC" />
<rect x="1886.41" y="183.54" width="14.07" height="62.86" stroke="#000" stroke-width="1.3" fill="#3B77BC" />
<rect x="1900.48" y="201.50" width="14.07" height="44.90" stroke="#000" stroke-width="1.3" fill="#3B77BC" />
<rect x="1914.55" y="192.52" width="14.07" height="53.88" stroke="#000" stroke-width="1.3" fill="#3B77BC" />
<rect x="1928.62" y="156.60" width="14.07" height="89.80" stroke="#000" stroke-width="1.3" fill="#3B77BC" />
<rect x="1942.70" y="201.50" width="14.07" height="44.90" stroke="#000" stroke-width="1.3" fill="#3B77BC" />
<rect x="1956.77" y="210.48" width="14.07" height="35.92" stroke="#000" stroke-width="1.3" fill="#3B77BC" />
<rect x="1970.84" y="237.42" width="14.07" height="8.98" stroke="#000" stroke-width="1.3" fill="#3B77BC" />
<rect x="1998.98" y="237.42" width="14.07" height="8.98" stroke="#000" stroke-width="1.3" fill="#3B77BC" />
<polyline points="1860.86,244.64 1863.68,243.39 1866.50,241.47 1869.32,238.63 1872.14,234.60 1874.96,229.12 1877.78,221.96 1880.60,213.00 1883.42,202.23 1886.24,189.81 1889.06,176.09 1891.88,161.61 1894.70,147.08 1897.52,133.28 1900.34,121.05 1903.16,111.16 1905.98,104.22 1908.80,100.67 1911.62,100.67 1914.44,104.14 1917.26,110.76 1920.08,120.00 1922.90,131.24 1925.72,143.76 1928.54,156.86 1931.36,169.92 1934.18,182.40 1937.00,193.92 1939.82,204.21 1942.64,213.14 1945.46,220.67 1948.28,226.86 1951.10,231.84 1953.92,235.74 1956.74,238.73 1959.56,240.98 1962.38,242.63 1965.20,243.83 1968.02,244.67 1970.84,245.26" fill="none" stroke="#DC4F40" stroke-width="3.9" stroke-linejoin="round" stroke-linecap="butt"/>
<line x1="1824.20" y1="83.80" x2="1824.20" y2="86.40" stroke="#000" stroke-width="1.5" />
<line x1="1824.20" y1="246.40" x2="1824.20" y2="243.80" stroke="#000" stroke-width="1.5" />
<line x1="1852.40" y1="83.80" x2="1852.40" y2="86.40" stroke="#000" stroke-width="1.5" />
<line x1="1852.40" y1="246.40" x2="1852.40" y2="243.80" stroke="#000" stroke-width="1.5" />
<line x1="1880.60" y1="83.80" x2="1880.60" y2="86.40" stroke="#000" stroke-width="1.5" />
<line x1="1880.60" y1="246.40" x2="1880.60" y2="243.80" stroke="#000" stroke-width="1.5" />
<line x1="1908.80" y1="83.80" x2="1908.80" y2="86.40" stroke="#000" stroke-width="1.5" />
<line x1="1908.80" y1="246.40" x2="1908.80" y2="243.80" stroke="#000" stroke-width="1.5" />
<line x1="1937.00" y1="83.80" x2="1937.00" y2="86.40" stroke="#000" stroke-width="1.5" />
<line x1="1937.00" y1="246.40" x2="1937.00" y2="243.80" stroke="#000" stroke-width="1.5" />
<line x1="1965.20" y1="83.80" x2="1965.20" y2="86.40" stroke="#000" stroke-width="1.5" />
<line x1="1965.20" y1="246.40" x2="1965.20" y2="243.80" stroke="#000" stroke-width="1.5" />
<line x1="1993.40" y1="83.80" x2="1993.40" y2="86.40" stroke="#000" stroke-width="1.5" />
<line x1="1993.40" y1="246.40" x2="1993.40" y2="243.80" stroke="#000" stroke-width="1.5" />
<line x1="2021.60" y1="83.80" x2="2021.60" y2="86.40" stroke="#000" stroke-width="1.5" />
<line x1="2021.60" y1="246.40" x2="2021.60" y2="243.80" stroke="#000" stroke-width="1.5" />
<line x1="1818.70" y1="246.40" x2="1821.30" y2="246.40" stroke="#000" stroke-width="1.5" />
<line x1="2024.60" y1="246.40" x2="2022.00" y2="246.40" stroke="#000" stroke-width="1.5" />
<line x1="1818.70" y1="228.44" x2="1821.30" y2="228.44" stroke="#000" stroke-width="1.5" />
<line x1="2024.60" y1="228.44" x2="2022.00" y2="228.44" stroke="#000" stroke-width="1.5" />
<line x1="1818.70" y1="210.48" x2="1821.30" y2="210.48" stroke="#000" stroke-width="1.5" />
<line x1="2024.60" y1="210.48" x2="2022.00" y2="210.48" stroke="#000" stroke-width="1.5" />
<line x1="1818.70" y1="192.52" x2="1821.30" y2="192.52" stroke="#000" stroke-width="1.5" />
<line x1="2024.60" y1="192.52" x2="2022.00" y2="192.52" stroke="#000" stroke-width="1.5" />
<line x1="1818.70" y1="174.56" x2="1821.30" y2="174.56" stroke="#000" stroke-width="1.5" />
<line x1="2024.60" y1="174.56" x2="2022.00" y2="174.56" stroke="#000" stroke-width="1.5" />
<line x1="1818.70" y1="156.60" x2="1821.30" y2="156.60" stroke="#000" stroke-width="1.5" />
<line x1="2024.60" y1="156.60" x2="2022.00" y2="156.60" stroke="#000" stroke-width="1.5" />
<line x1="1818.70" y1="138.64" x2="1821.30" y2="138.64" stroke="#000" stroke-width="1.5" />
<line x1="2024.60" y1="138.64" x2="2022.00" y2="138.64" stroke="#000" stroke-width="1.5" />
<line x1="1818.70" y1="120.68" x2="1821.30" y2="120.68" stroke="#000" stroke-width="1.5" />
<line x1="2024.60" y1="120.68" x2="2022.00" y2="120.68" stroke="#000" stroke-width="1.5" />
<line x1="1818.70" y1="102.72" x2="1821.30" y2="102.72" stroke="#000" stroke-width="1.5" />
<line x1="2024.60" y1="102.72" x2="2022.00" y2="102.72" stroke="#000" stroke-width="1.5" />
<rect x="1818.70" y="83.80" width="205.90" height="162.60" stroke="#000" stroke-width="1.7" fill="none" />
<text x="1825.80" y="265.60" font-size="19.1" text-anchor="middle" fill="#000">1<tspan dx="-1.3">0</tspan></text>
<text x="1882.20" y="265.60" font-size="19.1" text-anchor="middle" fill="#000">30</text>
<text x="1938.60" y="265.60" font-size="19.1" text-anchor="middle" fill="#000">50</text>
<text x="1995.00" y="265.60" font-size="19.1" text-anchor="middle" fill="#000">70</text>
<text x="1814.80" y="254.38" font-size="19.1" text-anchor="end" fill="#000">0</text>
<text x="1814.80" y="217.56" font-size="19.1" text-anchor="end" fill="#000">4</text>
<text x="1814.80" y="181.64" font-size="19.1" text-anchor="end" fill="#000">8</text>
<text x="1814.80" y="145.72" font-size="19.1" text-anchor="end" fill="#000">1<tspan dx="-1.3">2</tspan></text>
<text x="1814.80" y="109.80" font-size="19.1" text-anchor="end" fill="#000">1<tspan dx="-1.3">6</tspan></text>
<text x="1922.60" y="78.40" font-size="23.7" text-anchor="middle" fill="#000">Cell 6, snHi-C</text>
<text x="1825.00" y="112.00" font-size="18.7" text-anchor="start" fill="#000"><tspan font-style="italic">P</tspan> = 10<tspan font-size="11.3" dy="-7">-10</tspan></text>
<text x="1827.00" y="163.30" font-size="17" text-anchor="start" fill="#DC4F40">Poisson</text>
<text x="1827.00" y="182.50" font-size="17" text-anchor="start" fill="#3B77BC">snHi-C</text>
<rect x="1591.55" y="468.21" width="15.18" height="2.69" stroke="#000" stroke-width="1.3" fill="#3B77BC" />
<rect x="1606.72" y="465.52" width="15.18" height="5.38" stroke="#000" stroke-width="1.3" fill="#3B77BC" />
<rect x="1621.90" y="406.34" width="15.18" height="64.56" stroke="#000" stroke-width="1.3" fill="#3B77BC" />
<rect x="1637.08" y="400.96" width="15.18" height="69.94" stroke="#000" stroke-width="1.3" fill="#3B77BC" />
<rect x="1652.26" y="333.71" width="15.18" height="137.19" stroke="#000" stroke-width="1.3" fill="#3B77BC" />
<rect x="1667.44" y="363.30" width="15.18" height="107.60" stroke="#000" stroke-width="1.3" fill="#3B77BC" />
<rect x="1682.61" y="419.79" width="15.18" height="51.11" stroke="#000" stroke-width="1.3" fill="#3B77BC" />
<rect x="1697.79" y="387.51" width="15.18" height="83.39" stroke="#000" stroke-width="1.3" fill="#3B77BC" />
<rect x="1712.97" y="449.38" width="15.18" height="21.52" stroke="#000" stroke-width="1.3" fill="#3B77BC" />
<rect x="1728.15" y="454.76" width="15.18" height="16.14" stroke="#000" stroke-width="1.3" fill="#3B77BC" />
<rect x="1743.33" y="465.52" width="15.18" height="5.38" stroke="#000" stroke-width="1.3" fill="#3B77BC" />
<rect x="1758.51" y="468.21" width="15.18" height="2.69" stroke="#000" stroke-width="1.3" fill="#3B77BC" />
<polyline points="1603.08,467.57 1613.86,458.43 1624.64,439.73 1635.42,412.45 1646.20,383.22 1656.98,361.30 1667.76,353.48 1678.54,360.81 1689.32,379.16 1700.10,402.10 1710.88,423.99 1721.66,441.58 1732.44,453.98 1743.22,461.84 1754.00,466.37 1764.78,468.78 1775.56,469.96" fill="none" stroke="#DC4F40" stroke-width="3.9" stroke-linejoin="round" stroke-linecap="butt"/>
<line x1="1592.30" y1="309.90" x2="1592.30" y2="312.50" stroke="#000" stroke-width="1.5" />
<line x1="1592.30" y1="470.90" x2="1592.30" y2="468.30" stroke="#000" stroke-width="1.5" />
<line x1="1613.86" y1="309.90" x2="1613.86" y2="312.50" stroke="#000" stroke-width="1.5" />
<line x1="1613.86" y1="470.90" x2="1613.86" y2="468.30" stroke="#000" stroke-width="1.5" />
<line x1="1635.42" y1="309.90" x2="1635.42" y2="312.50" stroke="#000" stroke-width="1.5" />
<line x1="1635.42" y1="470.90" x2="1635.42" y2="468.30" stroke="#000" stroke-width="1.5" />
<line x1="1656.98" y1="309.90" x2="1656.98" y2="312.50" stroke="#000" stroke-width="1.5" />
<line x1="1656.98" y1="470.90" x2="1656.98" y2="468.30" stroke="#000" stroke-width="1.5" />
<line x1="1678.54" y1="309.90" x2="1678.54" y2="312.50" stroke="#000" stroke-width="1.5" />
<line x1="1678.54" y1="470.90" x2="1678.54" y2="468.30" stroke="#000" stroke-width="1.5" />
<line x1="1700.10" y1="309.90" x2="1700.10" y2="312.50" stroke="#000" stroke-width="1.5" />
<line x1="1700.10" y1="470.90" x2="1700.10" y2="468.30" stroke="#000" stroke-width="1.5" />
<line x1="1721.66" y1="309.90" x2="1721.66" y2="312.50" stroke="#000" stroke-width="1.5" />
<line x1="1721.66" y1="470.90" x2="1721.66" y2="468.30" stroke="#000" stroke-width="1.5" />
<line x1="1743.22" y1="309.90" x2="1743.22" y2="312.50" stroke="#000" stroke-width="1.5" />
<line x1="1743.22" y1="470.90" x2="1743.22" y2="468.30" stroke="#000" stroke-width="1.5" />
<line x1="1764.78" y1="309.90" x2="1764.78" y2="312.50" stroke="#000" stroke-width="1.5" />
<line x1="1764.78" y1="470.90" x2="1764.78" y2="468.30" stroke="#000" stroke-width="1.5" />
<line x1="1579.70" y1="470.90" x2="1582.30" y2="470.90" stroke="#000" stroke-width="1.5" />
<line x1="1785.20" y1="470.90" x2="1782.60" y2="470.90" stroke="#000" stroke-width="1.5" />
<line x1="1579.70" y1="444.00" x2="1582.30" y2="444.00" stroke="#000" stroke-width="1.5" />
<line x1="1785.20" y1="444.00" x2="1782.60" y2="444.00" stroke="#000" stroke-width="1.5" />
<line x1="1579.70" y1="417.10" x2="1582.30" y2="417.10" stroke="#000" stroke-width="1.5" />
<line x1="1785.20" y1="417.10" x2="1782.60" y2="417.10" stroke="#000" stroke-width="1.5" />
<line x1="1579.70" y1="390.20" x2="1582.30" y2="390.20" stroke="#000" stroke-width="1.5" />
<line x1="1785.20" y1="390.20" x2="1782.60" y2="390.20" stroke="#000" stroke-width="1.5" />
<line x1="1579.70" y1="363.30" x2="1582.30" y2="363.30" stroke="#000" stroke-width="1.5" />
<line x1="1785.20" y1="363.30" x2="1782.60" y2="363.30" stroke="#000" stroke-width="1.5" />
<line x1="1579.70" y1="336.40" x2="1582.30" y2="336.40" stroke="#000" stroke-width="1.5" />
<line x1="1785.20" y1="336.40" x2="1782.60" y2="336.40" stroke="#000" stroke-width="1.5" />
<line x1="1579.70" y1="309.50" x2="1582.30" y2="309.50" stroke="#000" stroke-width="1.5" />
<line x1="1785.20" y1="309.50" x2="1782.60" y2="309.50" stroke="#000" stroke-width="1.5" />
<rect x="1579.70" y="309.90" width="205.50" height="161.00" stroke="#000" stroke-width="1.7" fill="none" />
<text x="1593.10" y="490.00" font-size="19.1" text-anchor="middle" fill="#000">0</text>
<text x="1636.22" y="490.00" font-size="19.1" text-anchor="middle" fill="#000">4</text>
<text x="1679.34" y="490.00" font-size="19.1" text-anchor="middle" fill="#000">8</text>
<text x="1722.46" y="490.00" font-size="19.1" text-anchor="middle" fill="#000">1<tspan dx="-1.3">2</tspan></text>
<text x="1765.58" y="490.00" font-size="19.1" text-anchor="middle" fill="#000">1<tspan dx="-1.3">6</tspan></text>
<text x="1575.80" y="478.88" font-size="19.1" text-anchor="end" fill="#000">0</text>
<text x="1575.80" y="424.18" font-size="19.1" text-anchor="end" fill="#000">20</text>
<text x="1575.80" y="370.38" font-size="19.1" text-anchor="end" fill="#000">40</text>
<text x="1575.80" y="316.58" font-size="19.1" text-anchor="end" fill="#000">60</text>
<text x="1681.00" y="305.60" font-size="23.7" text-anchor="middle" fill="#000">Cell 4, shuffled</text>
<text x="1776.50" y="334.00" font-size="18.7" text-anchor="end" fill="#000"><tspan font-style="italic">P</tspan> = 0.97</text>
<text x="1709.00" y="361.80" font-size="17" text-anchor="start" fill="#DC4F40">Poisson</text>
<text x="1709.00" y="381.00" font-size="17" text-anchor="start" fill="#3B77BC">snHi-C</text>
<rect x="1839.41" y="461.10" width="19.36" height="10.10" stroke="#000" stroke-width="1.3" fill="#3B77BC" />
<rect x="1858.77" y="461.10" width="19.36" height="10.10" stroke="#000" stroke-width="1.3" fill="#3B77BC" />
<rect x="1878.13" y="430.80" width="19.36" height="40.40" stroke="#000" stroke-width="1.3" fill="#3B77BC" />
<rect x="1897.49" y="360.10" width="19.36" height="111.10" stroke="#000" stroke-width="1.3" fill="#3B77BC" />
<rect x="1916.85" y="400.50" width="19.36" height="70.70" stroke="#000" stroke-width="1.3" fill="#3B77BC" />
<rect x="1936.21" y="360.10" width="19.36" height="111.10" stroke="#000" stroke-width="1.3" fill="#3B77BC" />
<rect x="1955.57" y="410.60" width="19.36" height="60.60" stroke="#000" stroke-width="1.3" fill="#3B77BC" />
<rect x="1974.93" y="390.40" width="19.36" height="80.80" stroke="#000" stroke-width="1.3" fill="#3B77BC" />
<rect x="1994.29" y="440.90" width="19.36" height="30.30" stroke="#000" stroke-width="1.3" fill="#3B77BC" />
<polyline points="1866.55,468.71 1870.60,467.06 1874.65,464.56 1878.70,460.96 1882.75,455.97 1886.80,449.32 1890.85,440.83 1894.90,430.40 1898.95,418.09 1903.00,404.17 1907.05,389.09 1911.10,373.49 1915.15,358.15 1919.20,343.94 1923.25,331.72 1927.30,322.24 1931.35,316.10 1935.40,313.64 1939.45,314.95 1943.50,319.86 1947.55,327.94 1951.60,338.61 1955.65,351.15 1959.70,364.81 1963.75,378.89 1967.80,392.73 1971.85,405.84 1975.90,417.82 1979.95,428.44 1984.00,437.60 1988.05,445.28 1992.10,451.58 1996.15,456.60 2000.20,460.53 2004.25,463.54 2008.30,465.79 2012.35,467.45 2016.40,468.64 2020.45,469.48" fill="none" stroke="#DC4F40" stroke-width="3.9" stroke-linejoin="round" stroke-linecap="butt"/>
<line x1="1830.10" y1="309.40" x2="1830.10" y2="312.00" stroke="#000" stroke-width="1.5" />
<line x1="1830.10" y1="471.20" x2="1830.10" y2="468.60" stroke="#000" stroke-width="1.5" />
<line x1="1850.35" y1="309.40" x2="1850.35" y2="312.00" stroke="#000" stroke-width="1.5" />
<line x1="1850.35" y1="471.20" x2="1850.35" y2="468.60" stroke="#000" stroke-width="1.5" />
<line x1="1870.60" y1="309.40" x2="1870.60" y2="312.00" stroke="#000" stroke-width="1.5" />
<line x1="1870.60" y1="471.20" x2="1870.60" y2="468.60" stroke="#000" stroke-width="1.5" />
<line x1="1890.85" y1="309.40" x2="1890.85" y2="312.00" stroke="#000" stroke-width="1.5" />
<line x1="1890.85" y1="471.20" x2="1890.85" y2="468.60" stroke="#000" stroke-width="1.5" />
<line x1="1911.10" y1="309.40" x2="1911.10" y2="312.00" stroke="#000" stroke-width="1.5" />
<line x1="1911.10" y1="471.20" x2="1911.10" y2="468.60" stroke="#000" stroke-width="1.5" />
<line x1="1931.35" y1="309.40" x2="1931.35" y2="312.00" stroke="#000" stroke-width="1.5" />
<line x1="1931.35" y1="471.20" x2="1931.35" y2="468.60" stroke="#000" stroke-width="1.5" />
<line x1="1951.60" y1="309.40" x2="1951.60" y2="312.00" stroke="#000" stroke-width="1.5" />
<line x1="1951.60" y1="471.20" x2="1951.60" y2="468.60" stroke="#000" stroke-width="1.5" />
<line x1="1971.85" y1="309.40" x2="1971.85" y2="312.00" stroke="#000" stroke-width="1.5" />
<line x1="1971.85" y1="471.20" x2="1971.85" y2="468.60" stroke="#000" stroke-width="1.5" />
<line x1="1992.10" y1="309.40" x2="1992.10" y2="312.00" stroke="#000" stroke-width="1.5" />
<line x1="1992.10" y1="471.20" x2="1992.10" y2="468.60" stroke="#000" stroke-width="1.5" />
<line x1="2012.35" y1="309.40" x2="2012.35" y2="312.00" stroke="#000" stroke-width="1.5" />
<line x1="2012.35" y1="471.20" x2="2012.35" y2="468.60" stroke="#000" stroke-width="1.5" />
<line x1="1818.70" y1="471.20" x2="1821.30" y2="471.20" stroke="#000" stroke-width="1.5" />
<line x1="2024.60" y1="471.20" x2="2022.00" y2="471.20" stroke="#000" stroke-width="1.5" />
<line x1="1818.70" y1="451.00" x2="1821.30" y2="451.00" stroke="#000" stroke-width="1.5" />
<line x1="2024.60" y1="451.00" x2="2022.00" y2="451.00" stroke="#000" stroke-width="1.5" />
<line x1="1818.70" y1="430.80" x2="1821.30" y2="430.80" stroke="#000" stroke-width="1.5" />
<line x1="2024.60" y1="430.80" x2="2022.00" y2="430.80" stroke="#000" stroke-width="1.5" />
<line x1="1818.70" y1="410.60" x2="1821.30" y2="410.60" stroke="#000" stroke-width="1.5" />
<line x1="2024.60" y1="410.60" x2="2022.00" y2="410.60" stroke="#000" stroke-width="1.5" />
<line x1="1818.70" y1="390.40" x2="1821.30" y2="390.40" stroke="#000" stroke-width="1.5" />
<line x1="2024.60" y1="390.40" x2="2022.00" y2="390.40" stroke="#000" stroke-width="1.5" />
<line x1="1818.70" y1="370.20" x2="1821.30" y2="370.20" stroke="#000" stroke-width="1.5" />
<line x1="2024.60" y1="370.20" x2="2022.00" y2="370.20" stroke="#000" stroke-width="1.5" />
<line x1="1818.70" y1="350.00" x2="1821.30" y2="350.00" stroke="#000" stroke-width="1.5" />
<line x1="2024.60" y1="350.00" x2="2022.00" y2="350.00" stroke="#000" stroke-width="1.5" />
<line x1="1818.70" y1="329.80" x2="1821.30" y2="329.80" stroke="#000" stroke-width="1.5" />
<line x1="2024.60" y1="329.80" x2="2022.00" y2="329.80" stroke="#000" stroke-width="1.5" />
<line x1="1818.70" y1="309.60" x2="1821.30" y2="309.60" stroke="#000" stroke-width="1.5" />
<line x1="2024.60" y1="309.60" x2="2022.00" y2="309.60" stroke="#000" stroke-width="1.5" />
<rect x="1818.70" y="309.40" width="205.90" height="161.80" stroke="#000" stroke-width="1.7" fill="none" />
<text x="1830.90" y="490.00" font-size="19.1" text-anchor="middle" fill="#000">1<tspan dx="-1.3">5</tspan></text>
<text x="1871.40" y="490.00" font-size="19.1" text-anchor="middle" fill="#000">25</text>
<text x="1911.90" y="490.00" font-size="19.1" text-anchor="middle" fill="#000">35</text>
<text x="1952.40" y="490.00" font-size="19.1" text-anchor="middle" fill="#000">45</text>
<text x="1992.90" y="490.00" font-size="19.1" text-anchor="middle" fill="#000">55</text>
<text x="1814.80" y="479.18" font-size="19.1" text-anchor="end" fill="#000">0</text>
<text x="1814.80" y="437.88" font-size="19.1" text-anchor="end" fill="#000">4</text>
<text x="1814.80" y="397.48" font-size="19.1" text-anchor="end" fill="#000">8</text>
<text x="1814.80" y="357.08" font-size="19.1" text-anchor="end" fill="#000">1<tspan dx="-1.3">2</tspan></text>
<text x="1814.80" y="316.68" font-size="19.1" text-anchor="end" fill="#000">1<tspan dx="-1.3">6</tspan></text>
<text x="1922.60" y="305.80" font-size="23.7" text-anchor="middle" fill="#000">Cell 6, shuffled</text>
<text x="1825.00" y="334.20" font-size="18.7" text-anchor="start" fill="#000"><tspan font-style="italic">P</tspan> = 0.19</text>
<text x="1827.00" y="362.10" font-size="17" text-anchor="start" fill="#DC4F40">Poisson</text>
<text x="1827.00" y="381.30" font-size="17" text-anchor="start" fill="#3B77BC">snHi-C</text>
<text x="1802.00" y="520.70" font-size="23.2" text-anchor="middle" fill="#000">N of contacts per window</text>
<text x="1536.00" y="275.70" font-size="23.2" text-anchor="middle" fill="#000" transform="rotate(-90 1536.00 275.70)">N of windows</text>
</svg>
</body></html>
